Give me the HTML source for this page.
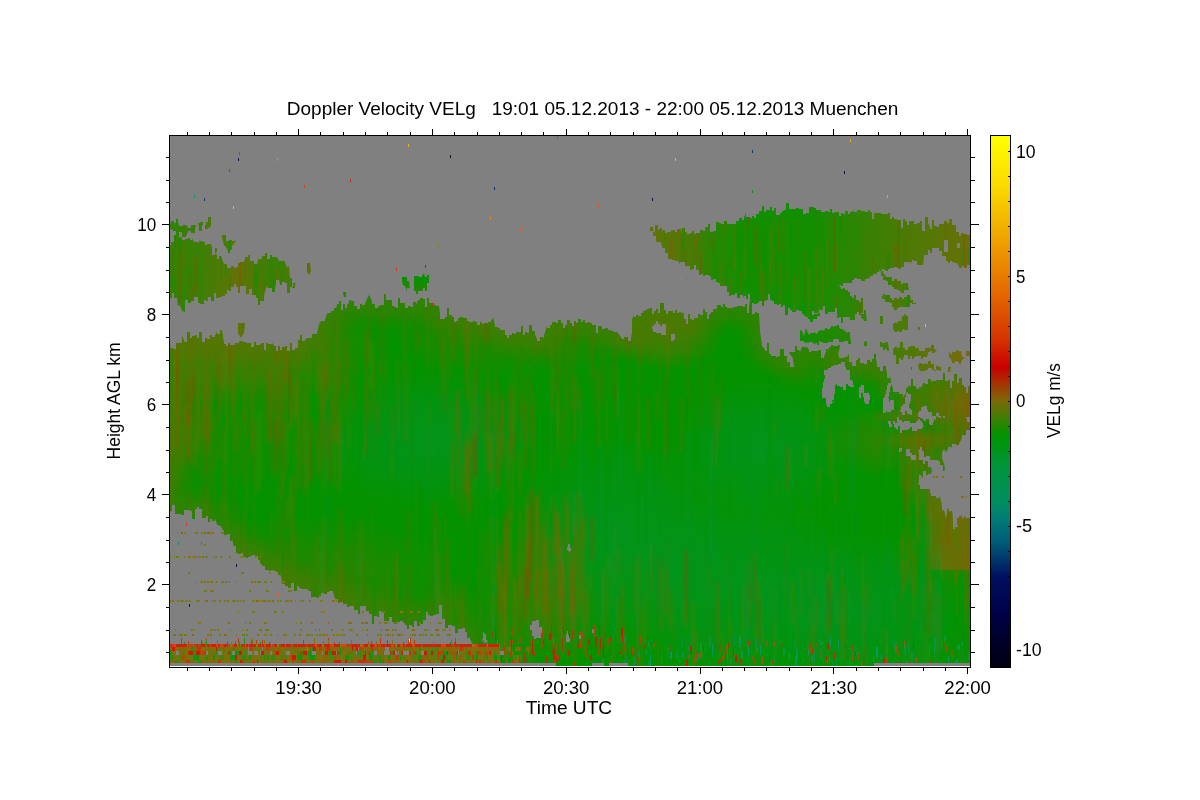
<!DOCTYPE html>
<html lang="en"><head><meta charset="utf-8"><title>Doppler Velocity VELg</title>
<style>html,body{margin:0;padding:0;background:#fff}svg{display:block}text{font-family:"Liberation Sans",Arial,Helvetica,sans-serif;fill:#000}</style></head><body>
<svg width="1200" height="800" viewBox="0 0 1200 800">
<rect width="1200" height="800" fill="#fff"/>
<defs>
<clipPath id="cl">
<polygon points="169,346 169,348 171,348 171,348 173,348 173,349 176,349 176,346 176,343 179,343 179,343 179,343 182,343 182,336 185,343 185,342 187,342 187,332 190,332 190,339 190,338 192,338 192,336 195,336 195,339 195,335 197,335 197,338 199,338 199,338 199,332 202,332 202,342 205,342 205,335 205,338 207,338 207,339 210,339 210,339 210,335 212,335 212,337 215,337 215,336 217,332 217,334 220,334 220,330 222,330 222,331 224,344 224,344 226,344 226,346 228,346 228,343 230,343 230,345 230,345 233,345 233,345 235,345 235,343 238,343 238,344 240,341 240,341 243,341 243,342 246,342 246,343 246,343 249,343 249,343 251,343 251,344 251,347 254,347 254,342 256,342 256,345 258,345 258,345 260,345 260,345 262,343 262,343 264,343 264,350 266,350 266,343 268,343 268,344 270,344 270,344 272,344 272,343 274,346 274,346 276,346 276,351 278,351 278,346 280,346 280,346 280,350 282,350 282,347 285,347 285,346 287,346 287,348 287,351 290,351 290,343 292,343 292,350 295,350 295,349 295,348 298,348 298,342 298,340 300,340 300,335 302,335 302,339 302,341 305,341 305,339 307,339 307,335 307,338 310,338 310,338 312,338 312,335 312,334 315,334 315,334 317,334 317,334 319,325 321,321 321,321 325,321 325,320 327,314 328,313 328,313 331,313 331,311 331,311 334,311 334,308 336,308 336,310 337,305 337,304 339,304 339,301 341,301 341,310 343,310 343,304 345,304 345,308 347,308 347,305 349,303 349,300 351,300 351,301 354,301 354,301 354,306 357,306 357,306 357,309 360,309 360,304 362,304 362,305 365,305 365,304 367,299 369,295 372,301 372,304 375,304 375,306 375,308 378,308 378,306 380,306 380,306 380,305 384,305 384,302 384,294 386,294 386,300 388,300 388,299 388,300 392,300 392,305 392,306 394,306 394,307 396,307 396,308 396,308 398,308 398,298 400,298 400,304 400,303 403,303 403,303 405,303 405,301 405,308 408,308 408,306 408,306 411,306 411,307 413,307 413,302 416,302 416,305 418,300 418,300 420,300 420,298 423,298 423,299 425,299 425,299 425,307 427,307 427,298 429,298 429,303 429,303 432,303 432,303 434,303 434,305 436,305 436,304 436,306 439,306 440,315 440,319 443,319 443,319 445,319 445,318 445,317 447,317 447,308 449,308 449,314 449,315 452,315 452,317 454,317 454,319 454,322 456,322 456,321 458,321 458,319 458,318 460,318 460,317 463,317 463,318 465,318 465,316 465,318 467,318 467,321 469,321 469,320 469,322 473,322 473,323 473,321 475,321 475,322 477,322 477,325 477,325 480,325 480,323 480,322 482,322 482,324 484,324 484,323 486,323 486,323 488,323 488,322 490,322 490,323 493,318 495,326 495,327 498,327 498,328 500,328 500,330 500,330 503,330 503,330 505,330 505,333 505,335 507,335 507,338 509,338 509,335 509,335 512,335 512,333 514,333 514,334 514,334 516,334 516,332 518,332 518,333 518,332 521,332 521,326 523,326 523,335 525,335 525,332 527,332 527,333 529,333 529,325 532,325 532,333 532,331 535,331 535,335 537,340 537,341 540,341 540,337 543,337 543,340 545,333 547,326 547,328 550,328 550,325 552,325 552,324 552,322 554,322 554,322 556,322 556,322 556,323 558,323 558,320 561,320 561,323 563,323 563,328 565,328 565,323 565,325 567,325 567,320 570,320 570,323 572,323 572,326 574,326 574,323 574,321 576,321 576,323 578,323 578,319 581,319 581,322 581,322 583,322 583,320 585,320 585,323 587,323 587,322 590,322 590,323 592,323 592,324 592,325 594,325 594,325 596,325 596,333 598,333 598,325 598,326 602,326 602,329 602,329 605,329 605,325 605,328 608,328 608,330 608,330 611,330 611,331 614,331 614,331 614,332 617,332 617,332 620,336 622,339 622,339 624,339 624,337 626,337 626,337 628,337 628,341 631,341 631,339 632,333 632,320 634,315 634,317 636,317 636,315 638,315 638,316 641,316 641,314 641,313 643,313 643,311 645,311 645,310 647,310 647,311 647,309 649,309 649,308 652,308 652,314 654,314 654,311 656,311 656,309 658,309 658,313 660,313 660,303 662,303 662,303 664,303 664,310 666,310 666,314 668,314 668,311 670,311 670,311 673,311 673,313 675,313 675,310 677,310 677,313 679,313 679,312 681,312 681,313 683,313 683,311 684,319 684,319 686,319 686,324 688,324 688,314 690,314 690,319 692,319 692,320 694,320 694,319 694,318 698,318 698,315 698,314 700,314 700,315 703,315 703,311 703,309 705,309 705,312 707,312 707,319 709,319 709,314 711,314 711,312 713,312 713,309 716,309 716,312 717,307 717,305 719,305 719,305 721,305 721,307 723,307 723,304 725,304 725,307 727,307 727,308 729,308 729,308 731,308 731,308 733,308 733,307 735,307 735,307 737,307 737,306 739,306 739,306 741,306 741,306 743,306 743,307 745,307 745,304 747,304 747,313 749,313 749,307 750,300 752,300 752,314 752,314 755,314 755,312 757,312 757,313 759,313 759,315 760,332 762,346 765,350 765,351 767,351 767,343 769,343 769,354 771,354 771,352 771,356 773,356 773,356 776,356 776,356 776,357 778,357 778,356 780,356 780,357 780,354 780,349 784,349 784,354 784,359 784,356 787,356 787,360 787,362 790,362 790,365 790,367 794,367 794,366 793,358 790,354 789,352 789,352 793,352 793,349 793,352 795,352 795,346 797,346 797,350 799,350 799,351 801,351 801,349 803,346 803,347 807,347 807,347 809,350 809,352 811,352 811,351 813,351 813,351 816,351 816,351 818,351 818,351 818,350 821,350 821,354 821,358 824,358 824,357 826,352 826,349 829,349 829,350 829,346 829,347 831,347 831,345 833,345 833,346 836,346 836,346 838,346 838,345 840,345 840,346 839,350 838,354 839,357 839,358 842,358 842,358 844,358 844,357 847,357 847,357 849,354 849,362 852,362 852,357 852,366 856,366 856,360 856,360 858,360 858,358 860,358 860,362 860,363 864,363 864,362 864,364 867,364 867,360 867,360 870,360 870,362 872,362 872,359 874,359 874,354 876,354 876,359 877,367 880,367 880,372 880,371 883,371 883,366 886,366 886,373 887,370 887,378 890,378 890,374 891,384 893,388 893,392 896,392 896,393 896,392 899,392 899,394 899,394 903,394 903,398 906,393 906,389 909,386 909,386 911,386 911,379 913,379 913,386 915,386 915,386 917,389 917,389 919,389 919,387 921,387 921,389 923,384 923,383 925,383 925,384 928,384 928,381 928,379 931,379 931,381 932,384 932,381 936,381 936,381 936,380 938,380 938,380 940,380 940,380 943,380 943,373 945,373 945,381 945,381 948,381 948,380 950,380 950,381 950,388 952,388 952,381 954,381 954,374 957,374 957,383 959,383 959,381 959,384 959,378 962,378 962,385 964,385 964,386 964,387 966,387 966,393 968,393 968,386 970,386 970,386 970,429 970,430 966,430 966,430 966,435 966,435 962,435 962,436 961,440 959,443 959,445 956,445 956,444 956,444 952,444 952,446 951,448 951,447 948,447 948,449 946,452 944,449 942,452 942,459 944,464 945,470 943,471 943,465 940,465 940,461 938,461 938,460 938,460 934,460 934,459 934,460 932,460 932,460 930,460 930,460 930,456 926,456 926,455 926,457 924,457 924,451 922,451 922,447 920,447 920,449 918,450 919,455 919,460 921,460 921,460 923,460 923,462 923,464 925,464 925,461 928,461 928,464 928,467 931,467 931,468 932,472 930,474 930,474 928,474 928,475 926,475 926,471 923,471 923,476 921,476 921,475 919,475 919,475 918,488 918,488 918,485 920,485 920,489 922,489 922,489 925,489 925,489 927,489 927,489 929,489 929,488 931,496 931,496 934,496 934,496 936,496 936,498 939,498 939,496 941,501 942,510 944,511 946,520 948,508 949,512 952,511 953,526 953,529 955,529 955,527 958,527 958,526 957,521 957,518 959,518 959,516 961,516 961,514 962,520 965,516 966,521 966,518 970,518 970,521 970,666 472,666 472,643 469,636 469,638 467,638 467,632 465,632 465,633 465,628 462,628 462,623 462,629 458,629 458,633 458,633 455,633 455,629 455,626 452,626 452,622 452,625 448,625 448,629 448,628 445,628 445,622 445,619 442,619 442,612 442,605 439,605 439,614 436,614 436,614 436,612 436,615 433,615 433,614 433,616 430,616 430,615 428,615 428,612 426,612 426,616 426,620 423,620 423,622 423,624 420,624 420,626 417,626 417,623 417,621 414,621 414,627 412,627 412,626 412,625 409,625 409,629 407,629 407,629 407,625 405,625 405,623 403,623 403,620 403,621 400,621 400,622 397,622 397,624 397,624 394,624 394,622 392,622 392,620 392,617 389,617 389,621 386,621 386,617 386,621 384,621 384,612 382,612 382,610 382,611 379,611 379,617 377,617 377,616 377,616 374,616 374,624 372,624 372,616 372,614 369,614 369,611 366,611 366,611 366,606 363,606 363,608 363,606 360,606 360,614 358,614 358,614 358,610 356,610 356,610 354,610 354,606 354,606 351,606 351,606 349,606 349,607 347,607 347,604 347,604 345,604 345,604 343,604 343,602 340,602 340,604 340,603 338,603 338,599 335,599 335,598 333,592 333,591 329,591 329,593 329,592 327,592 327,594 324,594 324,593 321,593 321,594 321,596 319,596 319,598 317,598 317,599 317,597 314,597 314,598 314,597 311,597 311,591 308,591 308,590 308,589 306,589 306,589 304,589 304,589 301,589 301,589 301,588 299,588 299,586 297,586 297,586 297,591 294,591 294,583 291,583 291,590 291,588 288,588 288,584 288,586 285,586 285,584 282,584 282,580 280,573 280,575 278,575 278,572 276,572 276,571 274,571 274,572 274,570 271,570 271,571 269,571 269,570 267,570 267,571 267,570 265,570 265,566 262,566 262,564 262,564 260,564 260,560 258,560 258,558 258,556 255,556 255,555 252,555 252,557 252,556 250,556 250,557 248,557 248,558 246,558 246,556 246,557 243,557 243,553 241,553 241,554 238,554 238,553 238,553 236,553 236,546 234,546 234,547 232,538 232,541 230,541 230,534 227,534 227,538 227,535 224,535 224,531 221,527 221,526 219,526 219,525 217,525 217,524 215,518 215,521 212,521 212,519 210,519 210,519 210,522 208,522 208,516 206,516 206,514 206,518 202,518 202,511 202,509 199,509 199,508 199,507 197,507 197,509 195,509 195,511 195,519 192,519 192,511 190,511 190,514 190,510 187,510 187,513 187,510 184,510 184,512 184,515 181,515 181,514 179,514 179,514 179,514 177,514 177,514 175,514 175,511 175,505 172,505 172,511 169,511 169,507" />
<polygon points="402,281 402,277 405,277 405,278 405,277 407,277 407,281 409,281 409,281 410,290 410,288 407,288 407,291 405,286 403,285" />
<polygon points="414,277 414,276 416,276 416,276 419,276 419,277 422,277 422,276 424,273 425,277 425,277 427,277 427,275 429,275 429,278 429,291 429,283 427,283 427,291 425,291 425,288 423,288 423,291 420,291 420,291 418,291 418,294 416,294 416,291 414,291 414,291" />
<polygon points="343,292 343,292 346,292 346,292 346,297 344,297" />
</clipPath>
<clipPath id="clS">
<polygon points="800,330 802,331 804,336 806,328 808,333 810,336 810,333 814,333 814,332 817,334 819,330 819,331 823,331 823,332 823,330 827,330 827,330 827,329 830,329 830,329 830,328 834,328 834,327 834,326 836,326 836,326 839,326 839,327 840,330 840,329 843,329 843,331 845,331 845,330 847,334 847,336 850,336 850,336 850,342 850,344 848,344 848,341 845,341 845,342 844,340 844,341 841,341 841,342 839,342 839,340 838,339 838,338 834,338 834,339 833,340 833,342 829,342 829,341 828,343 828,343 826,343 826,343 823,343 823,342 823,340 821,340 821,341 819,341 819,345 817,345 817,343 814,344 812,342 812,342 809,342 809,343 807,343 807,342 804,343 804,341 800,341 800,342" />
<polygon points="803,313 803,314 805,314 805,313 807,313 807,314 810,314 810,313 812,313 812,315 814,315 814,314 816,314 816,314 818,314 818,313 820,313 820,313 820,316 820,316 817,316 817,316 817,319 813,319 813,318 813,322 810,322 810,319 808,319 808,318 807,316 807,315 804,315 804,315" />
<polygon points="861,314 861,314 864,314 864,315 866,315 866,314 867,321 864,321 863,319 861,318" />
<polygon points="880,316 883,316 883,324 880,324" />
<polygon points="864,342 867,341 867,346 864,346" />
<polygon points="764,313 764,315 767,315 767,313 769,313 769,313 769,316 769,314 765,314 765,316" />
<polygon points="893,324 896,322 898,326 898,321 901,321 901,324 902,317 905,314 908,317 908,331 908,330 906,330 906,330 904,330 904,329 902,329 902,332 899,332 899,331 897,331 897,332 895,332 895,332 893,329" />
<polygon points="918,327 920,327 920,330 918,330" />
<polygon points="894,349 896,349 896,348 899,348 899,347 902,347 902,347 902,348 905,348 905,349 905,350 908,350 908,347 910,347 910,346 910,346 912,346 912,346 915,346 915,348 918,348 918,346 919,349 919,351 921,351 921,351 923,351 923,351 925,351 925,348 928,348 928,349 929,346 929,348 931,348 931,345 934,345 934,346 934,349 937,350 934,353 934,353 932,353 932,351 930,351 930,352 928,352 928,354 927,357 927,357 925,357 925,357 923,357 923,359 921,359 921,356 918,356 918,356 916,356 916,357 914,357 914,359 912,359 912,356 910,356 910,359 908,359 908,355 906,355 906,355 904,355 904,357 902,359 902,358 899,358 899,359 899,357 899,357 897,357 897,354 894,354 894,356 893,353" />
<polygon points="880,344 880,342 882,342 882,343 885,343 885,342 888,342 888,343 889,349 889,349 887,349 887,349 884,349 884,347 882,347 882,344 880,344 880,349" />
<polygon points="864,343 867,341 867,346 864,346" />
<polygon points="918,366 920,362 920,363 922,363 922,364 925,364 925,364 926,362 926,364 928,364 928,361 931,361 931,364 933,364 933,362 934,365 934,370 936,370 936,366 939,366 939,367 941,367 941,366 941,370 941,371 939,371 939,370 936,370 936,371 934,371 934,370 932,370 932,368 930,368 930,368 928,368 928,370 926,370 926,370 924,372 924,371 921,371 921,372 919,369" />
<polygon points="949,351 951,355 953,351 953,352 956,352 956,350 958,350 958,351 961,351 961,351 962,357 965,357 962,360 961,362 961,364 959,364 959,362 957,362 957,361 955,361 955,363 952,363 952,362 951,359 949,357" />
<polygon points="966,350 966,351 970,351 970,349 970,357 970,356 966,356 966,357" />
<polygon points="948,367 951,367 950,372 948,372" />
<polygon points="820,330 822,330 822,331 825,331 825,328 827,328 827,332 829,332 829,330 831,327 831,326 833,326 833,327 835,327 835,326 837,326 837,325 839,325 839,327 841,330 841,330 844,330 844,330 847,334 847,332 850,332 850,336 851,342 851,344 848,344 848,340 845,340 845,342 844,340 844,342 841,342 841,339 839,339 839,340 838,338 838,339 834,339 834,338 832,340 832,340 829,340 829,340 826,342 826,342 824,342 824,342 822,342 822,342 820,342 820,342" />
<polygon points="861,314 861,316 864,316 864,307 866,307 866,314 867,321 864,321 863,319 861,318" />
<polygon points="894,324 896,322 897,326 897,323 899,323 899,326 901,326 901,324 903,324 903,324 903,332 903,330 900,330 900,330 898,330 898,330 896,330 896,332 894,328" />
<polygon points="880,344 880,342 882,342 882,343 885,343 885,342 887,342 887,343 889,349 889,351 887,351 887,348 885,348 885,350 883,350 883,347 880,347 880,349" />
<polygon points="893,349 896,346 898,349 898,351 900,351 900,342 903,342 903,349 903,359 903,360 901,360 901,358 899,358 899,358 899,364 896,364 896,355 894,355 894,356" />
</clipPath>
<clipPath id="clUR">
<polygon points="650,226 650,227 653,227 653,231 655,233 655,225 658,225 658,231 661,227 663,232 663,230 665,230 665,233 667,233 667,232 670,232 670,232 672,230 672,230 675,230 675,232 677,232 677,231 677,229 681,229 681,228 682,234 682,228 685,228 685,232 687,232 687,233 687,234 690,234 690,233 692,233 692,231 692,231 694,231 694,234 696,234 696,233 696,233 700,233 700,231 700,230 703,230 703,230 703,231 705,231 705,227 708,227 708,226 708,224 710,224 710,232 713,232 713,225 713,231 716,231 716,222 719,222 719,223 719,223 721,223 721,224 724,224 724,222 724,221 727,221 727,224 730,224 730,224 730,224 732,224 732,224 734,224 734,224 736,224 736,222 736,221 739,221 739,218 742,218 742,220 744,220 744,218 746,212 746,217 750,217 750,218 750,218 752,218 752,216 754,216 754,218 756,218 756,216 756,214 759,214 759,211 762,211 762,207 762,206 764,206 764,212 766,212 766,211 766,210 770,210 770,207 770,207 772,207 772,211 774,211 774,208 776,208 776,211 776,215 780,215 780,215 780,213 782,213 782,211 784,211 784,210 786,210 786,207 786,203 789,203 789,209 792,209 792,212 792,209 794,209 794,209 796,209 796,208 799,208 799,207 799,209 801,209 801,209 803,209 803,208 803,214 806,214 806,213 809,213 809,207 809,207 812,207 812,207 814,207 814,210 814,208 816,208 816,210 819,210 819,210 821,210 821,210 821,212 823,212 823,212 825,212 825,211 828,211 828,213 828,212 830,212 830,209 832,209 832,211 832,213 834,213 834,212 836,212 836,213 836,212 839,212 839,216 841,216 841,214 841,213 843,213 843,214 845,214 845,211 848,211 848,212 848,214 850,214 850,212 852,212 852,211 854,211 854,213 854,212 857,212 857,210 859,210 859,210 861,210 861,210 861,211 863,211 863,211 865,211 865,212 868,212 868,211 868,210 870,210 870,212 872,212 872,214 872,219 874,219 874,213 877,213 877,213 879,213 879,213 881,213 881,214 881,214 883,214 883,214 886,214 886,213 886,214 888,214 888,213 890,213 890,213 890,221 890,219 892,219 892,217 894,217 894,218 894,219 897,219 897,220 899,220 899,220 901,220 901,221 901,228 903,228 903,219 905,219 905,221 907,221 907,225 909,225 909,221 911,221 911,220 911,221 914,221 914,224 914,224 917,224 917,223 920,223 920,221 922,221 922,224 922,231 925,231 925,217 928,217 928,223 930,227 930,229 932,229 932,220 934,220 934,226 937,226 937,227 937,227 939,227 939,224 942,224 942,223 942,224 944,224 944,221 947,221 947,222 947,223 949,223 949,219 952,219 952,221 952,225 956,225 956,228 956,232 959,232 959,231 959,236 961,236 961,233 963,233 963,233 963,234 967,234 967,235 967,235 970,235 970,233 970,267 970,265 967,265 967,268 964,268 964,266 964,266 962,266 962,268 959,268 959,266 957,264 957,263 954,263 954,262 952,262 952,261 950,261 950,263 950,263 948,263 948,261 946,261 946,258 946,256 942,256 942,253 942,251 939,251 939,248 939,248 936,248 936,247 936,248 932,248 932,251 932,253 930,253 930,250 928,250 928,253 928,255 924,255 924,256 923,266 923,265 920,265 920,266 920,265 917,265 917,263 917,261 914,261 914,260 912,260 912,261 910,264 910,262 907,262 907,262 904,262 904,264 904,267 901,267 901,267 901,269 899,269 899,268 897,268 897,267 894,267 894,268 892,268 892,268 892,268 890,268 890,269 888,269 888,271 886,271 886,270 884,270 884,269 882,269 882,270 880,270 880,270 879,272 879,271 881,271 881,271 883,271 883,273 886,276 886,277 889,277 889,280 889,277 892,277 892,281 894,281 894,281 894,279 897,279 897,281 899,281 899,281 901,281 901,284 903,284 903,282 903,283 906,283 906,283 908,283 908,286 909,291 909,290 906,290 906,290 904,290 904,293 901,293 901,291 901,291 899,291 899,290 897,290 897,289 894,289 894,288 894,287 892,287 892,285 890,285 890,285 890,285 888,285 888,281 886,281 886,281 886,280 883,280 883,276 881,276 881,276 881,270 879,270 879,272 877,272 877,273 877,274 873,274 873,274 873,276 870,276 870,278 870,278 868,278 868,279 865,279 865,281 863,281 863,280 863,281 861,281 861,279 859,279 859,280 859,279 857,279 857,278 854,278 854,280 852,280 852,283 850,283 850,281 850,283 848,283 848,283 845,283 845,282 845,283 843,283 843,286 841,286 841,285 839,285 839,285 841,288 841,289 843,289 843,288 845,288 845,290 848,290 848,291 848,292 850,292 850,296 852,296 852,294 852,298 854,298 854,295 856,295 856,299 856,300 859,300 859,302 861,302 861,298 863,298 863,301 863,313 863,313 861,313 861,315 859,315 859,312 857,312 857,313 857,318 857,314 855,314 855,320 852,320 852,320 850,320 850,319 850,317 848,317 848,317 845,317 845,315 845,317 843,317 843,323 841,323 841,317 839,317 839,318 839,318 837,318 837,308 835,308 835,312 832,312 832,312 832,312 830,312 830,312 828,312 828,314 825,314 825,306 823,306 823,312 823,310 820,310 820,308 818,314 818,313 814,313 814,316 814,311 812,311 812,317 809,317 809,318 809,317 806,317 806,316 804,316 804,314 804,314 802,314 802,311 799,311 799,310 799,310 796,310 796,312 794,312 794,311 794,312 792,312 792,310 790,310 790,308 788,308 788,310 788,315 785,315 785,305 783,305 783,307 781,307 781,304 781,304 779,304 779,305 777,305 777,304 774,304 774,301 772,301 772,300 770,300 770,301 770,294 768,294 768,300 766,300 766,301 764,301 764,302 764,306 762,306 762,301 759,301 759,303 757,303 757,304 757,304 754,304 754,303 752,303 752,300 750,300 750,294 748,294 748,299 746,299 746,296 744,296 744,298 742,294 742,295 740,295 740,298 737,298 737,299 737,293 735,293 735,295 733,295 733,295 731,295 731,293 731,296 729,296 729,292 727,292 727,286 725,286 725,287 725,286 723,286 723,286 720,286 720,283 718,283 718,282 718,282 716,282 716,279 713,279 713,281 713,280 711,280 711,276 709,276 709,275 709,275 707,275 707,275 705,275 705,276 703,276 703,275 703,274 701,274 701,275 699,275 699,272 699,270 696,270 696,265 694,265 694,272 694,269 692,269 692,270 690,270 690,267 690,266 687,266 687,266 685,266 685,264 685,262 682,262 682,262 680,262 680,264 677,260 677,261 675,261 675,260 672,260 672,260 672,259 668,259 668,255 668,253 665,253 665,251 665,248 662,248 662,246 660,241 660,242 656,242 656,238 656,236 653,236 653,235 653,231 650,231" />
<polygon points="881,295 881,296 883,296 883,294 885,294 885,295 888,295 888,295 888,295 890,295 890,298 892,298 892,297 892,300 894,300 894,298 897,298 897,299 899,299 899,299 899,297 902,297 902,299 904,299 904,297 904,297 907,297 907,295 910,295 910,295 911,300 911,300 913,300 913,303 916,303 916,301 916,304 912,304 912,303 912,303 910,303 910,307 908,307 908,305 908,307 906,307 906,307 903,307 903,309 903,307 901,307 901,307 899,307 899,308 897,308 897,308 897,310 894,310 894,307 892,307 892,305 892,303 890,303 890,302 888,302 888,302 888,302 885,302 885,299 883,299 883,300" />
</clipPath>
<clipPath id="clUL">
<polygon points="169,242 169,245 171,245 171,242 174,242 174,237 174,235 176,235 176,232 178,232 178,240 178,238 180,238 180,237 182,237 182,241 182,240 185,240 185,239 188,239 188,238 188,238 190,238 190,240 192,240 192,238 194,242 194,242 196,242 196,242 198,242 198,242 199,244 199,241 201,241 201,241 203,241 203,242 205,242 205,245 207,245 207,244 209,244 209,244 211,244 211,244 212,247 212,255 215,255 215,248 217,248 217,248 217,252 215,253 217,255 217,259 219,259 219,256 221,256 221,256 224,264 224,264 227,264 227,268 227,268 229,268 229,268 231,268 231,266 234,266 234,268 236,268 236,268 236,267 238,267 238,263 240,263 240,264 240,262 244,262 244,262 246,256 246,257 248,257 248,255 250,255 250,256 250,261 254,261 254,263 254,264 257,264 257,264 259,257 259,259 262,259 262,256 265,256 265,255 265,253 267,253 267,259 270,259 270,255 272,255 272,256 272,257 275,257 275,257 277,257 277,257 279,261 279,261 282,261 282,261 285,261 285,263 287,268 289,266 290,280 290,278 292,278 292,288 295,288 295,281 296,286 296,283 293,283 293,287 290,287 290,287 290,293 287,293 287,283 287,283 285,283 285,282 282,282 282,285 280,285 280,283 279,280 279,280 276,280 276,284 275,288 275,292 272,292 272,288 270,288 270,288 268,288 268,288 267,286 265,291 264,296 264,301 260,301 260,299 260,305 258,305 258,298 256,298 256,296 256,295 252,295 252,291 252,289 249,289 249,286 249,294 246,294 246,286 244,286 244,284 244,286 240,286 240,286 240,293 238,293 238,287 236,287 236,284 234,284 234,286 234,287 231,287 231,291 229,291 229,288 229,290 227,290 227,294 225,294 225,294 225,296 222,296 222,297 219,297 219,296 219,298 216,298 216,293 214,293 214,301 214,301 211,301 211,297 208,297 208,302 208,301 206,301 206,300 204,300 204,301 204,304 200,304 200,305 200,303 198,303 198,297 196,297 196,297 194,297 194,301 194,301 191,301 191,303 188,303 188,304 188,300 185,300 185,312 182,311 180,305 178,306 177,299 177,298 174,298 174,293 172,293 172,298 169,298 169,294" />
<polygon points="169,223 169,223 171,223 171,221 174,221 174,221 174,223 176,223 176,219 178,219 178,222 179,226 179,226 181,226 181,226 183,226 183,225 186,225 186,225 188,227 188,228 191,228 191,225 191,225 194,225 194,225 196,225 196,225 195,230 195,233 191,233 191,234 191,231 188,231 188,232 186,236 186,237 182,237 182,237 182,232 179,232 179,233 179,240 176,240 176,231 176,231 173,231 173,230 171,230 171,229 169,229 169,230" />
<polygon points="198,224 198,223 200,223 200,222 203,222 203,225 206,225 206,223 206,222 208,222 208,217 211,217 211,225 210,227 210,228 208,228 208,229 205,229 205,225 202,225 202,228 202,231 199,231 199,227" />
<polygon points="222,238 222,235 226,235 226,237 226,241 229,241 229,238 229,240 232,240 232,237 232,241 236,241 236,238 235,243 232,246 232,251 232,250 230,250 230,253 228,253 228,251 226,247 224,245" />
<polygon points="307,264 307,263 310,263 310,264 311,271 309,275 307,272" />
<polygon points="238,324 238,323 240,323 240,323 243,323 243,323 245,323 245,324 244,333 241,338 238,333" />
</clipPath>
<clipPath id="plot"><rect x="170" y="136" width="800" height="530"/></clipPath>
<linearGradient id="cb" x1="0" y1="0" x2="0" y2="1"><stop offset="0.0" stop-color="#ffff00"/><stop offset="0.0991" stop-color="#fad800"/><stop offset="0.2642" stop-color="#e87c00"/><stop offset="0.3821" stop-color="#d63400"/><stop offset="0.4354" stop-color="#c80000"/><stop offset="0.467" stop-color="#a53404"/><stop offset="0.5" stop-color="#7a6a08"/><stop offset="0.5642" stop-color="#009400"/><stop offset="0.6226" stop-color="#00963c"/><stop offset="0.6887" stop-color="#008e60"/><stop offset="0.7264" stop-color="#007878"/><stop offset="0.7642" stop-color="#005c78"/><stop offset="0.8302" stop-color="#001060"/><stop offset="0.9009" stop-color="#000046"/><stop offset="1.0" stop-color="#000010"/></linearGradient>
<radialGradient id="gOl"><stop offset="0" stop-color="#647207" stop-opacity="0.8"/><stop offset="0.55" stop-color="#647207" stop-opacity="0.48"/><stop offset="1" stop-color="#647207" stop-opacity="0"/></radialGradient>
<radialGradient id="gOl2"><stop offset="0" stop-color="#4d7905" stop-opacity="0.5"/><stop offset="0.55" stop-color="#4d7905" stop-opacity="0.30"/><stop offset="1" stop-color="#4d7905" stop-opacity="0"/></radialGradient>
<radialGradient id="gOr"><stop offset="0" stop-color="#7d6608" stop-opacity="0.85"/><stop offset="0.55" stop-color="#7d6608" stop-opacity="0.51"/><stop offset="1" stop-color="#7d6608" stop-opacity="0"/></radialGradient>
<radialGradient id="gTe"><stop offset="0" stop-color="#009632" stop-opacity="0.55"/><stop offset="0.55" stop-color="#009632" stop-opacity="0.33"/><stop offset="1" stop-color="#009632" stop-opacity="0"/></radialGradient>
<radialGradient id="gGr"><stop offset="0" stop-color="#009400" stop-opacity="0.8"/><stop offset="0.55" stop-color="#009400" stop-opacity="0.48"/><stop offset="1" stop-color="#009400" stop-opacity="0"/></radialGradient>
<linearGradient id="reg" x1="0" y1="0" x2="1" y2="0"><stop offset="0" stop-color="#687007" stop-opacity="0"/><stop offset="0.3" stop-color="#716d07" stop-opacity="0.8"/><stop offset="1" stop-color="#7d6608" stop-opacity="0.9"/></linearGradient>
<linearGradient id="smg" x1="0" y1="0" x2="1" y2="0"><stop offset="0" stop-color="#0e8f01"/><stop offset="0.3" stop-color="#258702"/><stop offset="0.6" stop-color="#497b05"/><stop offset="0.85" stop-color="#687007"/><stop offset="1" stop-color="#766c08"/></linearGradient>
<linearGradient id="urg" x1="0" y1="0" x2="1" y2="0"><stop offset="0" stop-color="#647207"/><stop offset="0.1" stop-color="#567606"/><stop offset="0.2" stop-color="#2e8403"/><stop offset="0.3" stop-color="#138e01"/><stop offset="0.5" stop-color="#138e01"/><stop offset="0.62" stop-color="#298603"/><stop offset="0.75" stop-color="#447d04"/><stop offset="0.88" stop-color="#567606"/><stop offset="1" stop-color="#687007"/></linearGradient>
<linearGradient id="ulg" x1="0" y1="0" x2="1" y2="0"><stop offset="0" stop-color="#2e8403"/><stop offset="0.2" stop-color="#3b8004"/><stop offset="0.42" stop-color="#647207"/><stop offset="0.55" stop-color="#4d7905"/><stop offset="0.66" stop-color="#2e8403"/><stop offset="0.78" stop-color="#4d7905"/><stop offset="1" stop-color="#5b7506"/></linearGradient>
</defs>
<rect x="170" y="136" width="800" height="530.0" fill="#808080"/>
<g clip-path="url(#cl)" shape-rendering="crispEdges">
<rect x="169" y="135" width="802" height="532" fill="#059200"/>
<ellipse cx="215" cy="345" rx="170" ry="60" fill="url(#gOl)"/>
<ellipse cx="175" cy="400" rx="40" ry="110" fill="url(#gOl2)"/>
<ellipse cx="300" cy="585" rx="170" ry="70" fill="url(#gOl2)"/>
<ellipse cx="540" cy="600" rx="70" ry="70" fill="url(#gOl2)"/>
<ellipse cx="520" cy="330" rx="130" ry="45" fill="url(#gOl2)"/>
<ellipse cx="665" cy="330" rx="60" ry="40" fill="url(#gOl)"/>
<ellipse cx="430" cy="440" rx="110" ry="70" fill="url(#gTe)"/>
<ellipse cx="620" cy="540" rx="110" ry="110" fill="url(#gTe)"/>
<ellipse cx="740" cy="590" rx="120" ry="100" fill="url(#gTe)"/>
<ellipse cx="860" cy="610" rx="110" ry="80" fill="url(#gTe)"/>
<ellipse cx="760" cy="450" rx="90" ry="70" fill="url(#gTe)"/>
<ellipse cx="962" cy="535" rx="42" ry="50" fill="url(#gOl2)"/>
<rect x="924" y="490" width="47" height="80" fill="url(#reg)"/>
<ellipse cx="860" cy="362" rx="45" ry="22" fill="url(#gOl2)"/>
<ellipse cx="978" cy="402" rx="80" ry="42" fill="url(#gOr)"/>
<ellipse cx="975" cy="402" rx="50" ry="30" fill="url(#gOr)"/>
<ellipse cx="900" cy="416" rx="30" ry="8" fill="url(#gOl)"/>
<ellipse cx="920" cy="440" rx="42" ry="11" fill="url(#gOl)"/>
<ellipse cx="880" cy="440" rx="60" ry="35" fill="url(#gOl2)"/>
<filter id="bl" x="-5%" y="-5%" width="110%" height="110%"><feGaussianBlur stdDeviation="7"/></filter>
<polygon points="169,346.4 175.7,346.4 179,343 182.4,336.4 184.6,343 190.1,338.6 194.6,338.6 199,337.5 204.6,335.3 210.2,338.6 214.6,336.4 216.8,331.9 222.4,330.8 223.5,344.2 230.2,345.3 238,344.2 240.2,340.8 245.8,343 251.3,344.2 260.2,345.3 262.5,343 272.5,343 273.6,345.9 280.3,346.4 286.9,347.5 294.7,348.6 298.1,341.9 302.5,338.6 307,335.3 312.5,335.3 317,334.1 319.2,325.2 321.4,320.8 324.8,319.7 327,314.1 328.1,313 331.4,310.8 335.9,309.7 337,305.2 347,305.2 349.2,303 353.7,300.8 357,306.3 364.8,304.1 367,298.6 369.3,295.2 371.5,300.8 374.8,306.3 380.4,306.3 383.7,301.9 388.2,298.6 391.5,305.2 396,307.5 400.4,304.1 404.9,300.8 408.2,306.3 416,305.2 418.2,299.7 424.9,298.6 429.3,303 436,304.1 436,306.3 438.7,306.3 440.5,315.2 444.9,317.5 449.4,314.1 453.8,318.6 458.3,318.6 464.9,316.3 469.4,319.7 472.7,323 477.2,325.2 480.5,323 490.5,323 492.7,317.5 495,326.4 500.5,329.7 505,333 509.4,335.3 513.9,334.1 518.3,333 531.7,333 535,335.3 537.2,339.7 542.8,339.7 545,333 547.3,326.4 551.7,324.1 556.2,321.9 565.1,323 574,323 580.6,321.9 591.8,324.1 598.4,325.2 601.8,328.6 605.1,325.2 608.5,329.7 614,330.8 617.4,331.9 619.6,336.4 621.8,338.6 630.7,338.6 631.8,333 631.8,319.7 634,315.2 640.7,314.1 647.4,311.2 683,311.2 684.1,318.6 694.1,318.6 697.5,315.2 703,311.2 715.5,311.5 717,307 749,307 750,300.5 752,300.5 752.5,314 759,315 759.9,331.8 762.4,345.5 764.9,349.9 771.1,351.8 775.5,355.5 779.9,356.8 780.5,354.2 783.6,354.2 784.2,358.6 787.4,359.9 790.5,364.9 794.2,365.5 793,358 790.5,353.6 789.2,351.8 793,349.2 801.1,349.2 803,346.1 806.8,346.8 808.6,350.5 818,351.1 821.1,354.2 824.2,356.8 825.5,351.8 829.2,350.5 829.2,346.1 839.9,346.1 839.2,350.5 838,354.2 839.2,356.8 846.8,356.8 848.6,354.2 851.8,356.8 855.5,359.9 860.5,361.8 863.6,362.4 867.4,359.9 876.1,359.2 877.4,366.8 879.9,367.4 880.5,371.8 885.5,373 887.4,370.5 890.5,373.6 891.1,384.2 893.1,388 896.2,393 899.4,394.2 903.1,398 906,393 906.2,389.2 908.8,386.1 915,386.1 916.9,388.6 921.2,388.6 923.1,384.2 927.5,381.1 930.6,381.1 932.5,383.6 935.6,381.1 945,381.1 950,381.1 958.8,381.1 959.4,384.2 963.8,385.5 1010,386.1 1010,429.4 966.2,430 965.6,435 962.5,435.6 961.2,440 958.8,443.1 955.6,443.8 952.5,445.6 951.2,448.1 947.5,448.8 946.2,452.5 943.8,448.8 941.9,452.5 941.9,458.8 943.8,463.8 945,470 943.1,471.2 937.5,460 934.4,459.4 930,460 926.2,455 920,448.8 918.1,450 918.8,455 923.1,462.5 927.5,463.8 931.2,468.1 932.5,471.9 930,474.4 918.8,475 918.1,487.5 918.1,487.5 928.8,488.1 931.2,495.6 938.8,496.2 940.6,501.2 941.9,510 944.4,510.6 945.6,520 947.5,508.1 949.4,512.5 951.9,511.2 953.1,525.6 957.5,525.6 956.9,521.2 961.2,513.8 962.5,520 965,516.2 966.2,521.2 1010,520.6 1010,700 472,700 471.6,643.4 469.4,635.6 464.9,633.4 461.6,623.4 458.3,633.4 454.9,629 451.6,622.3 448.2,629 444.9,622.3 441.6,612.3 436,614.5 436,612.3 432.7,614.5 426,615.6 422.7,622.3 417.1,623.4 411.5,625.6 407.1,629 402.6,620.1 397.1,624.5 391.5,620.1 386,616.7 381.5,610 377.1,615.6 371.5,615.6 365.9,611.2 362.6,607.8 358.1,614.5 353.7,605.6 347,604.5 340.3,604.5 334.8,597.8 332.6,592.2 329.2,593.4 321.4,594.5 317,598.9 313.6,597.8 308.1,590 301.4,588.9 296.9,585.6 291.4,590 288,584.5 282.5,580 280.3,573.3 273.6,572.2 266.9,571.1 262.5,564.4 258,557.8 252.4,556.6 245.8,555.5 238,553.3 233.5,546.6 232.4,537.7 226.9,537.7 223.5,531.1 221.3,526.6 216.8,524.4 214.6,517.7 210.2,518.8 205.7,514.4 202.4,511 199,507.7 194.6,511 190.1,514.4 186.8,513.3 183.5,512.1 179,514.4 174.6,511 169,506.6" fill="none" stroke="#5b7506" stroke-width="26" opacity="0.48" filter="url(#bl)"/>
<filter id="sb" x="0" y="0" width="100%" height="100%" filterUnits="userSpaceOnUse"><feGaussianBlur stdDeviation="0.8 2.5"/></filter>
<g filter="url(#sb)">
<rect x="224" y="349" width="1" height="66" fill="#994305" opacity="0.18"/>
<rect x="269" y="421" width="1" height="35" fill="#8c5306" opacity="0.28"/>
<rect x="210" y="387" width="1" height="24" fill="#716d07" opacity="0.34"/>
<rect x="269" y="341" width="1" height="61" fill="#716d07" opacity="0.16"/>
<rect x="316" y="363" width="1" height="30" fill="#994305" opacity="0.24"/>
<rect x="309" y="352" width="2" height="61" fill="#806207" opacity="0.18"/>
<rect x="291" y="389" width="3" height="63" fill="#4d7905" opacity="0.31"/>
<rect x="302" y="379" width="2" height="85" fill="#806207" opacity="0.22"/>
<rect x="200" y="409" width="2" height="26" fill="#994305" opacity="0.30"/>
<rect x="228" y="378" width="1" height="63" fill="#5f7306" opacity="0.30"/>
<rect x="197" y="367" width="3" height="85" fill="#5f7306" opacity="0.44"/>
<rect x="182" y="388" width="2" height="75" fill="#806207" opacity="0.36"/>
<rect x="271" y="390" width="1" height="52" fill="#806207" opacity="0.29"/>
<rect x="283" y="341" width="3" height="69" fill="#806207" opacity="0.36"/>
<rect x="321" y="368" width="2" height="86" fill="#716d07" opacity="0.33"/>
<rect x="253" y="356" width="2" height="40" fill="#8c5306" opacity="0.27"/>
<rect x="318" y="343" width="2" height="51" fill="#716d07" opacity="0.40"/>
<rect x="317" y="361" width="2" height="49" fill="#4d7905" opacity="0.42"/>
<rect x="333" y="349" width="2" height="32" fill="#4d7905" opacity="0.22"/>
<rect x="252" y="391" width="1" height="38" fill="#716d07" opacity="0.28"/>
<rect x="232" y="389" width="1" height="87" fill="#8c5306" opacity="0.42"/>
<rect x="302" y="418" width="3" height="76" fill="#8c5306" opacity="0.27"/>
<rect x="187" y="395" width="1" height="24" fill="#716d07" opacity="0.28"/>
<rect x="188" y="392" width="2" height="27" fill="#994305" opacity="0.18"/>
<rect x="231" y="337" width="3" height="81" fill="#716d07" opacity="0.34"/>
<rect x="332" y="392" width="1" height="53" fill="#8c5306" opacity="0.45"/>
<rect x="249" y="381" width="1" height="26" fill="#4d7905" opacity="0.25"/>
<rect x="214" y="414" width="1" height="31" fill="#716d07" opacity="0.44"/>
<rect x="259" y="349" width="1" height="58" fill="#994305" opacity="0.24"/>
<rect x="279" y="344" width="2" height="79" fill="#716d07" opacity="0.26"/>
<rect x="207" y="386" width="2" height="55" fill="#994305" opacity="0.39"/>
<rect x="337" y="416" width="3" height="76" fill="#4d7905" opacity="0.39"/>
<rect x="203" y="382" width="1" height="71" fill="#806207" opacity="0.29"/>
<rect x="202" y="392" width="2" height="44" fill="#806207" opacity="0.17"/>
<rect x="186" y="380" width="3" height="44" fill="#994305" opacity="0.45"/>
<rect x="273" y="335" width="2" height="84" fill="#4d7905" opacity="0.18"/>
<rect x="282" y="421" width="2" height="75" fill="#8c5306" opacity="0.42"/>
<rect x="243" y="395" width="3" height="26" fill="#8c5306" opacity="0.27"/>
<rect x="331" y="404" width="2" height="32" fill="#5f7306" opacity="0.20"/>
<rect x="324" y="412" width="3" height="30" fill="#4d7905" opacity="0.43"/>
<rect x="196" y="387" width="1" height="21" fill="#994305" opacity="0.37"/>
<rect x="193" y="429" width="2" height="34" fill="#5f7306" opacity="0.23"/>
<rect x="219" y="358" width="2" height="61" fill="#994305" opacity="0.28"/>
<rect x="191" y="421" width="3" height="45" fill="#4d7905" opacity="0.33"/>
<rect x="324" y="375" width="2" height="84" fill="#994305" opacity="0.20"/>
<rect x="256" y="418" width="1" height="74" fill="#716d07" opacity="0.20"/>
<rect x="250" y="404" width="2" height="59" fill="#4d7905" opacity="0.31"/>
<rect x="264" y="410" width="1" height="27" fill="#716d07" opacity="0.21"/>
<rect x="176" y="344" width="1" height="52" fill="#5f7306" opacity="0.28"/>
<rect x="274" y="383" width="2" height="56" fill="#8c5306" opacity="0.30"/>
<rect x="307" y="383" width="2" height="37" fill="#994305" opacity="0.42"/>
<rect x="204" y="378" width="3" height="49" fill="#8c5306" opacity="0.24"/>
<rect x="284" y="376" width="2" height="35" fill="#5f7306" opacity="0.42"/>
<rect x="195" y="403" width="2" height="66" fill="#806207" opacity="0.41"/>
<rect x="334" y="356" width="3" height="87" fill="#8c5306" opacity="0.20"/>
<rect x="283" y="356" width="3" height="69" fill="#806207" opacity="0.28"/>
<rect x="230" y="344" width="2" height="46" fill="#994305" opacity="0.29"/>
<rect x="289" y="372" width="2" height="56" fill="#994305" opacity="0.44"/>
<rect x="188" y="422" width="1" height="36" fill="#5f7306" opacity="0.23"/>
<rect x="176" y="409" width="2" height="39" fill="#8c5306" opacity="0.40"/>
<rect x="285" y="425" width="3" height="48" fill="#4d7905" opacity="0.25"/>
<rect x="217" y="411" width="1" height="33" fill="#806207" opacity="0.43"/>
<rect x="277" y="411" width="2" height="26" fill="#5f7306" opacity="0.23"/>
<rect x="190" y="336" width="3" height="90" fill="#806207" opacity="0.34"/>
<rect x="176" y="402" width="2" height="86" fill="#806207" opacity="0.17"/>
<rect x="204" y="365" width="2" height="41" fill="#806207" opacity="0.28"/>
<rect x="284" y="361" width="2" height="76" fill="#5f7306" opacity="0.15"/>
<rect x="294" y="387" width="3" height="33" fill="#716d07" opacity="0.43"/>
<rect x="187" y="413" width="3" height="50" fill="#994305" opacity="0.40"/>
<rect x="236" y="383" width="2" height="68" fill="#806207" opacity="0.21"/>
<rect x="320" y="404" width="2" height="30" fill="#5f7306" opacity="0.40"/>
<rect x="171" y="394" width="3" height="82" fill="#716d07" opacity="0.17"/>
<rect x="283" y="371" width="2" height="55" fill="#994305" opacity="0.22"/>
<rect x="219" y="379" width="3" height="31" fill="#5f7306" opacity="0.23"/>
<rect x="333" y="427" width="2" height="58" fill="#5f7306" opacity="0.44"/>
<rect x="222" y="369" width="3" height="20" fill="#5f7306" opacity="0.29"/>
<rect x="255" y="354" width="1" height="55" fill="#5f7306" opacity="0.23"/>
<rect x="184" y="373" width="1" height="23" fill="#806207" opacity="0.24"/>
<rect x="209" y="391" width="2" height="57" fill="#4d7905" opacity="0.42"/>
<rect x="303" y="392" width="3" height="74" fill="#716d07" opacity="0.24"/>
<rect x="275" y="349" width="3" height="78" fill="#4d7905" opacity="0.36"/>
<rect x="255" y="421" width="1" height="73" fill="#4d7905" opacity="0.33"/>
<rect x="322" y="400" width="2" height="69" fill="#5f7306" opacity="0.16"/>
<rect x="192" y="369" width="3" height="27" fill="#994305" opacity="0.17"/>
<rect x="172" y="385" width="2" height="37" fill="#5f7306" opacity="0.29"/>
<rect x="181" y="424" width="1" height="83" fill="#4d7905" opacity="0.31"/>
<rect x="297" y="380" width="2" height="77" fill="#716d07" opacity="0.37"/>
<rect x="204" y="405" width="3" height="88" fill="#8c5306" opacity="0.17"/>
<rect x="325" y="362" width="2" height="23" fill="#5f7306" opacity="0.33"/>
<rect x="226" y="397" width="2" height="69" fill="#5f7306" opacity="0.29"/>
<rect x="252" y="427" width="2" height="27" fill="#4d7905" opacity="0.30"/>
<rect x="290" y="362" width="1" height="53" fill="#994305" opacity="0.21"/>
<rect x="336" y="424" width="3" height="21" fill="#5f7306" opacity="0.40"/>
<rect x="335" y="378" width="2" height="39" fill="#716d07" opacity="0.17"/>
<rect x="184" y="406" width="2" height="38" fill="#716d07" opacity="0.33"/>
<rect x="277" y="362" width="2" height="28" fill="#716d07" opacity="0.30"/>
<rect x="319" y="372" width="3" height="31" fill="#4d7905" opacity="0.29"/>
<rect x="221" y="348" width="2" height="44" fill="#5f7306" opacity="0.40"/>
<rect x="169" y="406" width="1" height="79" fill="#716d07" opacity="0.36"/>
<rect x="323" y="363" width="3" height="46" fill="#8c5306" opacity="0.45"/>
<rect x="270" y="369" width="2" height="50" fill="#5f7306" opacity="0.23"/>
<rect x="178" y="398" width="2" height="64" fill="#716d07" opacity="0.44"/>
<rect x="244" y="365" width="3" height="74" fill="#5f7306" opacity="0.39"/>
<rect x="277" y="422" width="2" height="86" fill="#4d7905" opacity="0.17"/>
<rect x="329" y="374" width="2" height="63" fill="#4d7905" opacity="0.41"/>
<rect x="252" y="422" width="2" height="59" fill="#8c5306" opacity="0.27"/>
<rect x="217" y="359" width="2" height="72" fill="#8c5306" opacity="0.35"/>
<rect x="220" y="388" width="2" height="48" fill="#4d7905" opacity="0.20"/>
<rect x="205" y="421" width="2" height="55" fill="#8c5306" opacity="0.42"/>
<rect x="339" y="378" width="2" height="30" fill="#716d07" opacity="0.18"/>
<rect x="227" y="344" width="2" height="37" fill="#994305" opacity="0.21"/>
<rect x="172" y="418" width="2" height="47" fill="#8c5306" opacity="0.23"/>
<rect x="298" y="382" width="2" height="60" fill="#716d07" opacity="0.36"/>
<rect x="259" y="410" width="1" height="79" fill="#806207" opacity="0.42"/>
<rect x="235" y="396" width="2" height="50" fill="#5f7306" opacity="0.19"/>
<rect x="242" y="408" width="3" height="76" fill="#5f7306" opacity="0.17"/>
<rect x="328" y="423" width="3" height="57" fill="#8c5306" opacity="0.22"/>
<rect x="188" y="350" width="1" height="57" fill="#4d7905" opacity="0.36"/>
<rect x="314" y="420" width="1" height="26" fill="#5f7306" opacity="0.38"/>
<rect x="209" y="422" width="2" height="65" fill="#716d07" opacity="0.34"/>
<rect x="259" y="377" width="1" height="73" fill="#5f7306" opacity="0.24"/>
<rect x="330" y="353" width="1" height="38" fill="#5f7306" opacity="0.31"/>
<rect x="339" y="361" width="2" height="42" fill="#8c5306" opacity="0.31"/>
<rect x="263" y="338" width="2" height="49" fill="#5f7306" opacity="0.16"/>
<rect x="254" y="399" width="2" height="49" fill="#716d07" opacity="0.35"/>
<rect x="327" y="357" width="2" height="22" fill="#4d7905" opacity="0.28"/>
<rect x="286" y="354" width="1" height="76" fill="#716d07" opacity="0.30"/>
<rect x="203" y="408" width="3" height="34" fill="#716d07" opacity="0.23"/>
<rect x="321" y="345" width="2" height="64" fill="#716d07" opacity="0.30"/>
<rect x="325" y="340" width="3" height="62" fill="#5f7306" opacity="0.21"/>
<rect x="336" y="348" width="1" height="24" fill="#716d07" opacity="0.27"/>
<rect x="323" y="419" width="1" height="71" fill="#716d07" opacity="0.25"/>
<rect x="201" y="424" width="1" height="72" fill="#806207" opacity="0.35"/>
<rect x="234" y="371" width="2" height="43" fill="#5f7306" opacity="0.15"/>
<rect x="217" y="368" width="1" height="87" fill="#994305" opacity="0.44"/>
<rect x="204" y="369" width="3" height="78" fill="#5f7306" opacity="0.16"/>
<rect x="250" y="370" width="2" height="84" fill="#806207" opacity="0.26"/>
<rect x="322" y="338" width="3" height="49" fill="#5f7306" opacity="0.26"/>
<rect x="248" y="411" width="2" height="24" fill="#4d7905" opacity="0.17"/>
<rect x="273" y="369" width="1" height="43" fill="#806207" opacity="0.37"/>
<rect x="287" y="423" width="1" height="41" fill="#5f7306" opacity="0.40"/>
<rect x="187" y="403" width="3" height="53" fill="#806207" opacity="0.42"/>
<rect x="308" y="348" width="1" height="55" fill="#4d7905" opacity="0.24"/>
<rect x="287" y="349" width="2" height="37" fill="#8c5306" opacity="0.26"/>
<rect x="303" y="343" width="2" height="34" fill="#716d07" opacity="0.27"/>
<rect x="280" y="381" width="2" height="58" fill="#8c5306" opacity="0.42"/>
<rect x="338" y="360" width="1" height="26" fill="#8c5306" opacity="0.30"/>
<rect x="290" y="377" width="3" height="36" fill="#8c5306" opacity="0.34"/>
<rect x="284" y="406" width="1" height="79" fill="#806207" opacity="0.24"/>
<rect x="266" y="370" width="2" height="72" fill="#8c5306" opacity="0.22"/>
<rect x="211" y="350" width="2" height="82" fill="#806207" opacity="0.17"/>
<rect x="212" y="358" width="1" height="57" fill="#4d7905" opacity="0.29"/>
<rect x="175" y="335" width="2" height="82" fill="#8c5306" opacity="0.42"/>
<rect x="176" y="363" width="2" height="28" fill="#994305" opacity="0.44"/>
<rect x="269" y="423" width="2" height="46" fill="#8c5306" opacity="0.33"/>
<rect x="302" y="398" width="2" height="20" fill="#716d07" opacity="0.16"/>
<rect x="227" y="339" width="1" height="90" fill="#994305" opacity="0.37"/>
<rect x="325" y="412" width="3" height="77" fill="#4d7905" opacity="0.26"/>
<rect x="275" y="342" width="3" height="22" fill="#994305" opacity="0.30"/>
<rect x="239" y="411" width="2" height="66" fill="#4d7905" opacity="0.31"/>
<rect x="281" y="373" width="2" height="39" fill="#4d7905" opacity="0.24"/>
<rect x="332" y="365" width="2" height="60" fill="#8c5306" opacity="0.27"/>
<rect x="317" y="430" width="2" height="45" fill="#8c5306" opacity="0.37"/>
<rect x="204" y="336" width="3" height="83" fill="#5f7306" opacity="0.40"/>
<rect x="238" y="419" width="2" height="52" fill="#716d07" opacity="0.15"/>
<rect x="263" y="396" width="1" height="84" fill="#994305" opacity="0.34"/>
<rect x="232" y="383" width="2" height="30" fill="#716d07" opacity="0.31"/>
<rect x="327" y="345" width="2" height="54" fill="#806207" opacity="0.19"/>
<rect x="330" y="428" width="1" height="54" fill="#994305" opacity="0.43"/>
<rect x="235" y="421" width="2" height="63" fill="#4d7905" opacity="0.39"/>
<rect x="207" y="373" width="3" height="79" fill="#716d07" opacity="0.32"/>
<rect x="176" y="424" width="2" height="31" fill="#5f7306" opacity="0.19"/>
<rect x="335" y="412" width="1" height="33" fill="#4d7905" opacity="0.40"/>
<rect x="189" y="392" width="2" height="59" fill="#4d7905" opacity="0.28"/>
<rect x="269" y="375" width="3" height="66" fill="#994305" opacity="0.28"/>
<rect x="173" y="394" width="2" height="54" fill="#8c5306" opacity="0.38"/>
<rect x="302" y="379" width="3" height="33" fill="#8c5306" opacity="0.18"/>
<rect x="191" y="376" width="3" height="26" fill="#994305" opacity="0.30"/>
<rect x="176" y="395" width="2" height="26" fill="#4d7905" opacity="0.30"/>
<rect x="178" y="383" width="2" height="46" fill="#5f7306" opacity="0.41"/>
<rect x="339" y="405" width="2" height="77" fill="#716d07" opacity="0.44"/>
<rect x="253" y="426" width="2" height="84" fill="#4d7905" opacity="0.39"/>
<rect x="328" y="341" width="2" height="45" fill="#716d07" opacity="0.25"/>
<rect x="274" y="421" width="2" height="52" fill="#994305" opacity="0.44"/>
<rect x="251" y="391" width="2" height="63" fill="#806207" opacity="0.26"/>
<rect x="203" y="373" width="2" height="65" fill="#4d7905" opacity="0.25"/>
<rect x="233" y="410" width="1" height="39" fill="#4d7905" opacity="0.41"/>
<rect x="334" y="378" width="1" height="57" fill="#806207" opacity="0.45"/>
<rect x="277" y="372" width="2" height="76" fill="#8c5306" opacity="0.45"/>
<rect x="268" y="369" width="3" height="74" fill="#716d07" opacity="0.20"/>
<rect x="296" y="340" width="2" height="77" fill="#806207" opacity="0.34"/>
<rect x="337" y="391" width="2" height="66" fill="#4d7905" opacity="0.15"/>
<rect x="175" y="349" width="3" height="63" fill="#8c5306" opacity="0.30"/>
<rect x="322" y="348" width="1" height="36" fill="#5f7306" opacity="0.17"/>
<rect x="266" y="364" width="2" height="57" fill="#8c5306" opacity="0.33"/>
<rect x="270" y="354" width="3" height="64" fill="#716d07" opacity="0.19"/>
<rect x="329" y="358" width="1" height="30" fill="#5f7306" opacity="0.34"/>
<rect x="318" y="409" width="2" height="48" fill="#5f7306" opacity="0.17"/>
<rect x="309" y="420" width="3" height="62" fill="#994305" opacity="0.43"/>
<rect x="294" y="359" width="1" height="83" fill="#5f7306" opacity="0.31"/>
<rect x="234" y="429" width="1" height="24" fill="#5f7306" opacity="0.22"/>
<rect x="275" y="424" width="3" height="49" fill="#994305" opacity="0.13"/>
<rect x="219" y="436" width="3" height="23" fill="#4d7905" opacity="0.21"/>
<rect x="229" y="452" width="1" height="84" fill="#4d7905" opacity="0.23"/>
<rect x="197" y="520" width="1" height="38" fill="#5f7306" opacity="0.17"/>
<rect x="290" y="483" width="1" height="79" fill="#806207" opacity="0.23"/>
<rect x="278" y="482" width="2" height="84" fill="#806207" opacity="0.23"/>
<rect x="324" y="426" width="1" height="82" fill="#716d07" opacity="0.15"/>
<rect x="207" y="489" width="2" height="86" fill="#716d07" opacity="0.28"/>
<rect x="222" y="429" width="3" height="84" fill="#8c5306" opacity="0.27"/>
<rect x="281" y="503" width="2" height="51" fill="#994305" opacity="0.28"/>
<rect x="296" y="447" width="2" height="61" fill="#716d07" opacity="0.11"/>
<rect x="187" y="475" width="2" height="31" fill="#4d7905" opacity="0.11"/>
<rect x="176" y="483" width="1" height="64" fill="#4d7905" opacity="0.11"/>
<rect x="307" y="491" width="1" height="34" fill="#4d7905" opacity="0.29"/>
<rect x="186" y="425" width="1" height="28" fill="#4d7905" opacity="0.12"/>
<rect x="290" y="476" width="2" height="53" fill="#5f7306" opacity="0.26"/>
<rect x="273" y="435" width="2" height="44" fill="#5f7306" opacity="0.17"/>
<rect x="319" y="406" width="2" height="73" fill="#994305" opacity="0.20"/>
<rect x="306" y="474" width="3" height="22" fill="#5f7306" opacity="0.19"/>
<rect x="293" y="442" width="2" height="69" fill="#4d7905" opacity="0.27"/>
<rect x="184" y="498" width="1" height="32" fill="#994305" opacity="0.14"/>
<rect x="292" y="517" width="3" height="20" fill="#5f7306" opacity="0.20"/>
<rect x="297" y="422" width="2" height="55" fill="#994305" opacity="0.15"/>
<rect x="321" y="434" width="2" height="35" fill="#8c5306" opacity="0.13"/>
<rect x="320" y="492" width="1" height="54" fill="#4d7905" opacity="0.17"/>
<rect x="184" y="511" width="1" height="82" fill="#8c5306" opacity="0.28"/>
<rect x="173" y="425" width="2" height="38" fill="#8c5306" opacity="0.30"/>
<rect x="271" y="513" width="1" height="29" fill="#806207" opacity="0.22"/>
<rect x="253" y="504" width="2" height="52" fill="#716d07" opacity="0.19"/>
<rect x="280" y="431" width="2" height="36" fill="#8c5306" opacity="0.23"/>
<rect x="281" y="461" width="2" height="39" fill="#4d7905" opacity="0.13"/>
<rect x="209" y="439" width="2" height="57" fill="#716d07" opacity="0.17"/>
<rect x="199" y="517" width="1" height="71" fill="#716d07" opacity="0.29"/>
<rect x="185" y="446" width="2" height="89" fill="#4d7905" opacity="0.16"/>
<rect x="213" y="413" width="2" height="84" fill="#716d07" opacity="0.28"/>
<rect x="244" y="402" width="3" height="80" fill="#4d7905" opacity="0.14"/>
<rect x="327" y="436" width="2" height="22" fill="#994305" opacity="0.25"/>
<rect x="170" y="429" width="3" height="80" fill="#716d07" opacity="0.23"/>
<rect x="274" y="505" width="2" height="65" fill="#4d7905" opacity="0.14"/>
<rect x="189" y="452" width="1" height="38" fill="#8c5306" opacity="0.15"/>
<rect x="233" y="486" width="3" height="31" fill="#8c5306" opacity="0.19"/>
<rect x="269" y="449" width="2" height="67" fill="#4d7905" opacity="0.17"/>
<rect x="171" y="500" width="1" height="84" fill="#5f7306" opacity="0.15"/>
<rect x="204" y="486" width="2" height="87" fill="#994305" opacity="0.17"/>
<rect x="305" y="455" width="3" height="34" fill="#994305" opacity="0.10"/>
<rect x="297" y="444" width="3" height="44" fill="#716d07" opacity="0.30"/>
<rect x="199" y="462" width="2" height="85" fill="#4d7905" opacity="0.11"/>
<rect x="213" y="448" width="3" height="21" fill="#8c5306" opacity="0.23"/>
<rect x="278" y="470" width="2" height="28" fill="#4d7905" opacity="0.18"/>
<rect x="323" y="517" width="3" height="90" fill="#8c5306" opacity="0.14"/>
<rect x="190" y="493" width="2" height="77" fill="#8c5306" opacity="0.23"/>
<rect x="285" y="498" width="3" height="30" fill="#8c5306" opacity="0.30"/>
<rect x="291" y="478" width="3" height="75" fill="#806207" opacity="0.26"/>
<rect x="206" y="485" width="3" height="68" fill="#4d7905" opacity="0.14"/>
<rect x="169" y="487" width="2" height="40" fill="#4d7905" opacity="0.16"/>
<rect x="246" y="451" width="2" height="65" fill="#716d07" opacity="0.29"/>
<rect x="307" y="407" width="2" height="78" fill="#716d07" opacity="0.21"/>
<rect x="225" y="470" width="2" height="66" fill="#5f7306" opacity="0.23"/>
<rect x="209" y="412" width="2" height="30" fill="#716d07" opacity="0.26"/>
<rect x="465" y="325" width="2" height="74" fill="#994305" opacity="0.32"/>
<rect x="567" y="388" width="2" height="60" fill="#716d07" opacity="0.23"/>
<rect x="413" y="318" width="1" height="70" fill="#994305" opacity="0.15"/>
<rect x="493" y="393" width="1" height="48" fill="#8c5306" opacity="0.23"/>
<rect x="386" y="359" width="1" height="50" fill="#716d07" opacity="0.31"/>
<rect x="513" y="366" width="3" height="60" fill="#806207" opacity="0.22"/>
<rect x="720" y="378" width="2" height="31" fill="#4d7905" opacity="0.27"/>
<rect x="338" y="315" width="2" height="64" fill="#5f7306" opacity="0.24"/>
<rect x="519" y="400" width="3" height="22" fill="#4d7905" opacity="0.15"/>
<rect x="367" y="376" width="2" height="40" fill="#806207" opacity="0.22"/>
<rect x="495" y="365" width="2" height="70" fill="#806207" opacity="0.31"/>
<rect x="487" y="360" width="2" height="36" fill="#716d07" opacity="0.27"/>
<rect x="639" y="343" width="2" height="39" fill="#716d07" opacity="0.25"/>
<rect x="578" y="388" width="3" height="22" fill="#994305" opacity="0.25"/>
<rect x="485" y="321" width="3" height="23" fill="#994305" opacity="0.30"/>
<rect x="353" y="360" width="3" height="53" fill="#994305" opacity="0.15"/>
<rect x="593" y="379" width="1" height="73" fill="#716d07" opacity="0.13"/>
<rect x="577" y="373" width="2" height="30" fill="#5f7306" opacity="0.22"/>
<rect x="369" y="403" width="2" height="21" fill="#806207" opacity="0.25"/>
<rect x="431" y="340" width="2" height="45" fill="#5f7306" opacity="0.22"/>
<rect x="580" y="403" width="1" height="23" fill="#5f7306" opacity="0.30"/>
<rect x="494" y="380" width="1" height="44" fill="#5f7306" opacity="0.28"/>
<rect x="562" y="409" width="2" height="60" fill="#8c5306" opacity="0.30"/>
<rect x="544" y="318" width="2" height="48" fill="#4d7905" opacity="0.12"/>
<rect x="332" y="378" width="1" height="27" fill="#716d07" opacity="0.32"/>
<rect x="380" y="312" width="2" height="63" fill="#8c5306" opacity="0.29"/>
<rect x="403" y="315" width="2" height="66" fill="#4d7905" opacity="0.29"/>
<rect x="444" y="366" width="2" height="50" fill="#5f7306" opacity="0.28"/>
<rect x="334" y="311" width="1" height="59" fill="#8c5306" opacity="0.19"/>
<rect x="614" y="327" width="3" height="72" fill="#994305" opacity="0.13"/>
<rect x="473" y="367" width="2" height="46" fill="#716d07" opacity="0.34"/>
<rect x="376" y="405" width="3" height="30" fill="#8c5306" opacity="0.21"/>
<rect x="637" y="404" width="2" height="67" fill="#806207" opacity="0.18"/>
<rect x="573" y="375" width="2" height="68" fill="#994305" opacity="0.29"/>
<rect x="336" y="325" width="3" height="70" fill="#716d07" opacity="0.21"/>
<rect x="597" y="370" width="3" height="74" fill="#806207" opacity="0.28"/>
<rect x="455" y="337" width="1" height="29" fill="#806207" opacity="0.31"/>
<rect x="647" y="397" width="2" height="54" fill="#994305" opacity="0.28"/>
<rect x="686" y="345" width="3" height="25" fill="#8c5306" opacity="0.17"/>
<rect x="623" y="403" width="1" height="34" fill="#4d7905" opacity="0.21"/>
<rect x="606" y="403" width="1" height="55" fill="#8c5306" opacity="0.23"/>
<rect x="364" y="391" width="2" height="66" fill="#8c5306" opacity="0.25"/>
<rect x="680" y="399" width="3" height="51" fill="#994305" opacity="0.26"/>
<rect x="404" y="329" width="2" height="31" fill="#806207" opacity="0.25"/>
<rect x="470" y="388" width="2" height="71" fill="#5f7306" opacity="0.33"/>
<rect x="522" y="397" width="3" height="42" fill="#5f7306" opacity="0.16"/>
<rect x="563" y="344" width="1" height="51" fill="#5f7306" opacity="0.13"/>
<rect x="716" y="397" width="2" height="49" fill="#806207" opacity="0.33"/>
<rect x="439" y="320" width="2" height="47" fill="#806207" opacity="0.31"/>
<rect x="462" y="409" width="1" height="43" fill="#5f7306" opacity="0.13"/>
<rect x="474" y="381" width="1" height="49" fill="#994305" opacity="0.27"/>
<rect x="690" y="381" width="2" height="25" fill="#994305" opacity="0.17"/>
<rect x="365" y="402" width="2" height="50" fill="#8c5306" opacity="0.32"/>
<rect x="475" y="334" width="2" height="63" fill="#5f7306" opacity="0.34"/>
<rect x="697" y="316" width="1" height="53" fill="#5f7306" opacity="0.18"/>
<rect x="530" y="384" width="3" height="66" fill="#5f7306" opacity="0.14"/>
<rect x="454" y="311" width="2" height="32" fill="#994305" opacity="0.26"/>
<rect x="626" y="321" width="2" height="39" fill="#8c5306" opacity="0.15"/>
<rect x="518" y="327" width="2" height="34" fill="#4d7905" opacity="0.33"/>
<rect x="512" y="401" width="2" height="68" fill="#716d07" opacity="0.14"/>
<rect x="571" y="347" width="3" height="65" fill="#5f7306" opacity="0.33"/>
<rect x="480" y="312" width="2" height="25" fill="#806207" opacity="0.31"/>
<rect x="516" y="373" width="2" height="29" fill="#4d7905" opacity="0.13"/>
<rect x="608" y="365" width="2" height="29" fill="#806207" opacity="0.22"/>
<rect x="426" y="313" width="2" height="54" fill="#806207" opacity="0.30"/>
<rect x="432" y="321" width="3" height="47" fill="#5f7306" opacity="0.16"/>
<rect x="530" y="373" width="2" height="67" fill="#994305" opacity="0.23"/>
<rect x="442" y="336" width="2" height="32" fill="#8c5306" opacity="0.35"/>
<rect x="719" y="403" width="2" height="26" fill="#8c5306" opacity="0.33"/>
<rect x="352" y="383" width="1" height="38" fill="#8c5306" opacity="0.31"/>
<rect x="463" y="324" width="2" height="20" fill="#716d07" opacity="0.20"/>
<rect x="346" y="351" width="2" height="37" fill="#716d07" opacity="0.31"/>
<rect x="533" y="333" width="1" height="31" fill="#5f7306" opacity="0.32"/>
<rect x="615" y="386" width="2" height="31" fill="#994305" opacity="0.27"/>
<rect x="575" y="329" width="1" height="38" fill="#5f7306" opacity="0.28"/>
<rect x="533" y="394" width="2" height="75" fill="#806207" opacity="0.18"/>
<rect x="579" y="405" width="3" height="25" fill="#8c5306" opacity="0.15"/>
<rect x="590" y="335" width="2" height="54" fill="#5f7306" opacity="0.16"/>
<rect x="475" y="369" width="3" height="20" fill="#994305" opacity="0.14"/>
<rect x="469" y="334" width="2" height="70" fill="#4d7905" opacity="0.32"/>
<rect x="555" y="400" width="1" height="37" fill="#4d7905" opacity="0.23"/>
<rect x="530" y="363" width="1" height="52" fill="#716d07" opacity="0.34"/>
<rect x="417" y="328" width="2" height="26" fill="#994305" opacity="0.31"/>
<rect x="342" y="320" width="2" height="62" fill="#806207" opacity="0.12"/>
<rect x="564" y="368" width="3" height="51" fill="#5f7306" opacity="0.20"/>
<rect x="367" y="328" width="3" height="36" fill="#8c5306" opacity="0.25"/>
<rect x="627" y="321" width="2" height="27" fill="#994305" opacity="0.26"/>
<rect x="666" y="325" width="3" height="54" fill="#716d07" opacity="0.34"/>
<rect x="337" y="373" width="1" height="62" fill="#8c5306" opacity="0.34"/>
<rect x="350" y="346" width="2" height="44" fill="#4d7905" opacity="0.22"/>
<rect x="713" y="390" width="3" height="75" fill="#994305" opacity="0.13"/>
<rect x="532" y="406" width="2" height="76" fill="#8c5306" opacity="0.27"/>
<rect x="335" y="321" width="2" height="31" fill="#8c5306" opacity="0.17"/>
<rect x="591" y="333" width="3" height="45" fill="#8c5306" opacity="0.27"/>
<rect x="646" y="398" width="1" height="73" fill="#4d7905" opacity="0.26"/>
<rect x="688" y="372" width="1" height="58" fill="#994305" opacity="0.14"/>
<rect x="377" y="311" width="1" height="34" fill="#806207" opacity="0.15"/>
<rect x="466" y="327" width="2" height="24" fill="#5f7306" opacity="0.23"/>
<rect x="538" y="325" width="2" height="27" fill="#806207" opacity="0.33"/>
<rect x="555" y="337" width="2" height="64" fill="#8c5306" opacity="0.26"/>
<rect x="552" y="375" width="2" height="32" fill="#8c5306" opacity="0.33"/>
<rect x="448" y="358" width="1" height="69" fill="#716d07" opacity="0.20"/>
<rect x="404" y="365" width="3" height="78" fill="#5f7306" opacity="0.33"/>
<rect x="393" y="405" width="2" height="39" fill="#8c5306" opacity="0.18"/>
<rect x="673" y="332" width="1" height="23" fill="#716d07" opacity="0.25"/>
<rect x="566" y="345" width="3" height="59" fill="#8c5306" opacity="0.20"/>
<rect x="628" y="362" width="2" height="79" fill="#8c5306" opacity="0.20"/>
<rect x="467" y="378" width="2" height="57" fill="#994305" opacity="0.14"/>
<rect x="664" y="402" width="2" height="80" fill="#4d7905" opacity="0.28"/>
<rect x="687" y="323" width="1" height="72" fill="#8c5306" opacity="0.30"/>
<rect x="558" y="360" width="2" height="78" fill="#8c5306" opacity="0.32"/>
<rect x="439" y="372" width="3" height="27" fill="#4d7905" opacity="0.23"/>
<rect x="612" y="339" width="3" height="43" fill="#4d7905" opacity="0.19"/>
<rect x="637" y="395" width="3" height="50" fill="#806207" opacity="0.16"/>
<rect x="449" y="324" width="2" height="55" fill="#5f7306" opacity="0.31"/>
<rect x="459" y="407" width="2" height="56" fill="#806207" opacity="0.17"/>
<rect x="496" y="401" width="1" height="21" fill="#806207" opacity="0.25"/>
<rect x="524" y="402" width="3" height="66" fill="#994305" opacity="0.31"/>
<rect x="614" y="353" width="1" height="48" fill="#994305" opacity="0.28"/>
<rect x="507" y="311" width="2" height="24" fill="#5f7306" opacity="0.21"/>
<rect x="525" y="375" width="2" height="76" fill="#716d07" opacity="0.34"/>
<rect x="520" y="354" width="2" height="57" fill="#4d7905" opacity="0.24"/>
<rect x="648" y="327" width="1" height="39" fill="#806207" opacity="0.24"/>
<rect x="373" y="399" width="3" height="61" fill="#4d7905" opacity="0.16"/>
<rect x="443" y="361" width="2" height="50" fill="#8c5306" opacity="0.16"/>
<rect x="576" y="370" width="1" height="41" fill="#4d7905" opacity="0.21"/>
<rect x="637" y="341" width="1" height="61" fill="#806207" opacity="0.21"/>
<rect x="368" y="312" width="2" height="22" fill="#8c5306" opacity="0.30"/>
<rect x="551" y="397" width="2" height="74" fill="#994305" opacity="0.17"/>
<rect x="565" y="325" width="1" height="51" fill="#5f7306" opacity="0.14"/>
<rect x="397" y="362" width="3" height="69" fill="#5f7306" opacity="0.27"/>
<rect x="597" y="368" width="2" height="29" fill="#806207" opacity="0.18"/>
<rect x="343" y="373" width="1" height="72" fill="#806207" opacity="0.16"/>
<rect x="573" y="312" width="3" height="33" fill="#994305" opacity="0.30"/>
<rect x="347" y="315" width="2" height="34" fill="#5f7306" opacity="0.16"/>
<rect x="559" y="327" width="3" height="20" fill="#806207" opacity="0.22"/>
<rect x="428" y="399" width="1" height="79" fill="#716d07" opacity="0.28"/>
<rect x="593" y="368" width="3" height="45" fill="#4d7905" opacity="0.23"/>
<rect x="639" y="334" width="2" height="30" fill="#8c5306" opacity="0.16"/>
<rect x="709" y="339" width="1" height="54" fill="#806207" opacity="0.24"/>
<rect x="480" y="350" width="1" height="24" fill="#8c5306" opacity="0.31"/>
<rect x="467" y="334" width="2" height="31" fill="#806207" opacity="0.17"/>
<rect x="344" y="376" width="2" height="40" fill="#716d07" opacity="0.28"/>
<rect x="366" y="337" width="2" height="70" fill="#994305" opacity="0.22"/>
<rect x="656" y="390" width="2" height="30" fill="#716d07" opacity="0.29"/>
<rect x="477" y="406" width="3" height="32" fill="#994305" opacity="0.17"/>
<rect x="665" y="378" width="2" height="77" fill="#994305" opacity="0.33"/>
<rect x="559" y="347" width="2" height="35" fill="#716d07" opacity="0.32"/>
<rect x="378" y="361" width="2" height="53" fill="#4d7905" opacity="0.30"/>
<rect x="480" y="376" width="2" height="54" fill="#5f7306" opacity="0.21"/>
<rect x="364" y="328" width="2" height="71" fill="#716d07" opacity="0.27"/>
<rect x="372" y="366" width="2" height="42" fill="#716d07" opacity="0.14"/>
<rect x="451" y="333" width="3" height="28" fill="#806207" opacity="0.20"/>
<rect x="659" y="356" width="2" height="58" fill="#806207" opacity="0.16"/>
<rect x="473" y="390" width="3" height="61" fill="#5f7306" opacity="0.27"/>
<rect x="603" y="335" width="2" height="71" fill="#4d7905" opacity="0.14"/>
<rect x="444" y="337" width="2" height="57" fill="#4d7905" opacity="0.28"/>
<rect x="488" y="371" width="2" height="46" fill="#716d07" opacity="0.21"/>
<rect x="345" y="341" width="2" height="58" fill="#994305" opacity="0.31"/>
<rect x="552" y="382" width="3" height="35" fill="#4d7905" opacity="0.28"/>
<rect x="466" y="310" width="2" height="70" fill="#5f7306" opacity="0.32"/>
<rect x="558" y="380" width="1" height="78" fill="#5f7306" opacity="0.30"/>
<rect x="412" y="401" width="1" height="65" fill="#8c5306" opacity="0.28"/>
<rect x="484" y="385" width="2" height="70" fill="#994305" opacity="0.14"/>
<rect x="699" y="352" width="3" height="76" fill="#994305" opacity="0.13"/>
<rect x="602" y="353" width="2" height="51" fill="#8c5306" opacity="0.30"/>
<rect x="347" y="380" width="2" height="68" fill="#716d07" opacity="0.25"/>
<rect x="708" y="374" width="2" height="53" fill="#5f7306" opacity="0.16"/>
<rect x="465" y="319" width="2" height="58" fill="#716d07" opacity="0.28"/>
<rect x="520" y="358" width="1" height="62" fill="#994305" opacity="0.28"/>
<rect x="382" y="374" width="2" height="62" fill="#4d7905" opacity="0.15"/>
<rect x="550" y="343" width="3" height="69" fill="#716d07" opacity="0.28"/>
<rect x="390" y="408" width="3" height="70" fill="#716d07" opacity="0.15"/>
<rect x="443" y="346" width="1" height="32" fill="#806207" opacity="0.19"/>
<rect x="373" y="341" width="2" height="78" fill="#806207" opacity="0.22"/>
<rect x="552" y="339" width="1" height="53" fill="#5f7306" opacity="0.23"/>
<rect x="712" y="359" width="2" height="65" fill="#4d7905" opacity="0.25"/>
<rect x="372" y="359" width="2" height="46" fill="#994305" opacity="0.19"/>
<rect x="470" y="319" width="2" height="37" fill="#4d7905" opacity="0.18"/>
<rect x="384" y="313" width="2" height="66" fill="#806207" opacity="0.20"/>
<rect x="604" y="568" width="2" height="84" fill="#5f7306" opacity="0.26"/>
<rect x="549" y="597" width="2" height="50" fill="#4d7905" opacity="0.27"/>
<rect x="334" y="548" width="2" height="63" fill="#806207" opacity="0.15"/>
<rect x="217" y="574" width="3" height="68" fill="#5f7306" opacity="0.29"/>
<rect x="408" y="565" width="2" height="39" fill="#994305" opacity="0.22"/>
<rect x="234" y="589" width="3" height="40" fill="#4d7905" opacity="0.29"/>
<rect x="238" y="505" width="2" height="56" fill="#716d07" opacity="0.24"/>
<rect x="201" y="609" width="3" height="81" fill="#716d07" opacity="0.16"/>
<rect x="478" y="567" width="2" height="55" fill="#5f7306" opacity="0.19"/>
<rect x="480" y="607" width="2" height="84" fill="#8c5306" opacity="0.16"/>
<rect x="386" y="573" width="2" height="51" fill="#8c5306" opacity="0.12"/>
<rect x="336" y="560" width="2" height="88" fill="#8c5306" opacity="0.29"/>
<rect x="460" y="605" width="2" height="34" fill="#994305" opacity="0.23"/>
<rect x="437" y="555" width="2" height="52" fill="#806207" opacity="0.27"/>
<rect x="423" y="582" width="2" height="81" fill="#4d7905" opacity="0.25"/>
<rect x="490" y="519" width="3" height="65" fill="#806207" opacity="0.21"/>
<rect x="437" y="552" width="2" height="37" fill="#716d07" opacity="0.21"/>
<rect x="247" y="612" width="1" height="45" fill="#716d07" opacity="0.21"/>
<rect x="306" y="564" width="2" height="63" fill="#994305" opacity="0.21"/>
<rect x="247" y="567" width="1" height="65" fill="#8c5306" opacity="0.24"/>
<rect x="536" y="517" width="1" height="60" fill="#4d7905" opacity="0.30"/>
<rect x="503" y="513" width="3" height="80" fill="#994305" opacity="0.13"/>
<rect x="603" y="573" width="2" height="76" fill="#806207" opacity="0.26"/>
<rect x="224" y="531" width="1" height="52" fill="#4d7905" opacity="0.22"/>
<rect x="290" y="539" width="3" height="72" fill="#5f7306" opacity="0.22"/>
<rect x="566" y="573" width="2" height="85" fill="#716d07" opacity="0.17"/>
<rect x="553" y="605" width="1" height="74" fill="#806207" opacity="0.12"/>
<rect x="357" y="596" width="3" height="87" fill="#5f7306" opacity="0.26"/>
<rect x="348" y="546" width="1" height="50" fill="#5f7306" opacity="0.29"/>
<rect x="484" y="533" width="3" height="42" fill="#5f7306" opacity="0.27"/>
<rect x="444" y="515" width="1" height="31" fill="#5f7306" opacity="0.26"/>
<rect x="278" y="572" width="3" height="47" fill="#716d07" opacity="0.22"/>
<rect x="305" y="630" width="2" height="76" fill="#8c5306" opacity="0.10"/>
<rect x="344" y="520" width="1" height="60" fill="#5f7306" opacity="0.11"/>
<rect x="461" y="584" width="3" height="66" fill="#716d07" opacity="0.24"/>
<rect x="388" y="530" width="1" height="87" fill="#806207" opacity="0.17"/>
<rect x="291" y="616" width="1" height="65" fill="#716d07" opacity="0.13"/>
<rect x="352" y="561" width="3" height="65" fill="#806207" opacity="0.16"/>
<rect x="341" y="563" width="2" height="44" fill="#8c5306" opacity="0.28"/>
<rect x="456" y="582" width="2" height="74" fill="#806207" opacity="0.18"/>
<rect x="227" y="629" width="2" height="51" fill="#4d7905" opacity="0.11"/>
<rect x="435" y="600" width="3" height="82" fill="#4d7905" opacity="0.21"/>
<rect x="242" y="603" width="2" height="78" fill="#716d07" opacity="0.24"/>
<rect x="328" y="599" width="2" height="74" fill="#806207" opacity="0.27"/>
<rect x="501" y="543" width="2" height="72" fill="#8c5306" opacity="0.20"/>
<rect x="576" y="605" width="2" height="90" fill="#716d07" opacity="0.14"/>
<rect x="573" y="587" width="3" height="54" fill="#994305" opacity="0.25"/>
<rect x="590" y="576" width="2" height="39" fill="#806207" opacity="0.25"/>
<rect x="432" y="622" width="2" height="50" fill="#994305" opacity="0.28"/>
<rect x="446" y="540" width="3" height="51" fill="#806207" opacity="0.29"/>
<rect x="490" y="594" width="3" height="85" fill="#806207" opacity="0.28"/>
<rect x="316" y="533" width="2" height="31" fill="#4d7905" opacity="0.15"/>
<rect x="496" y="528" width="2" height="54" fill="#994305" opacity="0.16"/>
<rect x="411" y="513" width="1" height="45" fill="#716d07" opacity="0.22"/>
<rect x="233" y="605" width="2" height="83" fill="#4d7905" opacity="0.13"/>
<rect x="279" y="570" width="2" height="83" fill="#5f7306" opacity="0.14"/>
<rect x="337" y="597" width="3" height="69" fill="#994305" opacity="0.24"/>
<rect x="342" y="507" width="1" height="55" fill="#5f7306" opacity="0.23"/>
<rect x="340" y="564" width="2" height="66" fill="#8c5306" opacity="0.27"/>
<rect x="211" y="541" width="2" height="69" fill="#5f7306" opacity="0.18"/>
<rect x="498" y="609" width="1" height="39" fill="#716d07" opacity="0.14"/>
<rect x="422" y="609" width="2" height="51" fill="#8c5306" opacity="0.17"/>
<rect x="486" y="613" width="2" height="39" fill="#716d07" opacity="0.25"/>
<rect x="308" y="592" width="2" height="76" fill="#4d7905" opacity="0.25"/>
<rect x="611" y="559" width="2" height="47" fill="#716d07" opacity="0.15"/>
<rect x="434" y="513" width="2" height="79" fill="#716d07" opacity="0.30"/>
<rect x="296" y="598" width="1" height="35" fill="#994305" opacity="0.13"/>
<rect x="225" y="565" width="2" height="63" fill="#806207" opacity="0.29"/>
<rect x="354" y="519" width="2" height="41" fill="#994305" opacity="0.11"/>
<rect x="527" y="532" width="3" height="89" fill="#716d07" opacity="0.23"/>
<rect x="345" y="604" width="2" height="58" fill="#5f7306" opacity="0.12"/>
<rect x="508" y="509" width="3" height="69" fill="#4d7905" opacity="0.27"/>
<rect x="225" y="573" width="3" height="55" fill="#4d7905" opacity="0.23"/>
<rect x="294" y="533" width="3" height="46" fill="#716d07" opacity="0.15"/>
<rect x="285" y="599" width="2" height="69" fill="#8c5306" opacity="0.14"/>
<rect x="439" y="520" width="2" height="82" fill="#716d07" opacity="0.26"/>
<rect x="319" y="543" width="2" height="59" fill="#716d07" opacity="0.16"/>
<rect x="456" y="624" width="1" height="43" fill="#716d07" opacity="0.27"/>
<rect x="509" y="506" width="3" height="76" fill="#716d07" opacity="0.19"/>
<rect x="259" y="622" width="1" height="71" fill="#716d07" opacity="0.29"/>
<rect x="204" y="619" width="2" height="39" fill="#5f7306" opacity="0.25"/>
<rect x="395" y="552" width="3" height="55" fill="#806207" opacity="0.30"/>
<rect x="214" y="530" width="1" height="78" fill="#5f7306" opacity="0.13"/>
<rect x="450" y="575" width="1" height="72" fill="#5f7306" opacity="0.30"/>
<rect x="333" y="614" width="3" height="37" fill="#716d07" opacity="0.21"/>
<rect x="201" y="529" width="1" height="62" fill="#994305" opacity="0.17"/>
<rect x="408" y="619" width="2" height="51" fill="#716d07" opacity="0.25"/>
<rect x="315" y="523" width="1" height="46" fill="#5f7306" opacity="0.14"/>
<rect x="220" y="603" width="2" height="87" fill="#5f7306" opacity="0.17"/>
<rect x="217" y="559" width="2" height="47" fill="#4d7905" opacity="0.18"/>
<rect x="617" y="597" width="3" height="46" fill="#806207" opacity="0.21"/>
<rect x="361" y="520" width="3" height="76" fill="#716d07" opacity="0.28"/>
<rect x="467" y="531" width="2" height="60" fill="#4d7905" opacity="0.22"/>
<rect x="358" y="531" width="1" height="42" fill="#5f7306" opacity="0.27"/>
<rect x="529" y="618" width="2" height="33" fill="#4d7905" opacity="0.23"/>
<rect x="431" y="541" width="1" height="88" fill="#8c5306" opacity="0.25"/>
<rect x="558" y="566" width="3" height="66" fill="#716d07" opacity="0.26"/>
<rect x="532" y="613" width="1" height="51" fill="#8c5306" opacity="0.30"/>
<rect x="312" y="586" width="1" height="80" fill="#4d7905" opacity="0.26"/>
<rect x="479" y="620" width="2" height="76" fill="#8c5306" opacity="0.27"/>
<rect x="346" y="577" width="2" height="64" fill="#5f7306" opacity="0.29"/>
<rect x="422" y="568" width="2" height="62" fill="#716d07" opacity="0.23"/>
<rect x="264" y="586" width="1" height="41" fill="#806207" opacity="0.18"/>
<rect x="549" y="606" width="2" height="37" fill="#4d7905" opacity="0.15"/>
<rect x="243" y="546" width="2" height="78" fill="#8c5306" opacity="0.23"/>
<rect x="316" y="538" width="1" height="57" fill="#8c5306" opacity="0.23"/>
<rect x="507" y="523" width="1" height="61" fill="#4d7905" opacity="0.13"/>
<rect x="405" y="586" width="2" height="67" fill="#8c5306" opacity="0.15"/>
<rect x="434" y="500" width="2" height="46" fill="#806207" opacity="0.24"/>
<rect x="315" y="542" width="3" height="45" fill="#5f7306" opacity="0.21"/>
<rect x="407" y="512" width="2" height="38" fill="#994305" opacity="0.26"/>
<rect x="587" y="593" width="1" height="53" fill="#4d7905" opacity="0.25"/>
<rect x="607" y="556" width="2" height="66" fill="#806207" opacity="0.15"/>
<rect x="557" y="517" width="2" height="67" fill="#5f7306" opacity="0.23"/>
<rect x="338" y="509" width="3" height="75" fill="#8c5306" opacity="0.21"/>
<rect x="409" y="617" width="1" height="75" fill="#5f7306" opacity="0.22"/>
<rect x="394" y="560" width="3" height="80" fill="#8c5306" opacity="0.14"/>
<rect x="227" y="552" width="1" height="38" fill="#4d7905" opacity="0.15"/>
<rect x="284" y="570" width="2" height="86" fill="#994305" opacity="0.17"/>
<rect x="363" y="560" width="1" height="35" fill="#994305" opacity="0.26"/>
<rect x="243" y="511" width="3" height="75" fill="#5f7306" opacity="0.26"/>
<rect x="284" y="544" width="3" height="82" fill="#994305" opacity="0.13"/>
<rect x="371" y="507" width="2" height="68" fill="#806207" opacity="0.14"/>
<rect x="613" y="524" width="2" height="62" fill="#5f7306" opacity="0.16"/>
<rect x="307" y="612" width="3" height="63" fill="#4d7905" opacity="0.11"/>
<rect x="328" y="613" width="2" height="78" fill="#806207" opacity="0.14"/>
<rect x="222" y="570" width="3" height="52" fill="#4d7905" opacity="0.20"/>
<rect x="445" y="548" width="2" height="78" fill="#8c5306" opacity="0.28"/>
<rect x="434" y="507" width="1" height="49" fill="#8c5306" opacity="0.29"/>
<rect x="546" y="505" width="3" height="43" fill="#806207" opacity="0.14"/>
<rect x="288" y="627" width="3" height="67" fill="#4d7905" opacity="0.19"/>
<rect x="569" y="508" width="1" height="56" fill="#5f7306" opacity="0.13"/>
<rect x="570" y="606" width="1" height="60" fill="#4d7905" opacity="0.21"/>
<rect x="536" y="565" width="2" height="70" fill="#716d07" opacity="0.21"/>
<rect x="267" y="601" width="1" height="73" fill="#8c5306" opacity="0.12"/>
<rect x="529" y="624" width="2" height="55" fill="#4d7905" opacity="0.28"/>
<rect x="488" y="520" width="2" height="33" fill="#5f7306" opacity="0.13"/>
<rect x="387" y="599" width="2" height="82" fill="#4d7905" opacity="0.21"/>
<rect x="265" y="619" width="2" height="49" fill="#716d07" opacity="0.29"/>
<rect x="479" y="530" width="2" height="88" fill="#8c5306" opacity="0.13"/>
<rect x="492" y="550" width="2" height="109" fill="#009541" opacity="0.15"/>
<rect x="421" y="467" width="1" height="80" fill="#009541" opacity="0.15"/>
<rect x="909" y="639" width="1" height="134" fill="#009541" opacity="0.23"/>
<rect x="312" y="583" width="1" height="129" fill="#009529" opacity="0.23"/>
<rect x="870" y="535" width="1" height="94" fill="#009529" opacity="0.15"/>
<rect x="479" y="612" width="2" height="125" fill="#00951a" opacity="0.33"/>
<rect x="321" y="536" width="2" height="137" fill="#009529" opacity="0.34"/>
<rect x="733" y="393" width="3" height="73" fill="#009541" opacity="0.18"/>
<rect x="790" y="427" width="2" height="119" fill="#009529" opacity="0.29"/>
<rect x="600" y="574" width="2" height="51" fill="#00951a" opacity="0.21"/>
<rect x="324" y="390" width="3" height="98" fill="#00951a" opacity="0.28"/>
<rect x="574" y="598" width="2" height="48" fill="#009541" opacity="0.16"/>
<rect x="921" y="466" width="3" height="124" fill="#009541" opacity="0.15"/>
<rect x="362" y="609" width="3" height="52" fill="#009541" opacity="0.24"/>
<rect x="378" y="502" width="1" height="56" fill="#00951a" opacity="0.18"/>
<rect x="927" y="454" width="2" height="96" fill="#009529" opacity="0.29"/>
<rect x="653" y="442" width="1" height="49" fill="#009529" opacity="0.23"/>
<rect x="822" y="528" width="2" height="109" fill="#009529" opacity="0.29"/>
<rect x="401" y="449" width="3" height="43" fill="#00951a" opacity="0.24"/>
<rect x="493" y="612" width="2" height="48" fill="#009529" opacity="0.18"/>
<rect x="811" y="513" width="2" height="122" fill="#009529" opacity="0.26"/>
<rect x="949" y="391" width="2" height="102" fill="#009541" opacity="0.20"/>
<rect x="835" y="500" width="1" height="132" fill="#009541" opacity="0.34"/>
<rect x="572" y="486" width="2" height="49" fill="#009529" opacity="0.29"/>
<rect x="748" y="419" width="2" height="74" fill="#009529" opacity="0.17"/>
<rect x="445" y="466" width="1" height="138" fill="#009541" opacity="0.13"/>
<rect x="647" y="466" width="1" height="47" fill="#009529" opacity="0.32"/>
<rect x="333" y="475" width="2" height="81" fill="#00951a" opacity="0.16"/>
<rect x="937" y="555" width="2" height="115" fill="#009541" opacity="0.31"/>
<rect x="919" y="615" width="2" height="114" fill="#009541" opacity="0.21"/>
<rect x="722" y="624" width="1" height="91" fill="#009529" opacity="0.34"/>
<rect x="820" y="446" width="2" height="124" fill="#009529" opacity="0.17"/>
<rect x="602" y="442" width="1" height="89" fill="#009541" opacity="0.27"/>
<rect x="561" y="543" width="2" height="117" fill="#009541" opacity="0.21"/>
<rect x="357" y="550" width="2" height="124" fill="#00951a" opacity="0.26"/>
<rect x="852" y="586" width="3" height="40" fill="#00951a" opacity="0.12"/>
<rect x="373" y="591" width="2" height="82" fill="#009541" opacity="0.15"/>
<rect x="660" y="402" width="3" height="79" fill="#00951a" opacity="0.13"/>
<rect x="522" y="638" width="3" height="59" fill="#009541" opacity="0.27"/>
<rect x="833" y="411" width="1" height="108" fill="#009541" opacity="0.31"/>
<rect x="422" y="451" width="2" height="136" fill="#009529" opacity="0.17"/>
<rect x="887" y="539" width="3" height="129" fill="#009541" opacity="0.23"/>
<rect x="931" y="512" width="2" height="139" fill="#009529" opacity="0.21"/>
<rect x="306" y="602" width="2" height="50" fill="#009541" opacity="0.25"/>
<rect x="734" y="572" width="3" height="108" fill="#009529" opacity="0.33"/>
<rect x="890" y="553" width="2" height="48" fill="#009541" opacity="0.18"/>
<rect x="495" y="459" width="3" height="111" fill="#00951a" opacity="0.31"/>
<rect x="339" y="550" width="1" height="89" fill="#009529" opacity="0.32"/>
<rect x="886" y="411" width="2" height="78" fill="#00951a" opacity="0.32"/>
<rect x="781" y="575" width="2" height="44" fill="#009541" opacity="0.15"/>
<rect x="929" y="612" width="1" height="54" fill="#009541" opacity="0.16"/>
<rect x="689" y="635" width="2" height="103" fill="#009541" opacity="0.30"/>
<rect x="317" y="523" width="1" height="81" fill="#00951a" opacity="0.27"/>
<rect x="625" y="633" width="2" height="76" fill="#009541" opacity="0.16"/>
<rect x="680" y="595" width="2" height="119" fill="#009529" opacity="0.17"/>
<rect x="833" y="396" width="2" height="71" fill="#00951a" opacity="0.19"/>
<rect x="335" y="457" width="2" height="78" fill="#00951a" opacity="0.16"/>
<rect x="504" y="625" width="2" height="60" fill="#009541" opacity="0.21"/>
<rect x="750" y="474" width="3" height="72" fill="#009541" opacity="0.15"/>
<rect x="911" y="542" width="3" height="90" fill="#00951a" opacity="0.16"/>
<rect x="889" y="391" width="3" height="68" fill="#00951a" opacity="0.25"/>
<rect x="743" y="576" width="2" height="68" fill="#00951a" opacity="0.33"/>
<rect x="649" y="455" width="2" height="103" fill="#009541" opacity="0.30"/>
<rect x="327" y="595" width="2" height="97" fill="#00951a" opacity="0.34"/>
<rect x="475" y="443" width="1" height="47" fill="#00951a" opacity="0.28"/>
<rect x="572" y="590" width="2" height="51" fill="#009529" opacity="0.27"/>
<rect x="938" y="545" width="3" height="109" fill="#009541" opacity="0.31"/>
<rect x="821" y="598" width="3" height="80" fill="#009541" opacity="0.20"/>
<rect x="423" y="607" width="3" height="93" fill="#00951a" opacity="0.33"/>
<rect x="491" y="435" width="3" height="108" fill="#009529" opacity="0.24"/>
<rect x="862" y="554" width="3" height="98" fill="#009529" opacity="0.25"/>
<rect x="481" y="600" width="2" height="119" fill="#009529" opacity="0.17"/>
<rect x="861" y="442" width="2" height="52" fill="#009529" opacity="0.29"/>
<rect x="842" y="549" width="2" height="128" fill="#00951a" opacity="0.28"/>
<rect x="764" y="539" width="1" height="68" fill="#00951a" opacity="0.26"/>
<rect x="636" y="538" width="2" height="130" fill="#009529" opacity="0.20"/>
<rect x="676" y="611" width="1" height="48" fill="#00951a" opacity="0.24"/>
<rect x="380" y="628" width="3" height="62" fill="#00951a" opacity="0.30"/>
<rect x="595" y="511" width="1" height="138" fill="#009529" opacity="0.24"/>
<rect x="609" y="506" width="2" height="69" fill="#009541" opacity="0.24"/>
<rect x="452" y="525" width="2" height="122" fill="#00951a" opacity="0.24"/>
<rect x="320" y="582" width="2" height="43" fill="#009541" opacity="0.21"/>
<rect x="930" y="451" width="1" height="49" fill="#009541" opacity="0.21"/>
<rect x="930" y="486" width="1" height="107" fill="#009541" opacity="0.34"/>
<rect x="517" y="636" width="3" height="47" fill="#00951a" opacity="0.15"/>
<rect x="600" y="557" width="3" height="111" fill="#009529" opacity="0.20"/>
<rect x="425" y="485" width="2" height="68" fill="#009529" opacity="0.29"/>
<rect x="641" y="494" width="2" height="60" fill="#009541" opacity="0.17"/>
<rect x="799" y="598" width="1" height="70" fill="#00951a" opacity="0.29"/>
<rect x="775" y="396" width="1" height="61" fill="#00951a" opacity="0.29"/>
<rect x="716" y="449" width="2" height="76" fill="#00951a" opacity="0.27"/>
<rect x="954" y="459" width="2" height="44" fill="#00951a" opacity="0.20"/>
<rect x="893" y="589" width="1" height="86" fill="#009541" opacity="0.14"/>
<rect x="402" y="582" width="1" height="87" fill="#009541" opacity="0.30"/>
<rect x="614" y="594" width="1" height="53" fill="#00951a" opacity="0.25"/>
<rect x="635" y="434" width="1" height="65" fill="#009529" opacity="0.28"/>
<rect x="924" y="635" width="3" height="84" fill="#009529" opacity="0.31"/>
<rect x="855" y="415" width="2" height="41" fill="#00951a" opacity="0.25"/>
<rect x="550" y="382" width="1" height="123" fill="#009541" opacity="0.30"/>
<rect x="435" y="529" width="2" height="131" fill="#009541" opacity="0.26"/>
<rect x="884" y="506" width="2" height="104" fill="#009529" opacity="0.18"/>
<rect x="898" y="479" width="2" height="50" fill="#009529" opacity="0.22"/>
<rect x="678" y="619" width="3" height="109" fill="#009529" opacity="0.25"/>
<rect x="775" y="604" width="2" height="57" fill="#00951a" opacity="0.27"/>
<rect x="757" y="503" width="3" height="54" fill="#00951a" opacity="0.21"/>
<rect x="762" y="588" width="1" height="129" fill="#009541" opacity="0.25"/>
<rect x="792" y="438" width="1" height="114" fill="#009529" opacity="0.14"/>
<rect x="944" y="589" width="1" height="44" fill="#009541" opacity="0.18"/>
<rect x="914" y="437" width="3" height="107" fill="#009541" opacity="0.13"/>
<rect x="609" y="505" width="1" height="136" fill="#009529" opacity="0.15"/>
<rect x="649" y="540" width="3" height="72" fill="#009529" opacity="0.14"/>
<rect x="320" y="549" width="1" height="49" fill="#00951a" opacity="0.13"/>
<rect x="660" y="456" width="1" height="80" fill="#00951a" opacity="0.29"/>
<rect x="316" y="596" width="3" height="121" fill="#009529" opacity="0.15"/>
<rect x="729" y="434" width="1" height="83" fill="#00951a" opacity="0.34"/>
<rect x="660" y="472" width="2" height="49" fill="#009529" opacity="0.14"/>
<rect x="481" y="460" width="3" height="70" fill="#00951a" opacity="0.25"/>
<rect x="521" y="430" width="1" height="48" fill="#009529" opacity="0.28"/>
<rect x="806" y="436" width="3" height="79" fill="#00951a" opacity="0.25"/>
<rect x="439" y="577" width="1" height="115" fill="#009529" opacity="0.31"/>
<rect x="773" y="388" width="3" height="108" fill="#009529" opacity="0.16"/>
<rect x="922" y="495" width="2" height="111" fill="#009541" opacity="0.31"/>
<rect x="319" y="479" width="2" height="56" fill="#00951a" opacity="0.27"/>
<rect x="612" y="542" width="2" height="115" fill="#009541" opacity="0.30"/>
<rect x="309" y="520" width="2" height="74" fill="#009541" opacity="0.12"/>
<rect x="809" y="442" width="1" height="74" fill="#00951a" opacity="0.16"/>
<rect x="323" y="601" width="2" height="83" fill="#009541" opacity="0.13"/>
<rect x="380" y="499" width="1" height="61" fill="#00951a" opacity="0.27"/>
<rect x="462" y="618" width="1" height="133" fill="#00951a" opacity="0.17"/>
<rect x="490" y="616" width="2" height="41" fill="#009541" opacity="0.28"/>
<rect x="953" y="426" width="2" height="84" fill="#00951a" opacity="0.34"/>
<rect x="488" y="482" width="1" height="74" fill="#009529" opacity="0.28"/>
<rect x="438" y="447" width="2" height="136" fill="#00951a" opacity="0.14"/>
<rect x="345" y="482" width="1" height="48" fill="#00951a" opacity="0.12"/>
<rect x="539" y="417" width="3" height="51" fill="#00951a" opacity="0.34"/>
<rect x="754" y="451" width="2" height="117" fill="#009529" opacity="0.18"/>
<rect x="561" y="561" width="1" height="57" fill="#009541" opacity="0.20"/>
<rect x="849" y="388" width="2" height="123" fill="#009529" opacity="0.32"/>
<rect x="830" y="554" width="1" height="68" fill="#009529" opacity="0.14"/>
<rect x="359" y="583" width="2" height="106" fill="#00951a" opacity="0.18"/>
<rect x="330" y="505" width="1" height="124" fill="#009541" opacity="0.18"/>
<rect x="359" y="532" width="2" height="46" fill="#009529" opacity="0.18"/>
<rect x="914" y="623" width="2" height="76" fill="#009529" opacity="0.20"/>
<rect x="787" y="476" width="1" height="57" fill="#009529" opacity="0.33"/>
<rect x="409" y="578" width="1" height="133" fill="#009529" opacity="0.27"/>
<rect x="885" y="578" width="2" height="125" fill="#00951a" opacity="0.33"/>
<rect x="474" y="382" width="3" height="50" fill="#009541" opacity="0.17"/>
<rect x="319" y="494" width="3" height="52" fill="#00951a" opacity="0.28"/>
<rect x="362" y="411" width="2" height="88" fill="#009529" opacity="0.22"/>
<rect x="340" y="430" width="3" height="67" fill="#009541" opacity="0.17"/>
<rect x="523" y="395" width="3" height="91" fill="#00951a" opacity="0.17"/>
<rect x="703" y="640" width="3" height="133" fill="#009529" opacity="0.13"/>
<rect x="585" y="395" width="2" height="92" fill="#009529" opacity="0.14"/>
<rect x="615" y="502" width="2" height="135" fill="#009529" opacity="0.31"/>
<rect x="716" y="405" width="2" height="68" fill="#009529" opacity="0.15"/>
<rect x="950" y="505" width="1" height="58" fill="#00951a" opacity="0.27"/>
<rect x="640" y="386" width="1" height="87" fill="#00951a" opacity="0.27"/>
<rect x="810" y="553" width="2" height="54" fill="#009529" opacity="0.21"/>
<rect x="885" y="464" width="2" height="44" fill="#00951a" opacity="0.33"/>
<rect x="420" y="439" width="1" height="100" fill="#009541" opacity="0.17"/>
<rect x="324" y="494" width="2" height="54" fill="#009541" opacity="0.29"/>
<rect x="685" y="624" width="2" height="80" fill="#009529" opacity="0.20"/>
<rect x="620" y="397" width="3" height="77" fill="#00951a" opacity="0.35"/>
<rect x="710" y="436" width="2" height="123" fill="#009541" opacity="0.35"/>
<rect x="601" y="439" width="2" height="136" fill="#009529" opacity="0.21"/>
<rect x="526" y="554" width="2" height="42" fill="#009529" opacity="0.17"/>
<rect x="852" y="420" width="3" height="121" fill="#009541" opacity="0.25"/>
<rect x="770" y="416" width="1" height="64" fill="#009541" opacity="0.34"/>
<rect x="398" y="416" width="2" height="92" fill="#009529" opacity="0.16"/>
<rect x="579" y="401" width="3" height="122" fill="#009541" opacity="0.32"/>
<rect x="737" y="604" width="2" height="136" fill="#00951a" opacity="0.21"/>
<rect x="334" y="618" width="1" height="50" fill="#009541" opacity="0.14"/>
<rect x="797" y="426" width="1" height="54" fill="#00951a" opacity="0.21"/>
<rect x="498" y="552" width="1" height="111" fill="#009541" opacity="0.18"/>
<rect x="734" y="532" width="2" height="120" fill="#009541" opacity="0.14"/>
<rect x="892" y="528" width="2" height="58" fill="#00951a" opacity="0.17"/>
<rect x="542" y="516" width="1" height="108" fill="#00951a" opacity="0.29"/>
<rect x="712" y="503" width="1" height="107" fill="#009541" opacity="0.23"/>
<rect x="747" y="564" width="2" height="105" fill="#009541" opacity="0.34"/>
<rect x="819" y="441" width="2" height="83" fill="#00951a" opacity="0.21"/>
<rect x="935" y="614" width="2" height="63" fill="#009541" opacity="0.27"/>
<rect x="806" y="413" width="2" height="62" fill="#009541" opacity="0.15"/>
<rect x="637" y="610" width="1" height="102" fill="#009541" opacity="0.25"/>
<rect x="922" y="530" width="3" height="76" fill="#009541" opacity="0.16"/>
<rect x="618" y="385" width="2" height="108" fill="#009541" opacity="0.21"/>
<rect x="935" y="579" width="2" height="124" fill="#00951a" opacity="0.18"/>
<rect x="691" y="580" width="2" height="77" fill="#00951a" opacity="0.18"/>
<rect x="842" y="536" width="1" height="125" fill="#009529" opacity="0.33"/>
<rect x="693" y="487" width="1" height="96" fill="#009529" opacity="0.30"/>
<rect x="852" y="402" width="2" height="65" fill="#009529" opacity="0.16"/>
<rect x="894" y="584" width="1" height="64" fill="#009529" opacity="0.14"/>
<rect x="358" y="432" width="1" height="87" fill="#00951a" opacity="0.20"/>
<rect x="493" y="574" width="2" height="127" fill="#009529" opacity="0.33"/>
<rect x="474" y="449" width="1" height="46" fill="#00951a" opacity="0.34"/>
<rect x="387" y="606" width="3" height="73" fill="#009529" opacity="0.16"/>
<rect x="913" y="526" width="2" height="45" fill="#00951a" opacity="0.22"/>
<rect x="495" y="384" width="1" height="71" fill="#009541" opacity="0.14"/>
<rect x="687" y="430" width="3" height="111" fill="#009529" opacity="0.26"/>
<rect x="844" y="503" width="1" height="84" fill="#009529" opacity="0.33"/>
<rect x="442" y="598" width="2" height="86" fill="#00951a" opacity="0.22"/>
<rect x="591" y="555" width="1" height="43" fill="#009400" opacity="0.35"/>
<rect x="336" y="553" width="2" height="85" fill="#009400" opacity="0.26"/>
<rect x="415" y="535" width="2" height="66" fill="#009400" opacity="0.27"/>
<rect x="779" y="586" width="2" height="112" fill="#0e8f01" opacity="0.29"/>
<rect x="739" y="347" width="1" height="101" fill="#0e8f01" opacity="0.21"/>
<rect x="575" y="377" width="2" height="133" fill="#0e8f01" opacity="0.21"/>
<rect x="423" y="573" width="2" height="112" fill="#009407" opacity="0.41"/>
<rect x="588" y="570" width="1" height="51" fill="#009407" opacity="0.32"/>
<rect x="551" y="408" width="2" height="107" fill="#0e8f01" opacity="0.30"/>
<rect x="546" y="551" width="2" height="117" fill="#009407" opacity="0.33"/>
<rect x="903" y="620" width="1" height="102" fill="#0e8f01" opacity="0.23"/>
<rect x="899" y="371" width="2" height="126" fill="#009400" opacity="0.34"/>
<rect x="659" y="423" width="2" height="47" fill="#0e8f01" opacity="0.36"/>
<rect x="284" y="546" width="1" height="112" fill="#009400" opacity="0.29"/>
<rect x="776" y="372" width="1" height="51" fill="#0e8f01" opacity="0.25"/>
<rect x="590" y="588" width="2" height="57" fill="#0e8f01" opacity="0.43"/>
<rect x="506" y="435" width="2" height="52" fill="#0e8f01" opacity="0.49"/>
<rect x="262" y="410" width="3" height="114" fill="#0e8f01" opacity="0.27"/>
<rect x="315" y="581" width="3" height="116" fill="#009407" opacity="0.26"/>
<rect x="792" y="562" width="3" height="132" fill="#009400" opacity="0.46"/>
<rect x="575" y="579" width="3" height="43" fill="#009407" opacity="0.24"/>
<rect x="845" y="430" width="2" height="57" fill="#009407" opacity="0.26"/>
<rect x="500" y="585" width="2" height="126" fill="#009400" opacity="0.44"/>
<rect x="370" y="342" width="2" height="44" fill="#009400" opacity="0.45"/>
<rect x="817" y="412" width="2" height="77" fill="#009407" opacity="0.31"/>
<rect x="468" y="364" width="3" height="63" fill="#009407" opacity="0.43"/>
<rect x="617" y="613" width="1" height="122" fill="#009407" opacity="0.25"/>
<rect x="288" y="425" width="2" height="90" fill="#0e8f01" opacity="0.33"/>
<rect x="412" y="404" width="1" height="111" fill="#0e8f01" opacity="0.47"/>
<rect x="306" y="429" width="1" height="117" fill="#009407" opacity="0.49"/>
<rect x="917" y="476" width="2" height="86" fill="#009407" opacity="0.30"/>
<rect x="366" y="361" width="1" height="73" fill="#009400" opacity="0.27"/>
<rect x="225" y="351" width="2" height="114" fill="#0e8f01" opacity="0.39"/>
<rect x="415" y="478" width="3" height="78" fill="#0e8f01" opacity="0.47"/>
<rect x="749" y="427" width="1" height="127" fill="#009407" opacity="0.38"/>
<rect x="825" y="491" width="3" height="88" fill="#009400" opacity="0.46"/>
<rect x="695" y="394" width="2" height="76" fill="#009407" opacity="0.41"/>
<rect x="268" y="613" width="3" height="43" fill="#009400" opacity="0.42"/>
<rect x="509" y="359" width="2" height="92" fill="#009400" opacity="0.27"/>
<rect x="758" y="579" width="3" height="62" fill="#009400" opacity="0.31"/>
<rect x="730" y="618" width="2" height="60" fill="#0e8f01" opacity="0.35"/>
<rect x="938" y="482" width="1" height="115" fill="#009407" opacity="0.46"/>
<rect x="647" y="447" width="2" height="123" fill="#009400" opacity="0.21"/>
<rect x="683" y="602" width="2" height="51" fill="#009400" opacity="0.48"/>
<rect x="333" y="337" width="2" height="90" fill="#009407" opacity="0.34"/>
<rect x="291" y="396" width="3" height="55" fill="#009400" opacity="0.33"/>
<rect x="645" y="410" width="3" height="68" fill="#009400" opacity="0.35"/>
<rect x="539" y="359" width="2" height="41" fill="#009407" opacity="0.25"/>
<rect x="788" y="497" width="2" height="63" fill="#009400" opacity="0.38"/>
<rect x="884" y="393" width="1" height="99" fill="#009407" opacity="0.34"/>
<rect x="639" y="397" width="3" height="124" fill="#009407" opacity="0.22"/>
<rect x="916" y="467" width="1" height="49" fill="#009407" opacity="0.40"/>
<rect x="281" y="473" width="2" height="104" fill="#0e8f01" opacity="0.43"/>
<rect x="363" y="392" width="3" height="56" fill="#0e8f01" opacity="0.39"/>
<rect x="409" y="380" width="1" height="62" fill="#009400" opacity="0.26"/>
<rect x="419" y="486" width="3" height="58" fill="#0e8f01" opacity="0.43"/>
<rect x="637" y="477" width="2" height="68" fill="#0e8f01" opacity="0.38"/>
<rect x="283" y="382" width="3" height="47" fill="#009400" opacity="0.32"/>
<rect x="449" y="462" width="3" height="75" fill="#009407" opacity="0.25"/>
<rect x="853" y="507" width="3" height="41" fill="#0e8f01" opacity="0.35"/>
<rect x="732" y="540" width="2" height="135" fill="#009400" opacity="0.37"/>
<rect x="693" y="558" width="2" height="135" fill="#009407" opacity="0.31"/>
<rect x="843" y="575" width="2" height="99" fill="#0e8f01" opacity="0.44"/>
<rect x="293" y="501" width="2" height="105" fill="#009400" opacity="0.24"/>
<rect x="884" y="632" width="3" height="102" fill="#0e8f01" opacity="0.35"/>
<rect x="456" y="607" width="2" height="75" fill="#009407" opacity="0.48"/>
<rect x="261" y="409" width="2" height="101" fill="#009400" opacity="0.31"/>
<rect x="476" y="442" width="1" height="131" fill="#0e8f01" opacity="0.47"/>
<rect x="397" y="483" width="3" height="134" fill="#009400" opacity="0.22"/>
<rect x="335" y="558" width="2" height="54" fill="#009400" opacity="0.27"/>
<rect x="514" y="368" width="1" height="137" fill="#009400" opacity="0.37"/>
<rect x="898" y="358" width="3" height="133" fill="#009400" opacity="0.21"/>
<rect x="562" y="556" width="2" height="82" fill="#009407" opacity="0.24"/>
<rect x="408" y="356" width="1" height="56" fill="#009400" opacity="0.30"/>
<rect x="718" y="382" width="1" height="86" fill="#009400" opacity="0.26"/>
<rect x="452" y="622" width="1" height="60" fill="#0e8f01" opacity="0.30"/>
<rect x="493" y="468" width="1" height="88" fill="#009407" opacity="0.41"/>
<rect x="308" y="386" width="2" height="55" fill="#009407" opacity="0.42"/>
<rect x="216" y="494" width="1" height="108" fill="#0e8f01" opacity="0.36"/>
<rect x="869" y="334" width="1" height="84" fill="#009407" opacity="0.39"/>
<rect x="691" y="489" width="1" height="55" fill="#009407" opacity="0.35"/>
<rect x="562" y="543" width="1" height="56" fill="#009407" opacity="0.44"/>
<rect x="791" y="490" width="2" height="41" fill="#0e8f01" opacity="0.41"/>
<rect x="319" y="448" width="2" height="106" fill="#0e8f01" opacity="0.49"/>
<rect x="904" y="521" width="3" height="72" fill="#009400" opacity="0.28"/>
<rect x="884" y="576" width="1" height="119" fill="#009407" opacity="0.41"/>
<rect x="421" y="565" width="2" height="66" fill="#009400" opacity="0.37"/>
<rect x="601" y="625" width="1" height="126" fill="#0e8f01" opacity="0.48"/>
<rect x="768" y="376" width="3" height="116" fill="#0e8f01" opacity="0.38"/>
<rect x="507" y="619" width="2" height="49" fill="#009400" opacity="0.31"/>
<rect x="862" y="518" width="2" height="84" fill="#009400" opacity="0.42"/>
<rect x="682" y="360" width="2" height="89" fill="#009400" opacity="0.22"/>
<rect x="373" y="572" width="3" height="61" fill="#009407" opacity="0.41"/>
<rect x="681" y="416" width="2" height="104" fill="#0e8f01" opacity="0.41"/>
<rect x="721" y="627" width="2" height="45" fill="#009407" opacity="0.29"/>
<rect x="645" y="598" width="2" height="114" fill="#0e8f01" opacity="0.39"/>
<rect x="467" y="407" width="1" height="121" fill="#0e8f01" opacity="0.34"/>
<rect x="238" y="594" width="1" height="129" fill="#009400" opacity="0.34"/>
<rect x="540" y="553" width="2" height="113" fill="#009407" opacity="0.26"/>
<rect x="277" y="583" width="2" height="52" fill="#009407" opacity="0.28"/>
<rect x="299" y="611" width="2" height="62" fill="#0e8f01" opacity="0.28"/>
<rect x="217" y="380" width="2" height="140" fill="#009400" opacity="0.39"/>
<rect x="591" y="595" width="1" height="84" fill="#0e8f01" opacity="0.47"/>
<rect x="806" y="541" width="2" height="114" fill="#009407" opacity="0.34"/>
<rect x="820" y="628" width="2" height="132" fill="#009407" opacity="0.41"/>
<rect x="607" y="456" width="2" height="57" fill="#0e8f01" opacity="0.34"/>
<rect x="907" y="505" width="3" height="50" fill="#009407" opacity="0.30"/>
<rect x="440" y="360" width="1" height="78" fill="#009400" opacity="0.35"/>
<rect x="393" y="432" width="2" height="98" fill="#0e8f01" opacity="0.43"/>
<rect x="420" y="472" width="3" height="136" fill="#009407" opacity="0.31"/>
<rect x="784" y="621" width="3" height="110" fill="#009407" opacity="0.26"/>
<rect x="927" y="536" width="2" height="57" fill="#009407" opacity="0.26"/>
<rect x="401" y="550" width="1" height="111" fill="#0e8f01" opacity="0.20"/>
<rect x="607" y="394" width="1" height="91" fill="#009400" opacity="0.40"/>
<rect x="710" y="617" width="1" height="139" fill="#0e8f01" opacity="0.21"/>
<rect x="506" y="630" width="1" height="71" fill="#009407" opacity="0.32"/>
<rect x="883" y="513" width="1" height="122" fill="#009407" opacity="0.26"/>
<rect x="311" y="588" width="1" height="50" fill="#0e8f01" opacity="0.38"/>
<rect x="754" y="626" width="3" height="107" fill="#0e8f01" opacity="0.50"/>
<rect x="190" y="515" width="3" height="110" fill="#009400" opacity="0.45"/>
<rect x="875" y="489" width="1" height="83" fill="#009400" opacity="0.50"/>
<rect x="955" y="523" width="2" height="105" fill="#0e8f01" opacity="0.42"/>
<rect x="605" y="441" width="2" height="130" fill="#009407" opacity="0.24"/>
<rect x="294" y="376" width="1" height="99" fill="#009400" opacity="0.29"/>
<rect x="618" y="360" width="3" height="90" fill="#009407" opacity="0.43"/>
<rect x="744" y="403" width="1" height="54" fill="#009400" opacity="0.47"/>
<rect x="452" y="570" width="3" height="123" fill="#0e8f01" opacity="0.30"/>
<rect x="774" y="399" width="1" height="107" fill="#0e8f01" opacity="0.50"/>
<rect x="358" y="342" width="2" height="133" fill="#009400" opacity="0.28"/>
<rect x="781" y="564" width="1" height="74" fill="#0e8f01" opacity="0.43"/>
<rect x="228" y="571" width="2" height="85" fill="#009400" opacity="0.29"/>
<rect x="426" y="612" width="3" height="111" fill="#009400" opacity="0.38"/>
<rect x="563" y="637" width="2" height="113" fill="#009407" opacity="0.44"/>
<rect x="394" y="342" width="2" height="45" fill="#009407" opacity="0.32"/>
<rect x="350" y="395" width="3" height="66" fill="#009400" opacity="0.27"/>
<rect x="538" y="548" width="1" height="106" fill="#009400" opacity="0.32"/>
<rect x="593" y="419" width="2" height="76" fill="#0e8f01" opacity="0.40"/>
<rect x="430" y="342" width="3" height="82" fill="#009400" opacity="0.25"/>
<rect x="225" y="498" width="1" height="139" fill="#0e8f01" opacity="0.35"/>
<rect x="555" y="390" width="3" height="107" fill="#009407" opacity="0.44"/>
<rect x="400" y="620" width="3" height="121" fill="#009400" opacity="0.24"/>
<rect x="552" y="369" width="2" height="109" fill="#009407" opacity="0.50"/>
<rect x="738" y="575" width="1" height="119" fill="#009400" opacity="0.44"/>
<rect x="359" y="399" width="2" height="135" fill="#0e8f01" opacity="0.25"/>
<rect x="825" y="456" width="2" height="123" fill="#0e8f01" opacity="0.33"/>
<rect x="172" y="358" width="2" height="113" fill="#009407" opacity="0.47"/>
<rect x="690" y="411" width="3" height="52" fill="#009400" opacity="0.40"/>
<rect x="172" y="343" width="2" height="75" fill="#009407" opacity="0.30"/>
<rect x="888" y="574" width="3" height="127" fill="#009407" opacity="0.44"/>
<rect x="833" y="495" width="2" height="71" fill="#0e8f01" opacity="0.42"/>
<rect x="269" y="440" width="2" height="96" fill="#009407" opacity="0.28"/>
<rect x="567" y="486" width="2" height="82" fill="#009400" opacity="0.36"/>
<rect x="387" y="569" width="2" height="110" fill="#009407" opacity="0.34"/>
<rect x="726" y="600" width="2" height="94" fill="#0e8f01" opacity="0.32"/>
<rect x="730" y="584" width="2" height="88" fill="#009407" opacity="0.34"/>
<rect x="452" y="425" width="2" height="76" fill="#009407" opacity="0.40"/>
<rect x="822" y="635" width="2" height="83" fill="#009407" opacity="0.31"/>
<rect x="182" y="500" width="3" height="74" fill="#009400" opacity="0.33"/>
<rect x="650" y="606" width="2" height="127" fill="#009400" opacity="0.30"/>
<rect x="543" y="553" width="2" height="114" fill="#0e8f01" opacity="0.23"/>
<rect x="325" y="608" width="2" height="44" fill="#0e8f01" opacity="0.45"/>
<rect x="855" y="466" width="2" height="82" fill="#009400" opacity="0.49"/>
<rect x="314" y="379" width="2" height="68" fill="#0e8f01" opacity="0.21"/>
<rect x="306" y="347" width="2" height="82" fill="#0e8f01" opacity="0.35"/>
<rect x="257" y="414" width="2" height="91" fill="#009400" opacity="0.32"/>
<rect x="316" y="572" width="1" height="114" fill="#0e8f01" opacity="0.30"/>
<rect x="707" y="524" width="1" height="59" fill="#009407" opacity="0.40"/>
<rect x="652" y="421" width="2" height="60" fill="#009400" opacity="0.34"/>
<rect x="780" y="603" width="2" height="52" fill="#009407" opacity="0.39"/>
<rect x="645" y="488" width="2" height="52" fill="#0e8f01" opacity="0.29"/>
<rect x="498" y="443" width="1" height="130" fill="#0e8f01" opacity="0.50"/>
<rect x="359" y="596" width="2" height="64" fill="#0e8f01" opacity="0.39"/>
<rect x="580" y="501" width="3" height="70" fill="#009407" opacity="0.34"/>
<rect x="950" y="347" width="2" height="78" fill="#009407" opacity="0.39"/>
<rect x="784" y="591" width="3" height="95" fill="#009400" opacity="0.44"/>
<rect x="252" y="411" width="3" height="115" fill="#009400" opacity="0.29"/>
<rect x="858" y="545" width="1" height="47" fill="#009400" opacity="0.31"/>
<rect x="511" y="487" width="2" height="69" fill="#009407" opacity="0.31"/>
<rect x="733" y="361" width="1" height="93" fill="#0e8f01" opacity="0.29"/>
<rect x="597" y="398" width="2" height="79" fill="#009407" opacity="0.38"/>
<rect x="808" y="571" width="2" height="25" fill="#5f7306" opacity="0.20"/>
<rect x="964" y="611" width="1" height="28" fill="#806207" opacity="0.16"/>
<rect x="608" y="639" width="1" height="33" fill="#716d07" opacity="0.35"/>
<rect x="673" y="598" width="2" height="42" fill="#716d07" opacity="0.16"/>
<rect x="861" y="558" width="1" height="75" fill="#5f7306" opacity="0.21"/>
<rect x="928" y="575" width="1" height="44" fill="#8c5306" opacity="0.25"/>
<rect x="896" y="600" width="2" height="24" fill="#4d7905" opacity="0.16"/>
<rect x="900" y="595" width="2" height="62" fill="#4d7905" opacity="0.24"/>
<rect x="716" y="601" width="3" height="28" fill="#4d7905" opacity="0.26"/>
<rect x="650" y="574" width="2" height="61" fill="#4d7905" opacity="0.22"/>
<rect x="907" y="602" width="2" height="65" fill="#8c5306" opacity="0.22"/>
<rect x="959" y="630" width="1" height="59" fill="#5f7306" opacity="0.26"/>
<rect x="612" y="643" width="2" height="78" fill="#806207" opacity="0.31"/>
<rect x="626" y="640" width="1" height="77" fill="#5f7306" opacity="0.26"/>
<rect x="685" y="550" width="3" height="70" fill="#994305" opacity="0.17"/>
<rect x="668" y="575" width="1" height="58" fill="#716d07" opacity="0.20"/>
<rect x="624" y="548" width="1" height="57" fill="#5f7306" opacity="0.16"/>
<rect x="708" y="571" width="1" height="75" fill="#716d07" opacity="0.35"/>
<rect x="763" y="628" width="1" height="37" fill="#5f7306" opacity="0.29"/>
<rect x="684" y="550" width="3" height="76" fill="#994305" opacity="0.26"/>
<rect x="927" y="582" width="3" height="53" fill="#8c5306" opacity="0.31"/>
<rect x="948" y="564" width="2" height="36" fill="#716d07" opacity="0.28"/>
<rect x="747" y="565" width="2" height="33" fill="#8c5306" opacity="0.24"/>
<rect x="785" y="543" width="2" height="65" fill="#8c5306" opacity="0.17"/>
<rect x="729" y="621" width="3" height="59" fill="#716d07" opacity="0.24"/>
<rect x="657" y="641" width="2" height="48" fill="#716d07" opacity="0.27"/>
<rect x="692" y="603" width="2" height="74" fill="#806207" opacity="0.20"/>
<rect x="645" y="571" width="2" height="56" fill="#806207" opacity="0.22"/>
<rect x="601" y="628" width="2" height="35" fill="#994305" opacity="0.25"/>
<rect x="808" y="639" width="2" height="62" fill="#806207" opacity="0.27"/>
<rect x="635" y="647" width="3" height="46" fill="#8c5306" opacity="0.31"/>
<rect x="864" y="588" width="2" height="71" fill="#8c5306" opacity="0.16"/>
<rect x="932" y="575" width="3" height="59" fill="#8c5306" opacity="0.18"/>
<rect x="637" y="619" width="2" height="70" fill="#8c5306" opacity="0.25"/>
<rect x="671" y="611" width="1" height="49" fill="#5f7306" opacity="0.35"/>
<rect x="922" y="589" width="1" height="73" fill="#994305" opacity="0.22"/>
<rect x="915" y="648" width="2" height="58" fill="#994305" opacity="0.16"/>
<rect x="728" y="551" width="2" height="68" fill="#4d7905" opacity="0.19"/>
<rect x="693" y="629" width="1" height="68" fill="#994305" opacity="0.32"/>
<rect x="619" y="567" width="2" height="25" fill="#5f7306" opacity="0.18"/>
<rect x="667" y="540" width="2" height="75" fill="#806207" opacity="0.18"/>
<rect x="925" y="585" width="1" height="65" fill="#5f7306" opacity="0.20"/>
<rect x="640" y="617" width="2" height="67" fill="#716d07" opacity="0.20"/>
<rect x="716" y="583" width="3" height="59" fill="#716d07" opacity="0.19"/>
<rect x="627" y="644" width="3" height="51" fill="#4d7905" opacity="0.22"/>
<rect x="884" y="631" width="2" height="49" fill="#8c5306" opacity="0.33"/>
<rect x="904" y="563" width="2" height="23" fill="#8c5306" opacity="0.34"/>
<rect x="934" y="649" width="1" height="51" fill="#5f7306" opacity="0.28"/>
<rect x="933" y="587" width="2" height="21" fill="#4d7905" opacity="0.23"/>
<rect x="658" y="561" width="2" height="69" fill="#8c5306" opacity="0.28"/>
<rect x="869" y="563" width="1" height="59" fill="#4d7905" opacity="0.19"/>
<rect x="741" y="619" width="2" height="51" fill="#806207" opacity="0.14"/>
<rect x="618" y="549" width="2" height="23" fill="#806207" opacity="0.30"/>
<rect x="855" y="558" width="1" height="26" fill="#806207" opacity="0.13"/>
<rect x="868" y="581" width="3" height="31" fill="#4d7905" opacity="0.24"/>
<rect x="754" y="553" width="2" height="51" fill="#8c5306" opacity="0.34"/>
<rect x="742" y="588" width="2" height="34" fill="#806207" opacity="0.23"/>
<rect x="863" y="582" width="2" height="51" fill="#5f7306" opacity="0.25"/>
<rect x="841" y="569" width="2" height="75" fill="#8c5306" opacity="0.21"/>
<rect x="826" y="580" width="2" height="56" fill="#8c5306" opacity="0.15"/>
<rect x="701" y="632" width="1" height="27" fill="#8c5306" opacity="0.14"/>
<rect x="827" y="613" width="3" height="67" fill="#4d7905" opacity="0.30"/>
<rect x="638" y="628" width="1" height="44" fill="#8c5306" opacity="0.20"/>
<rect x="895" y="550" width="2" height="22" fill="#4d7905" opacity="0.14"/>
<rect x="633" y="561" width="2" height="51" fill="#806207" opacity="0.31"/>
<rect x="754" y="568" width="1" height="34" fill="#994305" opacity="0.29"/>
<rect x="636" y="644" width="1" height="44" fill="#5f7306" opacity="0.14"/>
<rect x="624" y="616" width="2" height="55" fill="#4d7905" opacity="0.23"/>
<rect x="669" y="588" width="2" height="37" fill="#806207" opacity="0.25"/>
<rect x="836" y="596" width="3" height="26" fill="#806207" opacity="0.17"/>
<rect x="643" y="596" width="2" height="50" fill="#806207" opacity="0.18"/>
<rect x="938" y="596" width="2" height="56" fill="#8c5306" opacity="0.34"/>
<rect x="695" y="630" width="2" height="57" fill="#716d07" opacity="0.35"/>
<rect x="840" y="629" width="1" height="53" fill="#806207" opacity="0.32"/>
<rect x="665" y="569" width="2" height="57" fill="#8c5306" opacity="0.23"/>
<rect x="864" y="551" width="1" height="60" fill="#716d07" opacity="0.23"/>
<rect x="840" y="616" width="2" height="23" fill="#8c5306" opacity="0.21"/>
<rect x="757" y="581" width="2" height="62" fill="#8c5306" opacity="0.27"/>
<rect x="748" y="584" width="2" height="43" fill="#994305" opacity="0.30"/>
<rect x="967" y="591" width="2" height="70" fill="#4d7905" opacity="0.29"/>
<rect x="865" y="643" width="2" height="70" fill="#8c5306" opacity="0.23"/>
<rect x="716" y="581" width="2" height="68" fill="#994305" opacity="0.27"/>
<rect x="663" y="557" width="2" height="54" fill="#8c5306" opacity="0.20"/>
<rect x="638" y="557" width="2" height="63" fill="#806207" opacity="0.34"/>
<rect x="707" y="549" width="1" height="32" fill="#8c5306" opacity="0.17"/>
<rect x="773" y="588" width="1" height="58" fill="#5f7306" opacity="0.34"/>
<rect x="685" y="568" width="1" height="21" fill="#8c5306" opacity="0.28"/>
<rect x="815" y="595" width="2" height="35" fill="#716d07" opacity="0.34"/>
<rect x="738" y="649" width="1" height="73" fill="#994305" opacity="0.12"/>
<rect x="863" y="629" width="2" height="62" fill="#8c5306" opacity="0.16"/>
<rect x="800" y="569" width="2" height="44" fill="#5f7306" opacity="0.28"/>
<rect x="812" y="626" width="3" height="58" fill="#716d07" opacity="0.31"/>
<rect x="810" y="576" width="2" height="76" fill="#994305" opacity="0.14"/>
<rect x="723" y="618" width="2" height="76" fill="#4d7905" opacity="0.18"/>
<rect x="759" y="598" width="3" height="47" fill="#994305" opacity="0.19"/>
<rect x="641" y="608" width="2" height="69" fill="#4d7905" opacity="0.28"/>
<rect x="930" y="554" width="3" height="28" fill="#4d7905" opacity="0.20"/>
<rect x="951" y="650" width="1" height="47" fill="#4d7905" opacity="0.31"/>
<rect x="901" y="546" width="1" height="47" fill="#8c5306" opacity="0.13"/>
<rect x="927" y="622" width="1" height="50" fill="#8c5306" opacity="0.17"/>
<rect x="651" y="546" width="2" height="45" fill="#806207" opacity="0.26"/>
<rect x="754" y="546" width="1" height="73" fill="#806207" opacity="0.13"/>
<rect x="892" y="587" width="1" height="33" fill="#5f7306" opacity="0.14"/>
<rect x="621" y="587" width="3" height="70" fill="#806207" opacity="0.31"/>
<rect x="817" y="604" width="3" height="21" fill="#4d7905" opacity="0.18"/>
<rect x="830" y="547" width="3" height="53" fill="#5f7306" opacity="0.23"/>
<rect x="750" y="551" width="1" height="64" fill="#5f7306" opacity="0.29"/>
<rect x="774" y="624" width="2" height="71" fill="#5f7306" opacity="0.26"/>
<rect x="756" y="606" width="1" height="60" fill="#8c5306" opacity="0.33"/>
<rect x="692" y="603" width="2" height="43" fill="#4d7905" opacity="0.30"/>
<rect x="828" y="576" width="3" height="53" fill="#994305" opacity="0.30"/>
<rect x="844" y="587" width="2" height="73" fill="#994305" opacity="0.29"/>
<rect x="712" y="639" width="2" height="23" fill="#4d7905" opacity="0.12"/>
<rect x="719" y="636" width="2" height="24" fill="#5f7306" opacity="0.33"/>
<rect x="661" y="569" width="2" height="64" fill="#4d7905" opacity="0.28"/>
<rect x="796" y="607" width="2" height="40" fill="#5f7306" opacity="0.18"/>
<rect x="791" y="582" width="3" height="41" fill="#716d07" opacity="0.31"/>
<rect x="956" y="572" width="2" height="42" fill="#8c5306" opacity="0.13"/>
<rect x="645" y="632" width="1" height="20" fill="#806207" opacity="0.20"/>
<rect x="658" y="555" width="1" height="38" fill="#994305" opacity="0.32"/>
<rect x="578" y="535" width="3" height="83" fill="#5f7306" opacity="0.37"/>
<rect x="586" y="577" width="1" height="46" fill="#5f7306" opacity="0.56"/>
<rect x="575" y="492" width="3" height="84" fill="#4d7905" opacity="0.46"/>
<rect x="573" y="598" width="2" height="98" fill="#716d07" opacity="0.39"/>
<rect x="561" y="562" width="3" height="89" fill="#806207" opacity="0.54"/>
<rect x="554" y="502" width="2" height="73" fill="#716d07" opacity="0.37"/>
<rect x="563" y="561" width="2" height="39" fill="#5f7306" opacity="0.39"/>
<rect x="505" y="514" width="3" height="84" fill="#994305" opacity="0.35"/>
<rect x="505" y="522" width="2" height="92" fill="#716d07" opacity="0.32"/>
<rect x="568" y="491" width="1" height="77" fill="#716d07" opacity="0.37"/>
<rect x="559" y="585" width="3" height="59" fill="#5f7306" opacity="0.31"/>
<rect x="528" y="509" width="2" height="85" fill="#8c5306" opacity="0.46"/>
<rect x="563" y="495" width="2" height="57" fill="#8c5306" opacity="0.38"/>
<rect x="567" y="506" width="2" height="53" fill="#716d07" opacity="0.56"/>
<rect x="557" y="538" width="1" height="57" fill="#5f7306" opacity="0.43"/>
<rect x="550" y="584" width="2" height="48" fill="#8c5306" opacity="0.33"/>
<rect x="544" y="572" width="3" height="41" fill="#716d07" opacity="0.60"/>
<rect x="542" y="526" width="2" height="89" fill="#8c5306" opacity="0.49"/>
<rect x="549" y="567" width="3" height="36" fill="#4d7905" opacity="0.35"/>
<rect x="535" y="495" width="3" height="53" fill="#806207" opacity="0.57"/>
<rect x="583" y="591" width="2" height="63" fill="#716d07" opacity="0.58"/>
<rect x="557" y="585" width="1" height="59" fill="#806207" opacity="0.55"/>
<rect x="574" y="525" width="2" height="88" fill="#8c5306" opacity="0.53"/>
<rect x="540" y="529" width="1" height="44" fill="#5f7306" opacity="0.49"/>
<rect x="591" y="517" width="2" height="44" fill="#994305" opacity="0.50"/>
<rect x="562" y="535" width="3" height="60" fill="#5f7306" opacity="0.37"/>
<rect x="525" y="494" width="3" height="82" fill="#4d7905" opacity="0.41"/>
<rect x="536" y="501" width="3" height="96" fill="#806207" opacity="0.38"/>
<rect x="526" y="539" width="3" height="61" fill="#994305" opacity="0.45"/>
<rect x="559" y="578" width="2" height="34" fill="#5f7306" opacity="0.57"/>
<rect x="518" y="574" width="3" height="61" fill="#994305" opacity="0.32"/>
<rect x="566" y="501" width="1" height="44" fill="#8c5306" opacity="0.35"/>
<rect x="546" y="570" width="2" height="55" fill="#994305" opacity="0.40"/>
<rect x="537" y="495" width="2" height="36" fill="#5f7306" opacity="0.56"/>
<rect x="534" y="567" width="2" height="56" fill="#806207" opacity="0.36"/>
<rect x="513" y="578" width="2" height="62" fill="#716d07" opacity="0.48"/>
<rect x="558" y="527" width="2" height="69" fill="#806207" opacity="0.59"/>
<rect x="560" y="544" width="1" height="75" fill="#994305" opacity="0.40"/>
<rect x="517" y="581" width="3" height="31" fill="#4d7905" opacity="0.56"/>
<rect x="571" y="566" width="2" height="51" fill="#994305" opacity="0.51"/>
<rect x="524" y="567" width="3" height="54" fill="#994305" opacity="0.41"/>
<rect x="563" y="590" width="1" height="36" fill="#994305" opacity="0.56"/>
<rect x="498" y="545" width="2" height="57" fill="#8c5306" opacity="0.36"/>
<rect x="571" y="546" width="3" height="83" fill="#5f7306" opacity="0.44"/>
<rect x="581" y="519" width="2" height="84" fill="#806207" opacity="0.50"/>
<rect x="569" y="556" width="2" height="61" fill="#806207" opacity="0.46"/>
<rect x="553" y="567" width="2" height="44" fill="#8c5306" opacity="0.40"/>
<rect x="504" y="522" width="2" height="81" fill="#716d07" opacity="0.42"/>
<rect x="523" y="525" width="1" height="71" fill="#806207" opacity="0.38"/>
<rect x="545" y="512" width="2" height="92" fill="#4d7905" opacity="0.50"/>
<rect x="584" y="521" width="1" height="76" fill="#716d07" opacity="0.40"/>
<rect x="526" y="504" width="2" height="60" fill="#5f7306" opacity="0.52"/>
<rect x="558" y="514" width="2" height="66" fill="#716d07" opacity="0.36"/>
<rect x="506" y="524" width="2" height="38" fill="#8c5306" opacity="0.38"/>
<rect x="551" y="534" width="1" height="51" fill="#806207" opacity="0.43"/>
<rect x="555" y="511" width="3" height="43" fill="#806207" opacity="0.57"/>
<rect x="519" y="511" width="2" height="78" fill="#716d07" opacity="0.57"/>
<rect x="498" y="564" width="3" height="47" fill="#806207" opacity="0.56"/>
<rect x="531" y="487" width="2" height="77" fill="#8c5306" opacity="0.46"/>
<rect x="541" y="485" width="1" height="54" fill="#806207" opacity="0.40"/>
<rect x="542" y="542" width="1" height="92" fill="#994305" opacity="0.49"/>
<rect x="579" y="495" width="2" height="45" fill="#8c5306" opacity="0.32"/>
<rect x="541" y="574" width="2" height="45" fill="#5f7306" opacity="0.59"/>
<rect x="581" y="504" width="1" height="68" fill="#4d7905" opacity="0.55"/>
<rect x="570" y="570" width="1" height="72" fill="#806207" opacity="0.59"/>
<rect x="505" y="574" width="2" height="81" fill="#806207" opacity="0.51"/>
<rect x="535" y="570" width="3" height="33" fill="#8c5306" opacity="0.44"/>
<rect x="574" y="516" width="1" height="68" fill="#716d07" opacity="0.45"/>
<rect x="503" y="583" width="3" height="77" fill="#716d07" opacity="0.59"/>
<rect x="587" y="595" width="1" height="36" fill="#994305" opacity="0.34"/>
<rect x="546" y="539" width="2" height="96" fill="#806207" opacity="0.57"/>
<rect x="535" y="548" width="2" height="67" fill="#716d07" opacity="0.44"/>
<rect x="515" y="583" width="1" height="47" fill="#4d7905" opacity="0.50"/>
<rect x="552" y="496" width="1" height="59" fill="#8c5306" opacity="0.43"/>
<rect x="501" y="600" width="1" height="37" fill="#8c5306" opacity="0.51"/>
<rect x="543" y="539" width="3" height="40" fill="#716d07" opacity="0.45"/>
<rect x="585" y="513" width="1" height="36" fill="#8c5306" opacity="0.58"/>
<rect x="530" y="492" width="2" height="90" fill="#994305" opacity="0.36"/>
<rect x="497" y="519" width="1" height="52" fill="#5f7306" opacity="0.43"/>
<rect x="498" y="590" width="2" height="64" fill="#8c5306" opacity="0.39"/>
<rect x="501" y="399" width="3" height="58" fill="#8c5306" opacity="0.29"/>
<rect x="474" y="454" width="1" height="70" fill="#4d7905" opacity="0.30"/>
<rect x="457" y="445" width="2" height="67" fill="#4d7905" opacity="0.41"/>
<rect x="496" y="433" width="3" height="55" fill="#994305" opacity="0.26"/>
<rect x="473" y="437" width="2" height="33" fill="#994305" opacity="0.38"/>
<rect x="486" y="393" width="2" height="43" fill="#994305" opacity="0.27"/>
<rect x="451" y="445" width="3" height="50" fill="#716d07" opacity="0.40"/>
<rect x="476" y="402" width="1" height="31" fill="#4d7905" opacity="0.32"/>
<rect x="483" y="409" width="2" height="33" fill="#4d7905" opacity="0.31"/>
<rect x="468" y="443" width="3" height="70" fill="#8c5306" opacity="0.35"/>
<rect x="466" y="452" width="2" height="73" fill="#5f7306" opacity="0.34"/>
<rect x="507" y="443" width="2" height="69" fill="#5f7306" opacity="0.36"/>
<rect x="465" y="445" width="3" height="52" fill="#994305" opacity="0.28"/>
<rect x="499" y="381" width="1" height="50" fill="#994305" opacity="0.31"/>
<rect x="474" y="432" width="3" height="46" fill="#994305" opacity="0.45"/>
<rect x="463" y="445" width="1" height="47" fill="#806207" opacity="0.47"/>
<rect x="451" y="403" width="2" height="77" fill="#4d7905" opacity="0.38"/>
<rect x="509" y="420" width="2" height="46" fill="#716d07" opacity="0.47"/>
<rect x="488" y="393" width="2" height="79" fill="#806207" opacity="0.48"/>
<rect x="498" y="420" width="2" height="66" fill="#806207" opacity="0.43"/>
<rect x="465" y="435" width="3" height="59" fill="#716d07" opacity="0.47"/>
<rect x="501" y="396" width="2" height="71" fill="#8c5306" opacity="0.46"/>
<rect x="519" y="394" width="1" height="48" fill="#8c5306" opacity="0.46"/>
<rect x="495" y="396" width="2" height="76" fill="#4d7905" opacity="0.30"/>
<rect x="519" y="454" width="2" height="36" fill="#4d7905" opacity="0.45"/>
<rect x="486" y="434" width="2" height="37" fill="#4d7905" opacity="0.44"/>
<rect x="469" y="441" width="2" height="67" fill="#5f7306" opacity="0.49"/>
<rect x="456" y="390" width="3" height="45" fill="#806207" opacity="0.40"/>
<rect x="519" y="454" width="1" height="69" fill="#4d7905" opacity="0.44"/>
<rect x="490" y="439" width="1" height="59" fill="#716d07" opacity="0.39"/>
<rect x="511" y="387" width="3" height="61" fill="#716d07" opacity="0.31"/>
<rect x="519" y="448" width="1" height="47" fill="#806207" opacity="0.31"/>
<rect x="509" y="391" width="2" height="63" fill="#994305" opacity="0.32"/>
<rect x="457" y="398" width="2" height="70" fill="#806207" opacity="0.32"/>
<rect x="493" y="401" width="1" height="69" fill="#994305" opacity="0.35"/>
<rect x="490" y="439" width="2" height="47" fill="#716d07" opacity="0.41"/>
<rect x="511" y="466" width="2" height="56" fill="#716d07" opacity="0.39"/>
<rect x="513" y="430" width="2" height="32" fill="#994305" opacity="0.38"/>
<rect x="460" y="466" width="3" height="51" fill="#716d07" opacity="0.26"/>
<rect x="508" y="382" width="2" height="46" fill="#5f7306" opacity="0.40"/>
<rect x="955" y="404" width="1" height="35" fill="#994305" opacity="0.37"/>
<rect x="956" y="458" width="2" height="28" fill="#806207" opacity="0.24"/>
<rect x="931" y="465" width="2" height="29" fill="#8c5306" opacity="0.23"/>
<rect x="923" y="426" width="1" height="38" fill="#994305" opacity="0.28"/>
<rect x="965" y="544" width="1" height="66" fill="#994305" opacity="0.26"/>
<rect x="907" y="546" width="3" height="36" fill="#5f7306" opacity="0.33"/>
<rect x="907" y="514" width="2" height="60" fill="#806207" opacity="0.21"/>
<rect x="952" y="432" width="2" height="26" fill="#806207" opacity="0.36"/>
<rect x="965" y="467" width="1" height="53" fill="#806207" opacity="0.28"/>
<rect x="950" y="399" width="1" height="36" fill="#806207" opacity="0.38"/>
<rect x="937" y="510" width="2" height="38" fill="#8c5306" opacity="0.27"/>
<rect x="962" y="532" width="1" height="35" fill="#4d7905" opacity="0.25"/>
<rect x="967" y="387" width="2" height="60" fill="#994305" opacity="0.43"/>
<rect x="913" y="554" width="2" height="47" fill="#716d07" opacity="0.23"/>
<rect x="910" y="508" width="1" height="52" fill="#716d07" opacity="0.21"/>
<rect x="901" y="425" width="2" height="59" fill="#8c5306" opacity="0.33"/>
<rect x="954" y="410" width="3" height="46" fill="#8c5306" opacity="0.40"/>
<rect x="900" y="539" width="2" height="32" fill="#806207" opacity="0.34"/>
<rect x="955" y="556" width="3" height="22" fill="#716d07" opacity="0.37"/>
<rect x="932" y="487" width="2" height="60" fill="#4d7905" opacity="0.20"/>
<rect x="963" y="516" width="2" height="44" fill="#5f7306" opacity="0.28"/>
<rect x="950" y="536" width="1" height="39" fill="#4d7905" opacity="0.32"/>
<rect x="964" y="469" width="3" height="24" fill="#806207" opacity="0.26"/>
<rect x="946" y="503" width="3" height="42" fill="#994305" opacity="0.28"/>
<rect x="942" y="446" width="2" height="69" fill="#8c5306" opacity="0.22"/>
<rect x="909" y="446" width="3" height="26" fill="#4d7905" opacity="0.41"/>
<rect x="967" y="422" width="1" height="31" fill="#8c5306" opacity="0.27"/>
<rect x="904" y="480" width="3" height="35" fill="#994305" opacity="0.38"/>
<rect x="953" y="489" width="2" height="52" fill="#8c5306" opacity="0.31"/>
<rect x="960" y="456" width="2" height="25" fill="#716d07" opacity="0.36"/>
<rect x="935" y="385" width="3" height="56" fill="#716d07" opacity="0.26"/>
<rect x="926" y="496" width="2" height="50" fill="#5f7306" opacity="0.35"/>
<rect x="964" y="454" width="2" height="58" fill="#806207" opacity="0.43"/>
<rect x="923" y="438" width="1" height="29" fill="#994305" opacity="0.41"/>
<rect x="960" y="468" width="2" height="69" fill="#716d07" opacity="0.43"/>
<rect x="907" y="451" width="2" height="70" fill="#806207" opacity="0.26"/>
<rect x="902" y="560" width="2" height="33" fill="#5f7306" opacity="0.34"/>
<rect x="965" y="560" width="2" height="64" fill="#5f7306" opacity="0.29"/>
<rect x="902" y="436" width="1" height="21" fill="#994305" opacity="0.21"/>
<rect x="939" y="481" width="2" height="43" fill="#5f7306" opacity="0.33"/>
<rect x="918" y="399" width="3" height="68" fill="#8c5306" opacity="0.40"/>
<rect x="968" y="556" width="2" height="47" fill="#994305" opacity="0.29"/>
<rect x="957" y="470" width="2" height="59" fill="#8c5306" opacity="0.35"/>
<rect x="940" y="536" width="1" height="24" fill="#994305" opacity="0.33"/>
<rect x="940" y="408" width="3" height="66" fill="#806207" opacity="0.25"/>
<rect x="929" y="492" width="1" height="41" fill="#4d7905" opacity="0.22"/>
<rect x="950" y="405" width="2" height="33" fill="#4d7905" opacity="0.20"/>
<rect x="953" y="494" width="1" height="38" fill="#5f7306" opacity="0.31"/>
<rect x="917" y="492" width="2" height="69" fill="#5f7306" opacity="0.36"/>
<rect x="916" y="424" width="1" height="25" fill="#806207" opacity="0.31"/>
<rect x="970" y="558" width="3" height="60" fill="#4d7905" opacity="0.24"/>
<rect x="927" y="465" width="1" height="47" fill="#8c5306" opacity="0.34"/>
<rect x="935" y="394" width="2" height="32" fill="#716d07" opacity="0.22"/>
<rect x="947" y="458" width="3" height="69" fill="#4d7905" opacity="0.23"/>
<rect x="961" y="474" width="2" height="66" fill="#994305" opacity="0.22"/>
<rect x="942" y="551" width="2" height="28" fill="#716d07" opacity="0.35"/>
<rect x="957" y="425" width="3" height="42" fill="#994305" opacity="0.43"/>
<rect x="931" y="504" width="2" height="63" fill="#716d07" opacity="0.29"/>
<rect x="969" y="392" width="3" height="35" fill="#716d07" opacity="0.39"/>
<rect x="944" y="557" width="1" height="53" fill="#8c5306" opacity="0.22"/>
<rect x="903" y="462" width="2" height="21" fill="#716d07" opacity="0.39"/>
<rect x="924" y="442" width="2" height="30" fill="#994305" opacity="0.43"/>
<rect x="914" y="552" width="2" height="67" fill="#4d7905" opacity="0.42"/>
<rect x="935" y="387" width="1" height="35" fill="#5f7306" opacity="0.39"/>
<rect x="927" y="480" width="3" height="41" fill="#806207" opacity="0.45"/>
<rect x="964" y="554" width="3" height="57" fill="#716d07" opacity="0.35"/>
<rect x="911" y="538" width="3" height="56" fill="#806207" opacity="0.34"/>
<rect x="954" y="544" width="2" height="43" fill="#806207" opacity="0.42"/>
<rect x="901" y="526" width="3" height="24" fill="#5f7306" opacity="0.33"/>
<rect x="960" y="530" width="1" height="44" fill="#5f7306" opacity="0.27"/>
<rect x="927" y="547" width="2" height="47" fill="#8c5306" opacity="0.41"/>
<rect x="908" y="442" width="3" height="20" fill="#4d7905" opacity="0.39"/>
<rect x="956" y="490" width="1" height="69" fill="#5f7306" opacity="0.24"/>
<rect x="916" y="413" width="3" height="70" fill="#5f7306" opacity="0.29"/>
<rect x="947" y="475" width="2" height="61" fill="#4d7905" opacity="0.28"/>
<rect x="900" y="418" width="2" height="69" fill="#4d7905" opacity="0.31"/>
<rect x="966" y="424" width="2" height="22" fill="#4d7905" opacity="0.30"/>
<rect x="916" y="557" width="1" height="39" fill="#5f7306" opacity="0.23"/>
<rect x="938" y="472" width="1" height="63" fill="#4d7905" opacity="0.37"/>
<rect x="902" y="387" width="2" height="26" fill="#994305" opacity="0.34"/>
<rect x="928" y="431" width="2" height="27" fill="#4d7905" opacity="0.31"/>
<rect x="970" y="465" width="3" height="68" fill="#5f7306" opacity="0.41"/>
<rect x="915" y="423" width="2" height="35" fill="#4d7905" opacity="0.20"/>
<rect x="969" y="531" width="1" height="26" fill="#716d07" opacity="0.38"/>
<rect x="945" y="541" width="2" height="28" fill="#5f7306" opacity="0.34"/>
<rect x="926" y="536" width="2" height="44" fill="#4d7905" opacity="0.26"/>
<rect x="923" y="459" width="2" height="38" fill="#716d07" opacity="0.20"/>
<rect x="959" y="520" width="1" height="45" fill="#4d7905" opacity="0.26"/>
<rect x="963" y="467" width="3" height="30" fill="#716d07" opacity="0.23"/>
<rect x="935" y="487" width="2" height="26" fill="#716d07" opacity="0.35"/>
<rect x="947" y="499" width="3" height="51" fill="#994305" opacity="0.22"/>
<rect x="901" y="539" width="2" height="63" fill="#5f7306" opacity="0.42"/>
<rect x="908" y="464" width="3" height="26" fill="#806207" opacity="0.43"/>
<rect x="918" y="489" width="2" height="54" fill="#806207" opacity="0.30"/>
<rect x="907" y="531" width="2" height="29" fill="#806207" opacity="0.24"/>
<rect x="946" y="407" width="2" height="59" fill="#8c5306" opacity="0.33"/>
<rect x="912" y="426" width="1" height="27" fill="#8c5306" opacity="0.29"/>
<rect x="962" y="505" width="2" height="24" fill="#5f7306" opacity="0.35"/>
<rect x="937" y="385" width="1" height="25" fill="#5f7306" opacity="0.39"/>
<rect x="917" y="492" width="2" height="46" fill="#806207" opacity="0.44"/>
<rect x="928" y="460" width="2" height="47" fill="#4d7905" opacity="0.33"/>
<rect x="950" y="501" width="2" height="68" fill="#716d07" opacity="0.25"/>
<rect x="940" y="464" width="3" height="32" fill="#716d07" opacity="0.38"/>
<rect x="905" y="529" width="2" height="41" fill="#4d7905" opacity="0.28"/>
<rect x="968" y="463" width="3" height="57" fill="#4d7905" opacity="0.44"/>
<rect x="931" y="448" width="3" height="21" fill="#716d07" opacity="0.33"/>
<rect x="922" y="400" width="1" height="44" fill="#716d07" opacity="0.31"/>
<rect x="968" y="471" width="2" height="34" fill="#8c5306" opacity="0.35"/>
<rect x="932" y="499" width="2" height="24" fill="#806207" opacity="0.24"/>
<rect x="955" y="441" width="1" height="41" fill="#716d07" opacity="0.23"/>
<rect x="914" y="450" width="3" height="40" fill="#716d07" opacity="0.44"/>
<rect x="931" y="489" width="2" height="68" fill="#806207" opacity="0.37"/>
<rect x="950" y="407" width="1" height="70" fill="#4d7905" opacity="0.28"/>
<rect x="929" y="473" width="2" height="39" fill="#716d07" opacity="0.27"/>
<rect x="963" y="422" width="3" height="34" fill="#4d7905" opacity="0.45"/>
<rect x="908" y="420" width="1" height="60" fill="#8c5306" opacity="0.33"/>
<rect x="948" y="429" width="1" height="24" fill="#806207" opacity="0.32"/>
<rect x="916" y="395" width="2" height="64" fill="#806207" opacity="0.41"/>
<rect x="964" y="404" width="2" height="62" fill="#994305" opacity="0.32"/>
<rect x="942" y="423" width="1" height="33" fill="#5f7306" opacity="0.30"/>
<rect x="912" y="436" width="2" height="17" fill="#716d07" opacity="0.39"/>
<rect x="885" y="328" width="2" height="36" fill="#8c5306" opacity="0.33"/>
<rect x="889" y="466" width="2" height="39" fill="#0e8f01" opacity="0.20"/>
<rect x="804" y="446" width="2" height="20" fill="#5f7306" opacity="0.38"/>
<rect x="967" y="331" width="3" height="22" fill="#806207" opacity="0.25"/>
<rect x="916" y="465" width="2" height="14" fill="#0e8f01" opacity="0.23"/>
<rect x="826" y="372" width="2" height="21" fill="#806207" opacity="0.23"/>
<rect x="960" y="384" width="3" height="33" fill="#716d07" opacity="0.21"/>
<rect x="777" y="479" width="1" height="15" fill="#8c5306" opacity="0.25"/>
<rect x="828" y="424" width="2" height="33" fill="#716d07" opacity="0.34"/>
<rect x="767" y="403" width="1" height="26" fill="#0e8f01" opacity="0.32"/>
<rect x="854" y="372" width="1" height="35" fill="#716d07" opacity="0.28"/>
<rect x="831" y="358" width="1" height="28" fill="#4d7905" opacity="0.37"/>
<rect x="786" y="447" width="3" height="33" fill="#8c5306" opacity="0.32"/>
<rect x="785" y="355" width="2" height="14" fill="#5f7306" opacity="0.39"/>
<rect x="776" y="348" width="2" height="27" fill="#716d07" opacity="0.22"/>
<rect x="831" y="358" width="1" height="39" fill="#806207" opacity="0.32"/>
<rect x="889" y="443" width="1" height="26" fill="#716d07" opacity="0.24"/>
<rect x="897" y="333" width="2" height="13" fill="#009400" opacity="0.31"/>
<rect x="835" y="474" width="2" height="27" fill="#716d07" opacity="0.31"/>
<rect x="940" y="379" width="3" height="23" fill="#009400" opacity="0.24"/>
<rect x="882" y="371" width="2" height="24" fill="#5f7306" opacity="0.37"/>
<rect x="815" y="405" width="3" height="25" fill="#716d07" opacity="0.26"/>
<rect x="814" y="402" width="2" height="26" fill="#009400" opacity="0.35"/>
<rect x="865" y="377" width="2" height="18" fill="#4d7905" opacity="0.25"/>
<rect x="775" y="421" width="2" height="11" fill="#4d7905" opacity="0.32"/>
<rect x="815" y="368" width="2" height="21" fill="#716d07" opacity="0.34"/>
<rect x="883" y="337" width="2" height="17" fill="#5f7306" opacity="0.26"/>
<rect x="896" y="398" width="3" height="25" fill="#0e8f01" opacity="0.20"/>
<rect x="834" y="325" width="3" height="12" fill="#009400" opacity="0.20"/>
<rect x="834" y="352" width="3" height="29" fill="#4d7905" opacity="0.39"/>
<rect x="920" y="334" width="3" height="11" fill="#716d07" opacity="0.33"/>
<rect x="865" y="326" width="1" height="24" fill="#806207" opacity="0.21"/>
<rect x="786" y="465" width="2" height="26" fill="#8c5306" opacity="0.34"/>
<rect x="954" y="458" width="1" height="29" fill="#994305" opacity="0.29"/>
<rect x="930" y="375" width="2" height="14" fill="#5f7306" opacity="0.22"/>
<rect x="957" y="455" width="3" height="33" fill="#716d07" opacity="0.32"/>
<rect x="829" y="440" width="3" height="37" fill="#5f7306" opacity="0.38"/>
<rect x="938" y="355" width="1" height="14" fill="#716d07" opacity="0.36"/>
<rect x="882" y="381" width="1" height="21" fill="#4d7905" opacity="0.34"/>
<rect x="796" y="477" width="2" height="26" fill="#0e8f01" opacity="0.31"/>
<rect x="814" y="368" width="2" height="17" fill="#009400" opacity="0.26"/>
<rect x="873" y="346" width="2" height="19" fill="#009400" opacity="0.21"/>
<rect x="817" y="475" width="2" height="18" fill="#716d07" opacity="0.22"/>
<rect x="862" y="459" width="1" height="33" fill="#009400" opacity="0.30"/>
<rect x="900" y="403" width="3" height="15" fill="#806207" opacity="0.33"/>
<rect x="821" y="338" width="3" height="35" fill="#0e8f01" opacity="0.23"/>
<rect x="959" y="425" width="3" height="30" fill="#5f7306" opacity="0.25"/>
<rect x="867" y="332" width="3" height="21" fill="#8c5306" opacity="0.26"/>
<rect x="929" y="424" width="2" height="28" fill="#994305" opacity="0.37"/>
<rect x="874" y="441" width="2" height="35" fill="#5f7306" opacity="0.28"/>
<rect x="836" y="332" width="2" height="36" fill="#0e8f01" opacity="0.29"/>
<rect x="867" y="392" width="1" height="12" fill="#806207" opacity="0.31"/>
<rect x="864" y="361" width="1" height="17" fill="#4d7905" opacity="0.20"/>
<rect x="891" y="432" width="2" height="20" fill="#716d07" opacity="0.22"/>
<rect x="821" y="406" width="3" height="14" fill="#8c5306" opacity="0.27"/>
<rect x="818" y="469" width="2" height="12" fill="#716d07" opacity="0.34"/>
<rect x="905" y="354" width="2" height="40" fill="#4d7905" opacity="0.31"/>
<rect x="942" y="463" width="1" height="20" fill="#009407" opacity="0.33"/>
<rect x="898" y="332" width="2" height="12" fill="#009407" opacity="0.29"/>
</g>
<rect x="957" y="644" width="1" height="6" fill="#a8500c" opacity="0.78"/>
<rect x="845" y="643" width="1" height="7" fill="#c03008" opacity="0.97"/>
<rect x="834" y="652" width="2" height="7" fill="#c03008" opacity="0.93"/>
<rect x="523" y="651" width="1" height="6" fill="#a8500c" opacity="0.74"/>
<rect x="748" y="641" width="2" height="5" fill="#d01808" opacity="0.79"/>
<rect x="574" y="662" width="1" height="4" fill="#c03008" opacity="0.82"/>
<rect x="701" y="650" width="1" height="8" fill="#a8500c" opacity="1.00"/>
<rect x="589" y="652" width="1" height="3" fill="#a8500c" opacity="0.52"/>
<rect x="686" y="660" width="2" height="7" fill="#d01808" opacity="0.99"/>
<rect x="754" y="659" width="1" height="5" fill="#a8500c" opacity="0.72"/>
<rect x="691" y="649" width="1" height="5" fill="#d01808" opacity="0.98"/>
<rect x="581" y="643" width="1" height="5" fill="#c03008" opacity="0.86"/>
<rect x="509" y="655" width="1" height="4" fill="#a8500c" opacity="0.61"/>
<rect x="748" y="643" width="1" height="7" fill="#a8500c" opacity="0.82"/>
<rect x="649" y="645" width="1" height="6" fill="#a8500c" opacity="0.71"/>
<rect x="632" y="651" width="2" height="4" fill="#c03008" opacity="0.94"/>
<rect x="852" y="645" width="1" height="7" fill="#c03008" opacity="0.73"/>
<rect x="826" y="656" width="1" height="7" fill="#d01808" opacity="0.84"/>
<rect x="696" y="653" width="1" height="6" fill="#d01808" opacity="0.92"/>
<rect x="718" y="661" width="1" height="3" fill="#d01808" opacity="0.70"/>
<rect x="520" y="660" width="2" height="4" fill="#a8500c" opacity="0.51"/>
<rect x="904" y="641" width="1" height="7" fill="#a8500c" opacity="0.98"/>
<rect x="910" y="661" width="1" height="7" fill="#c03008" opacity="0.60"/>
<rect x="670" y="646" width="1" height="4" fill="#a8500c" opacity="0.57"/>
<rect x="769" y="655" width="1" height="5" fill="#d01808" opacity="0.64"/>
<rect x="696" y="653" width="2" height="7" fill="#a8500c" opacity="0.52"/>
<rect x="526" y="658" width="1" height="3" fill="#d01808" opacity="0.54"/>
<rect x="724" y="652" width="1" height="7" fill="#a8500c" opacity="0.59"/>
<rect x="637" y="658" width="2" height="3" fill="#c03008" opacity="0.52"/>
<rect x="529" y="656" width="1" height="5" fill="#a8500c" opacity="0.66"/>
<rect x="961" y="655" width="2" height="2" fill="#d01808" opacity="0.69"/>
<rect x="831" y="659" width="1" height="2" fill="#a8500c" opacity="0.97"/>
<rect x="516" y="655" width="1" height="5" fill="#c03008" opacity="0.99"/>
<rect x="733" y="649" width="1" height="7" fill="#d01808" opacity="1.00"/>
<rect x="807" y="651" width="1" height="2" fill="#d01808" opacity="0.61"/>
<rect x="944" y="642" width="1" height="3" fill="#a8500c" opacity="0.61"/>
<rect x="827" y="644" width="2" height="6" fill="#d01808" opacity="0.86"/>
<rect x="946" y="646" width="1" height="6" fill="#a8500c" opacity="0.95"/>
<rect x="886" y="657" width="1" height="6" fill="#a8500c" opacity="0.95"/>
<rect x="955" y="661" width="1" height="4" fill="#a8500c" opacity="0.92"/>
<rect x="875" y="650" width="1" height="4" fill="#c03008" opacity="0.52"/>
<rect x="496" y="650" width="1" height="3" fill="#d01808" opacity="0.52"/>
<rect x="773" y="642" width="2" height="4" fill="#a8500c" opacity="0.89"/>
<rect x="502" y="648" width="1" height="6" fill="#a8500c" opacity="0.73"/>
<rect x="688" y="655" width="2" height="3" fill="#a8500c" opacity="0.96"/>
<rect x="855" y="652" width="1" height="4" fill="#d01808" opacity="0.76"/>
<rect x="852" y="655" width="1" height="6" fill="#a8500c" opacity="0.90"/>
<rect x="720" y="659" width="1" height="3" fill="#c03008" opacity="0.72"/>
<rect x="635" y="659" width="1" height="4" fill="#a8500c" opacity="0.61"/>
<rect x="722" y="656" width="2" height="4" fill="#a8500c" opacity="0.89"/>
<rect x="593" y="648" width="1" height="7" fill="#c03008" opacity="0.60"/>
<rect x="521" y="645" width="1" height="3" fill="#c03008" opacity="0.52"/>
<rect x="620" y="651" width="1" height="3" fill="#c03008" opacity="0.95"/>
<rect x="703" y="645" width="1" height="6" fill="#d01808" opacity="0.82"/>
<rect x="533" y="652" width="2" height="4" fill="#c03008" opacity="0.95"/>
<rect x="781" y="644" width="2" height="3" fill="#c03008" opacity="0.53"/>
<rect x="690" y="646" width="2" height="5" fill="#d01808" opacity="0.88"/>
<rect x="623" y="654" width="1" height="4" fill="#d01808" opacity="0.77"/>
<rect x="810" y="644" width="1" height="7" fill="#d01808" opacity="0.66"/>
<rect x="898" y="662" width="2" height="4" fill="#d01808" opacity="0.90"/>
<rect x="552" y="642" width="1" height="6" fill="#c03008" opacity="0.60"/>
<rect x="617" y="655" width="1" height="3" fill="#d01808" opacity="0.75"/>
<rect x="552" y="650" width="2" height="3" fill="#d01808" opacity="0.59"/>
<rect x="930" y="660" width="2" height="5" fill="#c03008" opacity="0.58"/>
<rect x="644" y="645" width="2" height="3" fill="#d01808" opacity="0.66"/>
<rect x="858" y="653" width="1" height="7" fill="#a8500c" opacity="0.92"/>
<rect x="734" y="654" width="2" height="3" fill="#a8500c" opacity="0.80"/>
<rect x="949" y="646" width="1" height="3" fill="#c03008" opacity="0.82"/>
<rect x="752" y="656" width="1" height="4" fill="#a8500c" opacity="0.78"/>
<rect x="861" y="662" width="2" height="3" fill="#a8500c" opacity="0.74"/>
<rect x="568" y="650" width="2" height="6" fill="#d01808" opacity="0.87"/>
<rect x="619" y="652" width="2" height="2" fill="#d01808" opacity="0.85"/>
<rect x="951" y="650" width="2" height="7" fill="#a8500c" opacity="0.54"/>
<rect x="883" y="659" width="2" height="4" fill="#d01808" opacity="0.93"/>
<rect x="913" y="642" width="1" height="7" fill="#d01808" opacity="0.90"/>
<rect x="820" y="650" width="1" height="7" fill="#c03008" opacity="0.87"/>
<rect x="812" y="649" width="2" height="5" fill="#c03008" opacity="0.98"/>
<rect x="728" y="643" width="1" height="4" fill="#d01808" opacity="0.76"/>
<rect x="765" y="655" width="1" height="2" fill="#a8500c" opacity="0.98"/>
<rect x="589" y="650" width="1" height="2" fill="#a8500c" opacity="0.91"/>
<rect x="506" y="658" width="1" height="7" fill="#a8500c" opacity="0.76"/>
<rect x="699" y="652" width="2" height="6" fill="#a8500c" opacity="0.84"/>
<rect x="543" y="640" width="1" height="4" fill="#d01808" opacity="0.91"/>
<rect x="610" y="661" width="1" height="6" fill="#a8500c" opacity="0.92"/>
<rect x="923" y="656" width="1" height="2" fill="#c03008" opacity="0.85"/>
<rect x="653" y="643" width="2" height="4" fill="#a8500c" opacity="0.78"/>
<rect x="555" y="645" width="1" height="5" fill="#d01808" opacity="0.56"/>
<rect x="810" y="646" width="1" height="6" fill="#a8500c" opacity="0.88"/>
<rect x="766" y="641" width="2" height="5" fill="#a8500c" opacity="0.65"/>
<rect x="970" y="654" width="2" height="7" fill="#d01808" opacity="0.59"/>
<rect x="965" y="656" width="1" height="5" fill="#a8500c" opacity="0.80"/>
<rect x="867" y="657" width="1" height="6" fill="#d01808" opacity="0.74"/>
<rect x="619" y="653" width="1" height="4" fill="#c03008" opacity="0.77"/>
<rect x="772" y="660" width="1" height="4" fill="#c03008" opacity="0.82"/>
<rect x="749" y="641" width="2" height="3" fill="#a8500c" opacity="0.51"/>
<rect x="898" y="652" width="1" height="4" fill="#a8500c" opacity="0.75"/>
<rect x="895" y="645" width="2" height="8" fill="#a8500c" opacity="0.92"/>
<rect x="761" y="657" width="2" height="7" fill="#a8500c" opacity="0.96"/>
<rect x="556" y="655" width="2" height="7" fill="#d01808" opacity="0.80"/>
<rect x="726" y="645" width="1" height="6" fill="#a8500c" opacity="0.54"/>
<rect x="512" y="661" width="2" height="3" fill="#d01808" opacity="0.79"/>
<rect x="694" y="657" width="1" height="7" fill="#a8500c" opacity="0.62"/>
<rect x="719" y="645" width="2" height="7" fill="#c03008" opacity="0.53"/>
<rect x="915" y="657" width="2" height="5" fill="#a8500c" opacity="0.87"/>
<rect x="755" y="646" width="1" height="3" fill="#a8500c" opacity="0.50"/>
<rect x="740" y="659" width="1" height="6" fill="#d01808" opacity="0.73"/>
<rect x="735" y="655" width="2" height="7" fill="#d01808" opacity="0.89"/>
<rect x="816" y="643" width="1" height="4" fill="#a8500c" opacity="0.68"/>
<rect x="726" y="646" width="2" height="8" fill="#a8500c" opacity="0.69"/>
<rect x="826" y="660" width="2" height="3" fill="#a8500c" opacity="0.98"/>
<rect x="546" y="656" width="1" height="12" fill="#d01808" opacity="0.79"/>
<rect x="580" y="640" width="2" height="8" fill="#b8400c" opacity="0.96"/>
<rect x="627" y="652" width="1" height="6" fill="#d01808" opacity="0.60"/>
<rect x="520" y="637" width="1" height="6" fill="#b8400c" opacity="0.65"/>
<rect x="588" y="639" width="2" height="6" fill="#d01808" opacity="0.73"/>
<rect x="494" y="654" width="1" height="12" fill="#b8400c" opacity="0.70"/>
<rect x="551" y="625" width="1" height="13" fill="#d01808" opacity="0.62"/>
<rect x="532" y="640" width="1" height="14" fill="#d01808" opacity="0.91"/>
<rect x="524" y="653" width="1" height="14" fill="#d01808" opacity="0.70"/>
<rect x="501" y="655" width="1" height="11" fill="#d01808" opacity="0.94"/>
<rect x="496" y="660" width="1" height="5" fill="#d01808" opacity="0.66"/>
<rect x="511" y="638" width="1" height="12" fill="#d01808" opacity="0.82"/>
<rect x="610" y="637" width="1" height="4" fill="#d01808" opacity="0.80"/>
<rect x="605" y="632" width="1" height="7" fill="#d01808" opacity="0.66"/>
<rect x="599" y="626" width="1" height="9" fill="#d01808" opacity="0.91"/>
<rect x="598" y="649" width="1" height="6" fill="#b8400c" opacity="0.86"/>
<rect x="594" y="625" width="2" height="12" fill="#b8400c" opacity="0.95"/>
<rect x="509" y="640" width="2" height="14" fill="#b8400c" opacity="0.91"/>
<rect x="563" y="626" width="1" height="9" fill="#d01808" opacity="0.73"/>
<rect x="549" y="633" width="2" height="7" fill="#d01808" opacity="0.95"/>
<rect x="558" y="655" width="2" height="5" fill="#d01808" opacity="0.90"/>
<rect x="607" y="639" width="2" height="6" fill="#b8400c" opacity="0.86"/>
<rect x="542" y="629" width="1" height="10" fill="#b8400c" opacity="0.87"/>
<rect x="603" y="645" width="1" height="12" fill="#d01808" opacity="0.83"/>
<rect x="580" y="632" width="2" height="5" fill="#b8400c" opacity="0.97"/>
<rect x="640" y="636" width="1" height="8" fill="#b8400c" opacity="0.91"/>
<rect x="492" y="647" width="1" height="9" fill="#b8400c" opacity="0.77"/>
<rect x="590" y="655" width="2" height="5" fill="#d01808" opacity="0.85"/>
<rect x="603" y="644" width="1" height="9" fill="#d01808" opacity="0.69"/>
<rect x="553" y="650" width="2" height="13" fill="#d01808" opacity="0.98"/>
<rect x="554" y="648" width="1" height="4" fill="#d01808" opacity="0.61"/>
<rect x="510" y="653" width="1" height="5" fill="#b8400c" opacity="0.81"/>
<rect x="495" y="629" width="1" height="11" fill="#d01808" opacity="0.64"/>
<rect x="562" y="638" width="1" height="14" fill="#d01808" opacity="0.63"/>
<rect x="578" y="644" width="1" height="4" fill="#d01808" opacity="0.70"/>
<rect x="567" y="658" width="1" height="7" fill="#b8400c" opacity="0.70"/>
<rect x="555" y="643" width="2" height="8" fill="#b8400c" opacity="0.64"/>
<rect x="553" y="660" width="2" height="8" fill="#b8400c" opacity="0.92"/>
<rect x="600" y="638" width="1" height="11" fill="#d01808" opacity="0.85"/>
<rect x="492" y="632" width="1" height="6" fill="#d01808" opacity="0.61"/>
<rect x="621" y="628" width="2" height="14" fill="#d01808" opacity="0.98"/>
<rect x="557" y="655" width="2" height="4" fill="#b8400c" opacity="0.91"/>
<rect x="512" y="628" width="2" height="9" fill="#b8400c" opacity="0.67"/>
<rect x="575" y="659" width="1" height="7" fill="#b8400c" opacity="0.98"/>
<rect x="632" y="647" width="2" height="6" fill="#b8400c" opacity="0.91"/>
<rect x="629" y="642" width="1" height="9" fill="#b8400c" opacity="0.80"/>
<rect x="491" y="656" width="1" height="6" fill="#b8400c" opacity="0.85"/>
<rect x="541" y="640" width="2" height="9" fill="#b8400c" opacity="0.77"/>
<rect x="569" y="630" width="1" height="12" fill="#d01808" opacity="0.98"/>
<rect x="607" y="637" width="1" height="12" fill="#b8400c" opacity="0.88"/>
<rect x="572" y="630" width="1" height="9" fill="#d01808" opacity="0.67"/>
<rect x="637" y="638" width="1" height="5" fill="#b8400c" opacity="0.62"/>
<rect x="581" y="633" width="2" height="6" fill="#b8400c" opacity="0.97"/>
<rect x="492" y="650" width="1" height="10" fill="#b8400c" opacity="0.73"/>
<rect x="595" y="639" width="1" height="9" fill="#b8400c" opacity="0.88"/>
<rect x="517" y="633" width="1" height="7" fill="#b8400c" opacity="0.99"/>
<rect x="624" y="640" width="2" height="12" fill="#b8400c" opacity="0.65"/>
<rect x="585" y="646" width="2" height="11" fill="#b8400c" opacity="0.63"/>
<rect x="595" y="637" width="2" height="10" fill="#d01808" opacity="0.77"/>
<rect x="531" y="638" width="1" height="6" fill="#b8400c" opacity="0.73"/>
<rect x="944" y="636" width="1" height="5" fill="#0a9a6a" opacity="0.54"/>
<rect x="849" y="659" width="1" height="12" fill="#0a9a6a" opacity="0.67"/>
<rect x="667" y="647" width="2" height="7" fill="#08945a" opacity="0.54"/>
<rect x="650" y="654" width="1" height="12" fill="#08945a" opacity="0.88"/>
<rect x="962" y="641" width="1" height="5" fill="#0a9a6a" opacity="0.75"/>
<rect x="820" y="649" width="2" height="10" fill="#08945a" opacity="0.63"/>
<rect x="847" y="661" width="1" height="3" fill="#08945a" opacity="0.56"/>
<rect x="876" y="647" width="2" height="11" fill="#0a9a6a" opacity="0.88"/>
<rect x="814" y="651" width="1" height="12" fill="#0a9a6a" opacity="0.54"/>
<rect x="941" y="637" width="1" height="11" fill="#08945a" opacity="0.80"/>
<rect x="820" y="641" width="2" height="4" fill="#0a9a6a" opacity="0.68"/>
<rect x="646" y="650" width="1" height="5" fill="#0a9a6a" opacity="0.85"/>
<rect x="829" y="655" width="1" height="10" fill="#0a9a6a" opacity="0.68"/>
<rect x="760" y="645" width="1" height="10" fill="#0a9a6a" opacity="0.81"/>
<rect x="847" y="640" width="1" height="5" fill="#08945a" opacity="0.63"/>
<rect x="968" y="654" width="2" height="6" fill="#08945a" opacity="0.70"/>
<rect x="648" y="661" width="2" height="9" fill="#08945a" opacity="0.71"/>
<rect x="709" y="637" width="2" height="9" fill="#08945a" opacity="0.66"/>
<rect x="917" y="635" width="1" height="4" fill="#08945a" opacity="0.72"/>
<rect x="794" y="641" width="1" height="8" fill="#0a9a6a" opacity="0.51"/>
<rect x="956" y="659" width="2" height="4" fill="#0a9a6a" opacity="0.72"/>
<rect x="911" y="652" width="2" height="11" fill="#0a9a6a" opacity="0.55"/>
<rect x="904" y="644" width="2" height="11" fill="#0a9a6a" opacity="0.52"/>
<rect x="682" y="652" width="2" height="6" fill="#08945a" opacity="0.79"/>
<rect x="727" y="651" width="1" height="10" fill="#0a9a6a" opacity="0.77"/>
<rect x="934" y="645" width="1" height="8" fill="#0a9a6a" opacity="0.84"/>
<rect x="700" y="643" width="2" height="7" fill="#0a9a6a" opacity="0.56"/>
<rect x="962" y="649" width="1" height="10" fill="#08945a" opacity="0.61"/>
<rect x="836" y="657" width="1" height="6" fill="#0a9a6a" opacity="0.63"/>
<rect x="626" y="654" width="1" height="11" fill="#08945a" opacity="0.59"/>
<rect x="650" y="660" width="1" height="6" fill="#08945a" opacity="0.80"/>
<rect x="830" y="637" width="1" height="9" fill="#0a9a6a" opacity="0.87"/>
<rect x="730" y="658" width="2" height="5" fill="#08945a" opacity="0.70"/>
<rect x="661" y="651" width="1" height="9" fill="#08945a" opacity="0.59"/>
<rect x="856" y="652" width="1" height="3" fill="#0a9a6a" opacity="0.87"/>
<rect x="705" y="643" width="1" height="8" fill="#08945a" opacity="0.89"/>
<rect x="648" y="641" width="1" height="5" fill="#0a9a6a" opacity="0.73"/>
<rect x="795" y="662" width="1" height="9" fill="#08945a" opacity="0.67"/>
<rect x="779" y="639" width="1" height="5" fill="#08945a" opacity="0.67"/>
<rect x="838" y="639" width="1" height="8" fill="#0a9a6a" opacity="0.56"/>
<rect x="661" y="659" width="1" height="9" fill="#0a9a6a" opacity="0.51"/>
<rect x="873" y="656" width="1" height="6" fill="#0a9a6a" opacity="0.79"/>
<rect x="969" y="652" width="1" height="6" fill="#08945a" opacity="0.82"/>
<rect x="958" y="645" width="2" height="5" fill="#0a9a6a" opacity="0.74"/>
<rect x="774" y="657" width="1" height="4" fill="#08945a" opacity="0.84"/>
<rect x="748" y="646" width="1" height="10" fill="#0a9a6a" opacity="0.78"/>
<rect x="906" y="660" width="2" height="12" fill="#0a9a6a" opacity="0.57"/>
<rect x="727" y="643" width="1" height="10" fill="#08945a" opacity="0.62"/>
<rect x="945" y="635" width="1" height="6" fill="#0a9a6a" opacity="0.70"/>
<rect x="634" y="657" width="1" height="10" fill="#08945a" opacity="0.82"/>
<rect x="783" y="648" width="2" height="7" fill="#0a9a6a" opacity="0.63"/>
<rect x="887" y="645" width="1" height="9" fill="#08945a" opacity="0.86"/>
<rect x="948" y="656" width="1" height="6" fill="#0a9a6a" opacity="0.86"/>
<rect x="811" y="655" width="2" height="6" fill="#08945a" opacity="0.87"/>
<rect x="894" y="641" width="1" height="6" fill="#08945a" opacity="0.80"/>
<rect x="756" y="638" width="1" height="11" fill="#08945a" opacity="0.74"/>
<rect x="771" y="661" width="1" height="10" fill="#0a9a6a" opacity="0.89"/>
<rect x="832" y="661" width="1" height="11" fill="#08945a" opacity="0.81"/>
<rect x="741" y="651" width="2" height="8" fill="#0a9a6a" opacity="0.62"/>
<rect x="851" y="645" width="1" height="10" fill="#08945a" opacity="0.61"/>
<rect x="602" y="659" width="2" height="8" fill="#08945a" opacity="0.83"/>
<rect x="929" y="645" width="1" height="12" fill="#0a9a6a" opacity="0.79"/>
<rect x="908" y="645" width="1" height="7" fill="#0a9a6a" opacity="0.56"/>
<rect x="676" y="653" width="1" height="5" fill="#0a9a6a" opacity="0.88"/>
<rect x="650" y="657" width="1" height="11" fill="#0a9a6a" opacity="0.55"/>
<rect x="796" y="649" width="2" height="10" fill="#08945a" opacity="0.89"/>
<rect x="880" y="654" width="1" height="6" fill="#08945a" opacity="0.63"/>
<rect x="697" y="655" width="2" height="6" fill="#08945a" opacity="0.80"/>
<rect x="739" y="636" width="2" height="11" fill="#0a9a6a" opacity="0.77"/>
<rect x="803" y="659" width="1" height="3" fill="#0a9a6a" opacity="0.64"/>
<rect x="688" y="646" width="2" height="5" fill="#08945a" opacity="0.66"/>
<rect x="812" y="657" width="1" height="4" fill="#0a9a6a" opacity="0.58"/>
<rect x="639" y="656" width="1" height="6" fill="#08945a" opacity="0.68"/>
<rect x="624" y="637" width="2" height="6" fill="#08945a" opacity="0.62"/>
<rect x="757" y="648" width="1" height="4" fill="#0a9a6a" opacity="0.77"/>
<rect x="624" y="660" width="1" height="9" fill="#0a9a6a" opacity="0.66"/>
<rect x="621" y="637" width="1" height="6" fill="#0a9a6a" opacity="0.73"/>
<rect x="789" y="653" width="1" height="7" fill="#0a9a6a" opacity="0.86"/>
<rect x="808" y="649" width="1" height="6" fill="#0a9a6a" opacity="0.85"/>
<rect x="934" y="637" width="2" height="11" fill="#08945a" opacity="0.76"/>
<rect x="682" y="638" width="1" height="8" fill="#08945a" opacity="0.75"/>
<rect x="838" y="641" width="1" height="9" fill="#0a9a6a" opacity="0.59"/>
<rect x="712" y="644" width="1" height="11" fill="#0a9a6a" opacity="0.87"/>
<rect x="867" y="655" width="1" height="9" fill="#08945a" opacity="0.81"/>
<rect x="795" y="656" width="2" height="9" fill="#0a9a6a" opacity="0.73"/>
<rect x="670" y="652" width="2" height="7" fill="#0a9a6a" opacity="0.80"/>
<rect x="697" y="642" width="1" height="8" fill="#08945a" opacity="0.70"/>
<rect x="734" y="637" width="1" height="8" fill="#08945a" opacity="0.74"/>
<rect x="956" y="661" width="1" height="10" fill="#0a9a6a" opacity="0.89"/>
<rect x="638" y="651" width="2" height="5" fill="#08945a" opacity="0.68"/>
</g>
<g clip-path="url(#clS)" shape-rendering="crispEdges">
<rect x="790" y="310" width="181" height="80" fill="url(#smg)"/>
</g>
<g clip-path="url(#clUL)" shape-rendering="crispEdges">
<rect x="169" y="215" width="160" height="150" fill="url(#ulg)"/>
<rect x="301" y="275" width="2" height="52" fill="#0e8f01" opacity="0.28"/>
<rect x="257" y="265" width="2" height="16" fill="#0e8f01" opacity="0.35"/>
<rect x="184" y="226" width="1" height="42" fill="#8c5306" opacity="0.31"/>
<rect x="316" y="220" width="2" height="30" fill="#009400" opacity="0.20"/>
<rect x="174" y="227" width="2" height="23" fill="#0e8f01" opacity="0.24"/>
<rect x="251" y="288" width="2" height="49" fill="#716d07" opacity="0.36"/>
<rect x="170" y="287" width="3" height="58" fill="#806207" opacity="0.18"/>
<rect x="252" y="299" width="1" height="43" fill="#806207" opacity="0.31"/>
<rect x="291" y="256" width="2" height="55" fill="#009407" opacity="0.38"/>
<rect x="313" y="287" width="3" height="35" fill="#806207" opacity="0.24"/>
<rect x="210" y="218" width="2" height="24" fill="#806207" opacity="0.23"/>
<rect x="226" y="298" width="3" height="46" fill="#009407" opacity="0.18"/>
<rect x="228" y="240" width="3" height="58" fill="#009407" opacity="0.22"/>
<rect x="177" y="291" width="2" height="18" fill="#5f7306" opacity="0.22"/>
<rect x="303" y="251" width="2" height="59" fill="#716d07" opacity="0.38"/>
<rect x="230" y="274" width="1" height="48" fill="#009400" opacity="0.34"/>
<rect x="200" y="223" width="1" height="18" fill="#4d7905" opacity="0.36"/>
<rect x="236" y="300" width="3" height="48" fill="#5f7306" opacity="0.20"/>
<rect x="238" y="267" width="2" height="54" fill="#5f7306" opacity="0.16"/>
<rect x="276" y="273" width="2" height="44" fill="#994305" opacity="0.18"/>
<rect x="321" y="272" width="2" height="19" fill="#716d07" opacity="0.23"/>
<rect x="320" y="239" width="3" height="37" fill="#5f7306" opacity="0.23"/>
<rect x="313" y="276" width="2" height="41" fill="#8c5306" opacity="0.34"/>
<rect x="257" y="219" width="3" height="25" fill="#716d07" opacity="0.19"/>
<rect x="325" y="229" width="3" height="16" fill="#716d07" opacity="0.26"/>
<rect x="255" y="299" width="1" height="57" fill="#5f7306" opacity="0.33"/>
<rect x="285" y="246" width="3" height="49" fill="#716d07" opacity="0.19"/>
<rect x="315" y="300" width="2" height="45" fill="#0e8f01" opacity="0.32"/>
<rect x="255" y="251" width="2" height="44" fill="#009400" opacity="0.33"/>
<rect x="228" y="229" width="2" height="36" fill="#009407" opacity="0.27"/>
<rect x="185" y="277" width="1" height="25" fill="#806207" opacity="0.31"/>
<rect x="273" y="232" width="3" height="43" fill="#806207" opacity="0.30"/>
<rect x="233" y="289" width="2" height="46" fill="#009400" opacity="0.37"/>
<rect x="178" y="256" width="3" height="38" fill="#5f7306" opacity="0.38"/>
<rect x="269" y="281" width="3" height="47" fill="#0e8f01" opacity="0.27"/>
<rect x="237" y="291" width="2" height="33" fill="#8c5306" opacity="0.35"/>
<rect x="192" y="237" width="2" height="31" fill="#4d7905" opacity="0.40"/>
<rect x="260" y="219" width="3" height="21" fill="#806207" opacity="0.25"/>
<rect x="290" y="267" width="2" height="49" fill="#009400" opacity="0.20"/>
<rect x="251" y="241" width="1" height="16" fill="#4d7905" opacity="0.25"/>
<rect x="223" y="243" width="3" height="19" fill="#994305" opacity="0.19"/>
<rect x="225" y="267" width="1" height="60" fill="#4d7905" opacity="0.32"/>
<rect x="243" y="260" width="1" height="53" fill="#009400" opacity="0.23"/>
<rect x="291" y="276" width="2" height="34" fill="#806207" opacity="0.34"/>
<rect x="322" y="236" width="2" height="46" fill="#4d7905" opacity="0.32"/>
<rect x="307" y="222" width="2" height="48" fill="#994305" opacity="0.26"/>
<rect x="264" y="283" width="2" height="34" fill="#8c5306" opacity="0.26"/>
<rect x="307" y="300" width="1" height="23" fill="#5f7306" opacity="0.35"/>
<rect x="304" y="256" width="1" height="44" fill="#0e8f01" opacity="0.23"/>
<rect x="172" y="229" width="2" height="53" fill="#716d07" opacity="0.30"/>
<rect x="230" y="272" width="1" height="54" fill="#8c5306" opacity="0.25"/>
<rect x="328" y="280" width="2" height="28" fill="#009407" opacity="0.28"/>
<rect x="219" y="236" width="1" height="42" fill="#5f7306" opacity="0.25"/>
<rect x="230" y="249" width="3" height="47" fill="#716d07" opacity="0.33"/>
<rect x="310" y="222" width="2" height="16" fill="#8c5306" opacity="0.19"/>
<rect x="179" y="222" width="2" height="52" fill="#009400" opacity="0.20"/>
<rect x="327" y="228" width="2" height="41" fill="#994305" opacity="0.27"/>
<rect x="197" y="265" width="2" height="23" fill="#0e8f01" opacity="0.28"/>
<rect x="207" y="251" width="2" height="49" fill="#5f7306" opacity="0.19"/>
<rect x="316" y="219" width="3" height="53" fill="#009407" opacity="0.16"/>
<rect x="188" y="275" width="2" height="22" fill="#8c5306" opacity="0.17"/>
<rect x="258" y="261" width="2" height="33" fill="#4d7905" opacity="0.35"/>
<rect x="220" y="221" width="2" height="60" fill="#009400" opacity="0.27"/>
<rect x="260" y="277" width="2" height="26" fill="#806207" opacity="0.25"/>
<rect x="277" y="277" width="3" height="44" fill="#716d07" opacity="0.36"/>
<rect x="287" y="255" width="3" height="18" fill="#806207" opacity="0.26"/>
<rect x="254" y="249" width="3" height="37" fill="#009400" opacity="0.32"/>
<rect x="224" y="230" width="3" height="45" fill="#0e8f01" opacity="0.26"/>
<rect x="307" y="295" width="3" height="16" fill="#0e8f01" opacity="0.23"/>
<rect x="330" y="289" width="1" height="38" fill="#994305" opacity="0.25"/>
<rect x="255" y="220" width="2" height="54" fill="#716d07" opacity="0.30"/>
<rect x="213" y="247" width="2" height="36" fill="#0e8f01" opacity="0.19"/>
<rect x="276" y="268" width="3" height="19" fill="#716d07" opacity="0.38"/>
<rect x="171" y="215" width="2" height="48" fill="#716d07" opacity="0.18"/>
<rect x="184" y="284" width="1" height="39" fill="#0e8f01" opacity="0.24"/>
<rect x="287" y="223" width="2" height="27" fill="#4d7905" opacity="0.20"/>
<rect x="215" y="279" width="1" height="48" fill="#5f7306" opacity="0.36"/>
<rect x="190" y="276" width="2" height="24" fill="#994305" opacity="0.16"/>
<rect x="225" y="273" width="2" height="33" fill="#4d7905" opacity="0.21"/>
<rect x="269" y="289" width="2" height="35" fill="#0e8f01" opacity="0.28"/>
<rect x="253" y="277" width="2" height="45" fill="#009400" opacity="0.29"/>
<rect x="212" y="293" width="2" height="31" fill="#009400" opacity="0.24"/>
<rect x="258" y="294" width="2" height="46" fill="#009400" opacity="0.30"/>
<rect x="192" y="286" width="1" height="44" fill="#994305" opacity="0.26"/>
<rect x="207" y="275" width="1" height="32" fill="#5f7306" opacity="0.25"/>
<rect x="323" y="292" width="3" height="45" fill="#009407" opacity="0.22"/>
<rect x="228" y="233" width="3" height="31" fill="#009400" opacity="0.35"/>
<rect x="172" y="249" width="2" height="26" fill="#994305" opacity="0.30"/>
<rect x="313" y="250" width="1" height="20" fill="#0e8f01" opacity="0.36"/>
<rect x="244" y="253" width="1" height="16" fill="#5f7306" opacity="0.27"/>
<rect x="291" y="257" width="1" height="47" fill="#009407" opacity="0.21"/>
<rect x="273" y="269" width="1" height="59" fill="#994305" opacity="0.34"/>
<rect x="239" y="235" width="2" height="52" fill="#994305" opacity="0.40"/>
<rect x="245" y="229" width="1" height="49" fill="#0e8f01" opacity="0.31"/>
<rect x="266" y="251" width="1" height="52" fill="#4d7905" opacity="0.23"/>
<rect x="293" y="266" width="1" height="56" fill="#0e8f01" opacity="0.31"/>
<rect x="171" y="249" width="2" height="49" fill="#009407" opacity="0.27"/>
<rect x="301" y="251" width="2" height="22" fill="#806207" opacity="0.37"/>
<rect x="176" y="240" width="1" height="43" fill="#4d7905" opacity="0.37"/>
<rect x="199" y="276" width="1" height="32" fill="#8c5306" opacity="0.25"/>
<rect x="322" y="252" width="2" height="36" fill="#4d7905" opacity="0.23"/>
<rect x="312" y="227" width="3" height="21" fill="#8c5306" opacity="0.20"/>
<rect x="187" y="275" width="1" height="46" fill="#806207" opacity="0.21"/>
<rect x="189" y="269" width="2" height="21" fill="#009407" opacity="0.26"/>
<rect x="179" y="248" width="2" height="57" fill="#994305" opacity="0.29"/>
<rect x="242" y="279" width="1" height="49" fill="#0e8f01" opacity="0.24"/>
<rect x="325" y="219" width="2" height="50" fill="#009407" opacity="0.26"/>
<rect x="194" y="257" width="3" height="37" fill="#994305" opacity="0.21"/>
<rect x="325" y="233" width="2" height="28" fill="#994305" opacity="0.33"/>
<rect x="213" y="250" width="2" height="36" fill="#4d7905" opacity="0.36"/>
</g>
<g clip-path="url(#clUR)" shape-rendering="crispEdges">
<rect x="645" y="200" width="326" height="125" fill="url(#urg)"/>
<rect x="951" y="293" width="1" height="24" fill="#0e8f01" opacity="0.28"/>
<rect x="951" y="282" width="2" height="44" fill="#994305" opacity="0.28"/>
<rect x="727" y="293" width="2" height="38" fill="#4d7905" opacity="0.38"/>
<rect x="968" y="249" width="1" height="68" fill="#009400" opacity="0.22"/>
<rect x="700" y="253" width="2" height="43" fill="#994305" opacity="0.39"/>
<rect x="964" y="215" width="1" height="44" fill="#4d7905" opacity="0.18"/>
<rect x="764" y="237" width="3" height="55" fill="#009400" opacity="0.20"/>
<rect x="751" y="247" width="3" height="54" fill="#0e8f01" opacity="0.28"/>
<rect x="804" y="272" width="2" height="19" fill="#009407" opacity="0.16"/>
<rect x="928" y="253" width="2" height="68" fill="#009400" opacity="0.26"/>
<rect x="820" y="240" width="1" height="27" fill="#4d7905" opacity="0.28"/>
<rect x="887" y="252" width="3" height="47" fill="#0e8f01" opacity="0.38"/>
<rect x="966" y="259" width="1" height="46" fill="#8c5306" opacity="0.34"/>
<rect x="725" y="267" width="2" height="63" fill="#009407" opacity="0.34"/>
<rect x="660" y="285" width="2" height="44" fill="#994305" opacity="0.23"/>
<rect x="827" y="275" width="1" height="25" fill="#806207" opacity="0.21"/>
<rect x="853" y="243" width="2" height="57" fill="#806207" opacity="0.19"/>
<rect x="845" y="266" width="2" height="28" fill="#806207" opacity="0.15"/>
<rect x="827" y="220" width="3" height="43" fill="#8c5306" opacity="0.21"/>
<rect x="717" y="287" width="2" height="21" fill="#4d7905" opacity="0.26"/>
<rect x="947" y="299" width="2" height="34" fill="#009407" opacity="0.21"/>
<rect x="807" y="219" width="1" height="28" fill="#009400" opacity="0.30"/>
<rect x="781" y="272" width="3" height="29" fill="#0e8f01" opacity="0.20"/>
<rect x="655" y="287" width="2" height="35" fill="#009400" opacity="0.24"/>
<rect x="823" y="218" width="2" height="38" fill="#009400" opacity="0.38"/>
<rect x="724" y="210" width="2" height="22" fill="#8c5306" opacity="0.33"/>
<rect x="720" y="263" width="2" height="38" fill="#806207" opacity="0.20"/>
<rect x="906" y="277" width="3" height="39" fill="#5f7306" opacity="0.20"/>
<rect x="695" y="271" width="1" height="35" fill="#4d7905" opacity="0.36"/>
<rect x="782" y="216" width="2" height="38" fill="#5f7306" opacity="0.37"/>
<rect x="699" y="227" width="3" height="24" fill="#806207" opacity="0.16"/>
<rect x="946" y="272" width="3" height="61" fill="#009400" opacity="0.23"/>
<rect x="704" y="266" width="2" height="27" fill="#5f7306" opacity="0.36"/>
<rect x="945" y="218" width="2" height="38" fill="#994305" opacity="0.21"/>
<rect x="657" y="256" width="2" height="45" fill="#009400" opacity="0.21"/>
<rect x="853" y="221" width="2" height="58" fill="#009400" opacity="0.35"/>
<rect x="807" y="272" width="1" height="53" fill="#009407" opacity="0.25"/>
<rect x="798" y="267" width="1" height="38" fill="#4d7905" opacity="0.30"/>
<rect x="860" y="296" width="1" height="67" fill="#994305" opacity="0.32"/>
<rect x="680" y="273" width="3" height="69" fill="#009400" opacity="0.36"/>
<rect x="880" y="252" width="2" height="65" fill="#4d7905" opacity="0.30"/>
<rect x="897" y="216" width="3" height="63" fill="#994305" opacity="0.29"/>
<rect x="789" y="220" width="3" height="41" fill="#009407" opacity="0.39"/>
<rect x="762" y="271" width="3" height="46" fill="#8c5306" opacity="0.28"/>
<rect x="788" y="263" width="2" height="53" fill="#4d7905" opacity="0.18"/>
<rect x="817" y="278" width="3" height="27" fill="#5f7306" opacity="0.25"/>
<rect x="729" y="277" width="2" height="36" fill="#8c5306" opacity="0.33"/>
<rect x="760" y="280" width="3" height="50" fill="#4d7905" opacity="0.22"/>
<rect x="871" y="259" width="3" height="31" fill="#994305" opacity="0.27"/>
<rect x="660" y="247" width="1" height="65" fill="#4d7905" opacity="0.31"/>
<rect x="680" y="255" width="1" height="55" fill="#5f7306" opacity="0.18"/>
<rect x="758" y="231" width="2" height="43" fill="#009400" opacity="0.27"/>
<rect x="672" y="286" width="1" height="41" fill="#5f7306" opacity="0.38"/>
<rect x="867" y="248" width="2" height="44" fill="#4d7905" opacity="0.21"/>
<rect x="840" y="216" width="2" height="22" fill="#009400" opacity="0.27"/>
<rect x="903" y="238" width="2" height="70" fill="#0e8f01" opacity="0.22"/>
<rect x="769" y="261" width="2" height="30" fill="#716d07" opacity="0.29"/>
<rect x="747" y="205" width="3" height="21" fill="#994305" opacity="0.39"/>
<rect x="740" y="294" width="2" height="39" fill="#994305" opacity="0.35"/>
<rect x="867" y="232" width="2" height="21" fill="#716d07" opacity="0.22"/>
<rect x="711" y="259" width="2" height="32" fill="#4d7905" opacity="0.29"/>
<rect x="907" y="263" width="2" height="64" fill="#009407" opacity="0.25"/>
<rect x="712" y="236" width="3" height="16" fill="#8c5306" opacity="0.27"/>
<rect x="796" y="221" width="3" height="17" fill="#4d7905" opacity="0.17"/>
<rect x="721" y="277" width="2" height="20" fill="#4d7905" opacity="0.26"/>
<rect x="824" y="299" width="1" height="33" fill="#009400" opacity="0.35"/>
<rect x="874" y="278" width="2" height="27" fill="#4d7905" opacity="0.28"/>
<rect x="771" y="219" width="3" height="67" fill="#4d7905" opacity="0.35"/>
<rect x="752" y="239" width="2" height="38" fill="#009400" opacity="0.17"/>
<rect x="785" y="240" width="1" height="43" fill="#009407" opacity="0.16"/>
<rect x="755" y="231" width="3" height="19" fill="#0e8f01" opacity="0.28"/>
<rect x="826" y="243" width="2" height="45" fill="#716d07" opacity="0.20"/>
<rect x="718" y="213" width="1" height="31" fill="#009407" opacity="0.25"/>
<rect x="833" y="216" width="3" height="57" fill="#994305" opacity="0.31"/>
<rect x="788" y="280" width="1" height="52" fill="#009407" opacity="0.34"/>
<rect x="694" y="242" width="2" height="65" fill="#5f7306" opacity="0.32"/>
<rect x="793" y="277" width="3" height="52" fill="#5f7306" opacity="0.36"/>
<rect x="747" y="235" width="2" height="53" fill="#0e8f01" opacity="0.23"/>
<rect x="677" y="225" width="2" height="15" fill="#806207" opacity="0.37"/>
<rect x="682" y="230" width="3" height="64" fill="#009400" opacity="0.29"/>
<rect x="703" y="274" width="1" height="60" fill="#009407" opacity="0.30"/>
<rect x="845" y="232" width="2" height="16" fill="#0e8f01" opacity="0.26"/>
<rect x="758" y="264" width="1" height="40" fill="#0e8f01" opacity="0.32"/>
<rect x="804" y="252" width="2" height="51" fill="#994305" opacity="0.24"/>
<rect x="858" y="283" width="2" height="28" fill="#994305" opacity="0.19"/>
<rect x="783" y="246" width="2" height="39" fill="#0e8f01" opacity="0.29"/>
<rect x="678" y="300" width="2" height="58" fill="#8c5306" opacity="0.16"/>
<rect x="705" y="209" width="1" height="43" fill="#716d07" opacity="0.30"/>
<rect x="664" y="210" width="2" height="43" fill="#0e8f01" opacity="0.32"/>
<rect x="758" y="255" width="3" height="53" fill="#4d7905" opacity="0.17"/>
<rect x="739" y="272" width="3" height="57" fill="#8c5306" opacity="0.37"/>
<rect x="775" y="207" width="2" height="26" fill="#716d07" opacity="0.25"/>
<rect x="911" y="290" width="1" height="34" fill="#806207" opacity="0.28"/>
<rect x="734" y="208" width="1" height="46" fill="#806207" opacity="0.23"/>
<rect x="836" y="245" width="1" height="27" fill="#806207" opacity="0.37"/>
<rect x="863" y="233" width="2" height="41" fill="#5f7306" opacity="0.31"/>
<rect x="725" y="291" width="2" height="59" fill="#009400" opacity="0.36"/>
<rect x="714" y="242" width="3" height="67" fill="#009407" opacity="0.38"/>
<rect x="807" y="268" width="3" height="65" fill="#716d07" opacity="0.38"/>
<rect x="905" y="232" width="2" height="35" fill="#8c5306" opacity="0.21"/>
<rect x="712" y="215" width="2" height="65" fill="#009407" opacity="0.19"/>
<rect x="854" y="285" width="2" height="42" fill="#4d7905" opacity="0.21"/>
<rect x="760" y="239" width="2" height="51" fill="#806207" opacity="0.21"/>
<rect x="930" y="279" width="2" height="66" fill="#8c5306" opacity="0.27"/>
<rect x="917" y="282" width="3" height="28" fill="#5f7306" opacity="0.28"/>
<rect x="779" y="265" width="2" height="45" fill="#806207" opacity="0.28"/>
<rect x="761" y="213" width="2" height="56" fill="#009400" opacity="0.28"/>
<rect x="690" y="250" width="2" height="33" fill="#5f7306" opacity="0.20"/>
<rect x="910" y="294" width="1" height="46" fill="#716d07" opacity="0.34"/>
<rect x="755" y="228" width="2" height="39" fill="#994305" opacity="0.26"/>
<rect x="909" y="281" width="1" height="44" fill="#994305" opacity="0.30"/>
<rect x="965" y="271" width="2" height="41" fill="#806207" opacity="0.23"/>
<rect x="906" y="283" width="3" height="68" fill="#009400" opacity="0.35"/>
<rect x="898" y="227" width="2" height="15" fill="#009400" opacity="0.31"/>
<rect x="937" y="292" width="1" height="33" fill="#009400" opacity="0.19"/>
<rect x="819" y="294" width="1" height="16" fill="#4d7905" opacity="0.34"/>
<rect x="861" y="262" width="3" height="29" fill="#4d7905" opacity="0.20"/>
<rect x="686" y="213" width="3" height="22" fill="#806207" opacity="0.18"/>
<rect x="918" y="292" width="2" height="51" fill="#0e8f01" opacity="0.37"/>
<rect x="894" y="245" width="3" height="63" fill="#8c5306" opacity="0.27"/>
<rect x="742" y="222" width="3" height="28" fill="#0e8f01" opacity="0.21"/>
<rect x="778" y="263" width="3" height="51" fill="#4d7905" opacity="0.26"/>
<rect x="777" y="226" width="3" height="23" fill="#8c5306" opacity="0.31"/>
<rect x="684" y="250" width="2" height="25" fill="#994305" opacity="0.32"/>
<rect x="901" y="243" width="1" height="36" fill="#0e8f01" opacity="0.20"/>
<rect x="849" y="282" width="3" height="23" fill="#0e8f01" opacity="0.24"/>
<rect x="823" y="269" width="2" height="33" fill="#0e8f01" opacity="0.27"/>
<rect x="790" y="258" width="3" height="21" fill="#009400" opacity="0.22"/>
<rect x="704" y="255" width="3" height="54" fill="#0e8f01" opacity="0.32"/>
<rect x="785" y="298" width="1" height="27" fill="#009407" opacity="0.25"/>
<rect x="778" y="238" width="2" height="28" fill="#5f7306" opacity="0.22"/>
<rect x="831" y="249" width="2" height="22" fill="#4d7905" opacity="0.38"/>
<rect x="939" y="230" width="1" height="21" fill="#716d07" opacity="0.35"/>
<rect x="827" y="242" width="1" height="31" fill="#716d07" opacity="0.37"/>
<rect x="815" y="248" width="2" height="68" fill="#806207" opacity="0.33"/>
<rect x="773" y="249" width="2" height="32" fill="#4d7905" opacity="0.23"/>
<rect x="737" y="223" width="3" height="63" fill="#009407" opacity="0.16"/>
<rect x="946" y="263" width="3" height="68" fill="#4d7905" opacity="0.30"/>
<rect x="699" y="274" width="2" height="15" fill="#009407" opacity="0.32"/>
<rect x="910" y="211" width="2" height="19" fill="#4d7905" opacity="0.23"/>
<rect x="839" y="288" width="1" height="23" fill="#0e8f01" opacity="0.40"/>
<rect x="862" y="299" width="3" height="39" fill="#8c5306" opacity="0.16"/>
<rect x="835" y="297" width="2" height="37" fill="#8c5306" opacity="0.39"/>
<rect x="738" y="232" width="3" height="40" fill="#009400" opacity="0.23"/>
<rect x="821" y="268" width="3" height="62" fill="#806207" opacity="0.40"/>
<rect x="810" y="268" width="2" height="31" fill="#716d07" opacity="0.21"/>
<rect x="926" y="259" width="2" height="30" fill="#994305" opacity="0.35"/>
<rect x="754" y="225" width="1" height="38" fill="#8c5306" opacity="0.25"/>
<rect x="734" y="254" width="2" height="15" fill="#716d07" opacity="0.36"/>
<rect x="962" y="248" width="2" height="45" fill="#009407" opacity="0.22"/>
<rect x="813" y="297" width="3" height="18" fill="#4d7905" opacity="0.18"/>
<rect x="793" y="273" width="2" height="19" fill="#8c5306" opacity="0.26"/>
<rect x="651" y="214" width="1" height="65" fill="#009400" opacity="0.38"/>
<rect x="667" y="262" width="2" height="55" fill="#009400" opacity="0.30"/>
<rect x="786" y="221" width="2" height="65" fill="#806207" opacity="0.19"/>
<rect x="724" y="279" width="1" height="18" fill="#716d07" opacity="0.38"/>
<rect x="681" y="238" width="1" height="52" fill="#994305" opacity="0.37"/>
<rect x="670" y="241" width="3" height="27" fill="#8c5306" opacity="0.32"/>
<rect x="702" y="259" width="2" height="59" fill="#5f7306" opacity="0.33"/>
<rect x="698" y="274" width="2" height="27" fill="#716d07" opacity="0.17"/>
<rect x="695" y="239" width="2" height="23" fill="#994305" opacity="0.22"/>
<rect x="906" y="260" width="3" height="29" fill="#8c5306" opacity="0.19"/>
<rect x="922" y="273" width="3" height="28" fill="#806207" opacity="0.32"/>
<rect x="769" y="229" width="2" height="44" fill="#716d07" opacity="0.30"/>
<rect x="744" y="223" width="1" height="55" fill="#716d07" opacity="0.31"/>
<rect x="694" y="225" width="3" height="22" fill="#806207" opacity="0.39"/>
<rect x="768" y="290" width="1" height="53" fill="#716d07" opacity="0.22"/>
<rect x="963" y="218" width="2" height="64" fill="#994305" opacity="0.27"/>
<rect x="893" y="258" width="2" height="69" fill="#0e8f01" opacity="0.18"/>
<rect x="886" y="262" width="2" height="64" fill="#0e8f01" opacity="0.26"/>
</g>
<g fill="#808080" shape-rendering="crispEdges">
<polygon points="824,371 824,370 828,370 828,367 828,368 831,368 831,365 831,366 834,366 834,368 834,365 838,365 838,367 839,362 839,364 841,364 841,362 843,362 843,362 845,362 845,362 846,371 846,370 850,370 850,372 850,380 853,381 854,388 854,387 850,387 850,386 850,386 848,386 848,384 846,384 846,386 846,389 846,390 843,390 843,387 840,387 840,386 840,386 837,386 837,387 836,381 834,398 834,400 832,400 832,404 830,404 830,405 830,407 827,407 827,404 826,400 826,398 822,398 822,396 822,393 823,383 825,378" />
<polygon points="859,385 859,387 861,387 861,385 864,385 864,384 864,392 864,393 868,393 868,392 870,396 869,405 869,404 865,404 865,405 864,399 863,394 863,393 861,393 861,398 859,398 859,393" />
<polygon points="883,413 884,399 886,393 888,383 888,383 891,383 891,384 890,390 888,400 887,409 886,413 886,413 883,413" />
<polygon points="890,400 890,400 894,400 894,400 894,410 894,410 890,410 890,410" />
<polygon points="883,400 883,398 885,398 885,399 887,399 887,398 889,398 889,402 891,402 891,400 893,400 893,400 892,405 894,409 894,408 891,408 891,412 889,412 889,410 888,415 887,409 887,408 883,408 883,409" />
<polygon points="900,412 901,409 901,406 903,406 903,404 905,404 905,401 906,394 908,391 908,394 911,394 911,400 909,406 910,409 912,411 912,413 912,415 910,415 910,414 907,414 907,411 905,411 905,415 902,415 902,412" />
<polygon points="918,416 919,411 919,411 921,411 921,407 923,407 923,408 923,406 927,406 927,408 928,412 928,412 932,412 932,413 932,416 932,416 935,416 935,416 937,416 937,417 939,417 939,416 941,416 941,416 942,420 942,418 939,418 939,413 936,413 936,421 934,418 933,427 933,425 930,425 930,427 929,421 929,419 926,419 926,421 924,421 924,421 922,418 922,418 920,418 920,417 918,417" />
<polygon points="893,421 893,421 895,421 895,423 897,423 897,417 899,417 899,420 902,420 902,422 904,422 904,421 906,421 906,421 908,421 908,421 910,421 910,423 912,423 912,423 914,423 914,423 916,423 916,421 918,421 918,419 920,419 920,421 922,421 922,421 924,428 924,427 922,427 922,429 919,429 919,429 919,429 917,429 917,431 914,431 914,431 912,431 912,427 910,427 910,429 908,429 908,430 905,430 905,430 903,430 903,429 902,432 902,433 900,433 900,426 898,426 898,431 896,428 894,427" />
<polygon points="888,421 888,421 891,421 891,421 892,427 889,427" />
<polygon points="906,451 906,449 908,449 908,449 910,449 910,453 912,453 912,451 912,455 916,455 916,460 916,460 912,460 912,461 910,455 910,456 906,456 906,453" />
<polygon points="899,448 902,448 902,451 899,452" />
<polygon points="826,400 826,401 828,401 828,398 830,398 830,399 832,399 832,402 834,402 834,400 833,402 833,403 829,403 829,404 829,405 826,405 826,404" />
<polygon points="864,400 864,398 868,398 868,400 868,404 865,404" />
<polygon points="966,416 966,417 970,417 970,416 970,421 970,422 967,422 967,421" />
<polygon points="943,416 945,416 945,418 943,418" />
<polygon points="652,326 652,326 654,326 654,324 656,324 656,321 658,321 658,324 660,324 660,326 662,326 662,324 664,324 664,324 666,324 666,325 666,334 666,335 664,335 664,335 661,335 661,333 658,333 658,334 658,333 656,333 656,332 653,332 653,331" />
<polygon points="671,334 671,334 673,334 673,334 675,334 675,334 675,340 675,340 673,340 673,341 671,341 671,340" />
<polygon points="482,642 484,629 484,634 486,634 486,640 488,640 488,642 488,642 486,642 486,643 484,643 484,643 482,643" />
<polygon points="530,629 530,625 532,625 532,621 534,621 534,621 536,621 536,618 536,620 539,620 539,627 542,627 542,630 541,637 541,638 538,638 538,638 536,638 536,639 534,639 534,639 534,636 532,636 532,630 530,630" />
<polygon points="566,640 567,629 570,640 570,642 566,642" />
<polygon points="578,641 580,633 582,641 582,639 578,639" />
<polygon points="592,633 593,626 594,633" />
<polygon points="567,549 569,542 571,550 569,552" />
<polygon points="944,240 944,240 948,240 948,240 948,245 948,252 944,252 944,245" />
<polygon points="957,243 957,243 960,243 960,243 960,247 960,248 957,248 957,247" />
</g>
<g shape-rendering="crispEdges" clip-path="url(#plot)">
<rect x="177" y="532" width="1" height="2" fill="#807a10"/>
<rect x="181" y="532" width="2" height="2" fill="#8a6a10"/>
<rect x="184" y="532" width="2" height="2" fill="#807a10"/>
<rect x="195" y="532" width="3" height="2" fill="#747c10"/>
<rect x="201" y="532" width="2" height="2" fill="#6a8010"/>
<rect x="204" y="532" width="2" height="2" fill="#8a6a10"/>
<rect x="207" y="532" width="4" height="2" fill="#8a6a10"/>
<rect x="212" y="532" width="2" height="2" fill="#8a6a10"/>
<rect x="221" y="532" width="3" height="2" fill="#6a8010"/>
<rect x="169" y="556" width="2" height="2" fill="#747c10"/>
<rect x="174" y="556" width="1" height="2" fill="#6a8010"/>
<rect x="176" y="556" width="3" height="2" fill="#6a8010"/>
<rect x="184" y="556" width="1" height="2" fill="#80760e"/>
<rect x="188" y="556" width="3" height="2" fill="#80760e"/>
<rect x="192" y="556" width="1" height="2" fill="#80760e"/>
<rect x="194" y="556" width="2" height="2" fill="#8a6a10"/>
<rect x="197" y="556" width="1" height="2" fill="#747c10"/>
<rect x="199" y="556" width="2" height="2" fill="#807a10"/>
<rect x="202" y="556" width="2" height="2" fill="#8a6a10"/>
<rect x="205" y="556" width="3" height="2" fill="#6a8010"/>
<rect x="213" y="556" width="1" height="2" fill="#807a10"/>
<rect x="215" y="556" width="2" height="2" fill="#6a8010"/>
<rect x="220" y="556" width="2" height="2" fill="#80760e"/>
<rect x="229" y="556" width="2" height="2" fill="#6a8010"/>
<rect x="240" y="556" width="4" height="2" fill="#807a10"/>
<rect x="255" y="556" width="2" height="2" fill="#807a10"/>
<rect x="260" y="556" width="1" height="2" fill="#747c10"/>
<rect x="195" y="581" width="1" height="2" fill="#807a10"/>
<rect x="201" y="581" width="2" height="2" fill="#8a6a10"/>
<rect x="204" y="581" width="2" height="2" fill="#747c10"/>
<rect x="207" y="581" width="2" height="2" fill="#80760e"/>
<rect x="210" y="581" width="3" height="2" fill="#747c10"/>
<rect x="216" y="581" width="2" height="2" fill="#80760e"/>
<rect x="221" y="581" width="3" height="2" fill="#6a8010"/>
<rect x="225" y="581" width="3" height="2" fill="#807a10"/>
<rect x="229" y="581" width="1" height="2" fill="#80760e"/>
<rect x="235" y="581" width="1" height="2" fill="#80760e"/>
<rect x="251" y="581" width="2" height="2" fill="#8a6a10"/>
<rect x="254" y="581" width="2" height="2" fill="#8a6a10"/>
<rect x="257" y="581" width="4" height="2" fill="#747c10"/>
<rect x="264" y="581" width="3" height="2" fill="#6a8010"/>
<rect x="270" y="581" width="2" height="2" fill="#807a10"/>
<rect x="281" y="581" width="4" height="2" fill="#747c10"/>
<rect x="169" y="600" width="2" height="2" fill="#807a10"/>
<rect x="172" y="600" width="2" height="2" fill="#8a6a10"/>
<rect x="177" y="600" width="2" height="2" fill="#747c10"/>
<rect x="180" y="600" width="4" height="2" fill="#747c10"/>
<rect x="185" y="600" width="3" height="2" fill="#807a10"/>
<rect x="189" y="600" width="2" height="2" fill="#747c10"/>
<rect x="196" y="600" width="4" height="2" fill="#747c10"/>
<rect x="205" y="600" width="3" height="2" fill="#8a6a10"/>
<rect x="211" y="600" width="1" height="2" fill="#747c10"/>
<rect x="213" y="600" width="3" height="2" fill="#807a10"/>
<rect x="219" y="600" width="2" height="2" fill="#80760e"/>
<rect x="224" y="600" width="2" height="2" fill="#747c10"/>
<rect x="227" y="600" width="2" height="2" fill="#8a6a10"/>
<rect x="232" y="600" width="4" height="2" fill="#6a8010"/>
<rect x="237" y="600" width="2" height="2" fill="#747c10"/>
<rect x="240" y="600" width="2" height="2" fill="#807a10"/>
<rect x="243" y="600" width="2" height="2" fill="#6a8010"/>
<rect x="252" y="600" width="3" height="2" fill="#807a10"/>
<rect x="256" y="600" width="3" height="2" fill="#8a6a10"/>
<rect x="260" y="600" width="1" height="2" fill="#807a10"/>
<rect x="262" y="600" width="4" height="2" fill="#80760e"/>
<rect x="267" y="600" width="4" height="2" fill="#807a10"/>
<rect x="272" y="600" width="2" height="2" fill="#8a6a10"/>
<rect x="277" y="600" width="2" height="2" fill="#807a10"/>
<rect x="280" y="600" width="2" height="2" fill="#6a8010"/>
<rect x="285" y="600" width="4" height="2" fill="#80760e"/>
<rect x="290" y="600" width="2" height="2" fill="#8a6a10"/>
<rect x="295" y="600" width="1" height="2" fill="#747c10"/>
<rect x="299" y="600" width="1" height="2" fill="#80760e"/>
<rect x="301" y="600" width="3" height="2" fill="#6a8010"/>
<rect x="309" y="600" width="2" height="2" fill="#80760e"/>
<rect x="320" y="600" width="3" height="2" fill="#807a10"/>
<rect x="332" y="600" width="3" height="2" fill="#8a6a10"/>
<rect x="336" y="600" width="1" height="2" fill="#80760e"/>
<rect x="175" y="629" width="1" height="2" fill="#807a10"/>
<rect x="191" y="629" width="2" height="2" fill="#6a8010"/>
<rect x="194" y="629" width="1" height="2" fill="#6a8010"/>
<rect x="210" y="629" width="4" height="2" fill="#807a10"/>
<rect x="215" y="629" width="1" height="2" fill="#747c10"/>
<rect x="217" y="629" width="2" height="2" fill="#807a10"/>
<rect x="230" y="629" width="1" height="2" fill="#80760e"/>
<rect x="242" y="629" width="1" height="2" fill="#80760e"/>
<rect x="246" y="629" width="2" height="2" fill="#6a8010"/>
<rect x="259" y="629" width="3" height="2" fill="#80760e"/>
<rect x="265" y="629" width="4" height="2" fill="#6a8010"/>
<rect x="300" y="629" width="2" height="2" fill="#80760e"/>
<rect x="315" y="629" width="1" height="2" fill="#8a6a10"/>
<rect x="319" y="629" width="1" height="2" fill="#8a6a10"/>
<rect x="331" y="629" width="2" height="2" fill="#80760e"/>
<rect x="342" y="629" width="2" height="2" fill="#807a10"/>
<rect x="349" y="629" width="4" height="2" fill="#807a10"/>
<rect x="362" y="629" width="1" height="2" fill="#80760e"/>
<rect x="366" y="629" width="2" height="2" fill="#80760e"/>
<rect x="381" y="629" width="1" height="2" fill="#8a6a10"/>
<rect x="385" y="629" width="4" height="2" fill="#80760e"/>
<rect x="392" y="629" width="2" height="2" fill="#80760e"/>
<rect x="395" y="629" width="2" height="2" fill="#747c10"/>
<rect x="412" y="629" width="3" height="2" fill="#8a6a10"/>
<rect x="424" y="629" width="4" height="2" fill="#6a8010"/>
<rect x="429" y="629" width="1" height="2" fill="#6a8010"/>
<rect x="435" y="629" width="4" height="2" fill="#8a6a10"/>
<rect x="442" y="629" width="4" height="2" fill="#807a10"/>
<rect x="449" y="629" width="2" height="2" fill="#807a10"/>
<rect x="173" y="634" width="3" height="2" fill="#6a8010"/>
<rect x="179" y="634" width="4" height="2" fill="#6a8010"/>
<rect x="184" y="634" width="3" height="2" fill="#80760e"/>
<rect x="192" y="634" width="2" height="2" fill="#8a6a10"/>
<rect x="207" y="634" width="2" height="2" fill="#80760e"/>
<rect x="210" y="634" width="2" height="2" fill="#8a6a10"/>
<rect x="219" y="634" width="2" height="2" fill="#747c10"/>
<rect x="224" y="634" width="3" height="2" fill="#8a6a10"/>
<rect x="236" y="634" width="1" height="2" fill="#6a8010"/>
<rect x="242" y="634" width="3" height="2" fill="#6a8010"/>
<rect x="246" y="634" width="2" height="2" fill="#6a8010"/>
<rect x="257" y="634" width="2" height="2" fill="#8a6a10"/>
<rect x="264" y="634" width="3" height="2" fill="#807a10"/>
<rect x="270" y="634" width="2" height="2" fill="#807a10"/>
<rect x="277" y="634" width="1" height="2" fill="#80760e"/>
<rect x="283" y="634" width="4" height="2" fill="#807a10"/>
<rect x="294" y="634" width="2" height="2" fill="#6a8010"/>
<rect x="299" y="634" width="2" height="2" fill="#8a6a10"/>
<rect x="306" y="634" width="4" height="2" fill="#80760e"/>
<rect x="311" y="634" width="2" height="2" fill="#6a8010"/>
<rect x="316" y="634" width="2" height="2" fill="#6a8010"/>
<rect x="319" y="634" width="2" height="2" fill="#80760e"/>
<rect x="322" y="634" width="3" height="2" fill="#807a10"/>
<rect x="326" y="634" width="2" height="2" fill="#80760e"/>
<rect x="333" y="634" width="2" height="2" fill="#807a10"/>
<rect x="336" y="634" width="3" height="2" fill="#807a10"/>
<rect x="340" y="634" width="2" height="2" fill="#807a10"/>
<rect x="343" y="634" width="2" height="2" fill="#6a8010"/>
<rect x="356" y="634" width="2" height="2" fill="#80760e"/>
<rect x="367" y="634" width="1" height="2" fill="#6a8010"/>
<rect x="377" y="634" width="2" height="2" fill="#80760e"/>
<rect x="380" y="634" width="2" height="2" fill="#747c10"/>
<rect x="385" y="634" width="1" height="2" fill="#80760e"/>
<rect x="387" y="634" width="2" height="2" fill="#8a6a10"/>
<rect x="390" y="634" width="1" height="2" fill="#8a6a10"/>
<rect x="392" y="634" width="2" height="2" fill="#80760e"/>
<rect x="397" y="634" width="4" height="2" fill="#8a6a10"/>
<rect x="402" y="634" width="1" height="2" fill="#8a6a10"/>
<rect x="410" y="634" width="1" height="2" fill="#8a6a10"/>
<rect x="412" y="634" width="4" height="2" fill="#6a8010"/>
<rect x="419" y="634" width="2" height="2" fill="#8a6a10"/>
<rect x="422" y="634" width="2" height="2" fill="#6a8010"/>
<rect x="425" y="634" width="2" height="2" fill="#8a6a10"/>
<rect x="430" y="634" width="3" height="2" fill="#6a8010"/>
<rect x="436" y="634" width="4" height="2" fill="#6a8010"/>
<rect x="447" y="634" width="4" height="2" fill="#80760e"/>
<rect x="238" y="611" width="1" height="2" fill="#80760e"/>
<rect x="252" y="611" width="3" height="2" fill="#747c10"/>
<rect x="274" y="611" width="3" height="2" fill="#6a8010"/>
<rect x="282" y="611" width="2" height="2" fill="#807a10"/>
<rect x="321" y="611" width="2" height="2" fill="#80760e"/>
<rect x="324" y="611" width="1" height="2" fill="#807a10"/>
<rect x="362" y="611" width="2" height="2" fill="#80760e"/>
<rect x="381" y="611" width="1" height="2" fill="#747c10"/>
<rect x="383" y="611" width="2" height="2" fill="#747c10"/>
<rect x="400" y="611" width="3" height="2" fill="#807a10"/>
<rect x="410" y="611" width="3" height="2" fill="#80760e"/>
<rect x="418" y="611" width="2" height="2" fill="#807a10"/>
<rect x="198" y="622" width="3" height="2" fill="#807a10"/>
<rect x="228" y="622" width="2" height="2" fill="#8a6a10"/>
<rect x="245" y="622" width="1" height="2" fill="#747c10"/>
<rect x="249" y="622" width="2" height="2" fill="#6a8010"/>
<rect x="264" y="622" width="3" height="2" fill="#80760e"/>
<rect x="296" y="622" width="1" height="2" fill="#807a10"/>
<rect x="300" y="622" width="2" height="2" fill="#747c10"/>
<rect x="311" y="622" width="2" height="2" fill="#8a6a10"/>
<rect x="328" y="622" width="1" height="2" fill="#8a6a10"/>
<rect x="348" y="622" width="4" height="2" fill="#8a6a10"/>
<rect x="361" y="622" width="3" height="2" fill="#6a8010"/>
<rect x="365" y="622" width="3" height="2" fill="#8a6a10"/>
<rect x="379" y="622" width="2" height="2" fill="#807a10"/>
<rect x="384" y="622" width="4" height="2" fill="#80760e"/>
<rect x="395" y="622" width="3" height="2" fill="#747c10"/>
<rect x="419" y="622" width="2" height="2" fill="#747c10"/>
<rect x="430" y="622" width="1" height="2" fill="#807a10"/>
<rect x="438" y="622" width="4" height="2" fill="#747c10"/>
<rect x="188" y="572" width="2" height="2" fill="#80760e"/>
<rect x="241" y="572" width="3" height="2" fill="#747c10"/>
<rect x="269" y="572" width="2" height="2" fill="#80760e"/>
<rect x="204" y="590" width="3" height="2" fill="#747c10"/>
<rect x="210" y="590" width="4" height="2" fill="#80760e"/>
<rect x="249" y="590" width="2" height="2" fill="#6a8010"/>
<rect x="266" y="590" width="3" height="2" fill="#6a8010"/>
<rect x="288" y="590" width="4" height="2" fill="#747c10"/>
<rect x="204" y="544" width="2" height="2" fill="#6a8010"/>
<rect x="921" y="476" width="2" height="2" fill="#80700e"/>
<rect x="933" y="476" width="2" height="2" fill="#80700e"/>
<rect x="936" y="476" width="2" height="2" fill="#80700e"/>
<rect x="942" y="476" width="2" height="2" fill="#80700e"/>
<rect x="960" y="476" width="2" height="2" fill="#80700e"/>
<rect x="961" y="496" width="3" height="2" fill="#80700e"/><rect x="966" y="496" width="1" height="2" fill="#80700e"/>
<rect x="170" y="644" width="330" height="3.2" fill="#d0200a"/>
<rect x="170" y="647" width="330" height="15.5" fill="#7a700c"/>
<rect x="170" y="647" width="2" height="4" fill="#80700c"/>
<rect x="172" y="647" width="3" height="4" fill="#d01808"/>
<rect x="175" y="647" width="1" height="4" fill="#6c760c"/>
<rect x="176" y="647" width="2" height="4" fill="#80700c"/>
<rect x="178" y="647" width="2" height="4" fill="#746f0c"/>
<rect x="180" y="647" width="4" height="4" fill="#86680c"/>
<rect x="184" y="647" width="2" height="4" fill="#86680c"/>
<rect x="186" y="647" width="3" height="4" fill="#80700c"/>
<rect x="189" y="647" width="1" height="4" fill="#6c760c"/>
<rect x="190" y="647" width="1" height="4" fill="#746f0c"/>
<rect x="191" y="647" width="3" height="4" fill="#2c8c10"/>
<rect x="194" y="647" width="1" height="4" fill="#86680c"/>
<rect x="195" y="647" width="2" height="4" fill="#746f0c"/>
<rect x="197" y="647" width="4" height="4" fill="#c83008"/>
<rect x="201" y="647" width="1" height="4" fill="#80700c"/>
<rect x="202" y="647" width="2" height="4" fill="#80700c"/>
<rect x="207" y="647" width="1" height="4" fill="#80700c"/>
<rect x="208" y="647" width="2" height="4" fill="#746f0c"/>
<rect x="216" y="647" width="1" height="4" fill="#d01808"/>
<rect x="217" y="647" width="1" height="4" fill="#6c760c"/>
<rect x="218" y="647" width="4" height="4" fill="#4c8410"/>
<rect x="222" y="647" width="2" height="4" fill="#86680c"/>
<rect x="224" y="647" width="2" height="4" fill="#746f0c"/>
<rect x="228" y="647" width="3" height="4" fill="#6c760c"/>
<rect x="233" y="647" width="1" height="4" fill="#c83008"/>
<rect x="237" y="647" width="1" height="4" fill="#6c760c"/>
<rect x="238" y="647" width="2" height="4" fill="#80700c"/>
<rect x="240" y="647" width="1" height="4" fill="#4c8410"/>
<rect x="242" y="647" width="1" height="4" fill="#86680c"/>
<rect x="243" y="647" width="1" height="4" fill="#746f0c"/>
<rect x="244" y="647" width="2" height="4" fill="#746f0c"/>
<rect x="246" y="647" width="1" height="4" fill="#80700c"/>
<rect x="248" y="647" width="1" height="4" fill="#808080"/>
<rect x="249" y="647" width="1" height="4" fill="#746f0c"/>
<rect x="250" y="647" width="2" height="4" fill="#c83008"/>
<rect x="255" y="647" width="4" height="4" fill="#6c760c"/>
<rect x="259" y="647" width="3" height="4" fill="#6c760c"/>
<rect x="262" y="647" width="1" height="4" fill="#808080"/>
<rect x="263" y="647" width="1" height="4" fill="#746f0c"/>
<rect x="264" y="647" width="2" height="4" fill="#6c760c"/>
<rect x="266" y="647" width="3" height="4" fill="#b0480a"/>
<rect x="269" y="647" width="4" height="4" fill="#746f0c"/>
<rect x="277" y="647" width="4" height="4" fill="#86680c"/>
<rect x="281" y="647" width="2" height="4" fill="#80700c"/>
<rect x="286" y="647" width="4" height="4" fill="#86680c"/>
<rect x="290" y="647" width="1" height="4" fill="#6c760c"/>
<rect x="291" y="647" width="4" height="4" fill="#746f0c"/>
<rect x="295" y="647" width="3" height="4" fill="#86680c"/>
<rect x="298" y="647" width="1" height="4" fill="#6c760c"/>
<rect x="302" y="647" width="2" height="4" fill="#6c760c"/>
<rect x="304" y="647" width="3" height="4" fill="#80700c"/>
<rect x="307" y="647" width="1" height="4" fill="#808080"/>
<rect x="308" y="647" width="4" height="4" fill="#746f0c"/>
<rect x="312" y="647" width="1" height="4" fill="#109410"/>
<rect x="313" y="647" width="3" height="4" fill="#d01808"/>
<rect x="316" y="647" width="3" height="4" fill="#80700c"/>
<rect x="319" y="647" width="2" height="4" fill="#c83008"/>
<rect x="321" y="647" width="1" height="4" fill="#746f0c"/>
<rect x="326" y="647" width="4" height="4" fill="#c83008"/>
<rect x="330" y="647" width="2" height="4" fill="#746f0c"/>
<rect x="332" y="647" width="2" height="4" fill="#746f0c"/>
<rect x="334" y="647" width="3" height="4" fill="#80700c"/>
<rect x="337" y="647" width="3" height="4" fill="#746f0c"/>
<rect x="340" y="647" width="1" height="4" fill="#2c8c10"/>
<rect x="341" y="647" width="4" height="4" fill="#86680c"/>
<rect x="345" y="647" width="2" height="4" fill="#6c760c"/>
<rect x="347" y="647" width="3" height="4" fill="#6c760c"/>
<rect x="350" y="647" width="2" height="4" fill="#86680c"/>
<rect x="352" y="647" width="1" height="4" fill="#d01808"/>
<rect x="353" y="647" width="3" height="4" fill="#746f0c"/>
<rect x="356" y="647" width="2" height="4" fill="#d01808"/>
<rect x="358" y="647" width="1" height="4" fill="#808080"/>
<rect x="359" y="647" width="4" height="4" fill="#b0480a"/>
<rect x="363" y="647" width="1" height="4" fill="#86680c"/>
<rect x="364" y="647" width="1" height="4" fill="#6c760c"/>
<rect x="365" y="647" width="2" height="4" fill="#86680c"/>
<rect x="367" y="647" width="4" height="4" fill="#86680c"/>
<rect x="371" y="647" width="2" height="4" fill="#c83008"/>
<rect x="373" y="647" width="2" height="4" fill="#746f0c"/>
<rect x="375" y="647" width="2" height="4" fill="#86680c"/>
<rect x="377" y="647" width="1" height="4" fill="#746f0c"/>
<rect x="378" y="647" width="4" height="4" fill="#86680c"/>
<rect x="382" y="647" width="3" height="4" fill="#86680c"/>
<rect x="385" y="647" width="4" height="4" fill="#808080"/>
<rect x="393" y="647" width="4" height="4" fill="#86680c"/>
<rect x="397" y="647" width="4" height="4" fill="#746f0c"/>
<rect x="401" y="647" width="4" height="4" fill="#746f0c"/>
<rect x="405" y="647" width="4" height="4" fill="#6c760c"/>
<rect x="409" y="647" width="4" height="4" fill="#746f0c"/>
<rect x="413" y="647" width="1" height="4" fill="#86680c"/>
<rect x="414" y="647" width="3" height="4" fill="#80700c"/>
<rect x="419" y="647" width="2" height="4" fill="#2c8c10"/>
<rect x="421" y="647" width="4" height="4" fill="#80700c"/>
<rect x="425" y="647" width="3" height="4" fill="#4c8410"/>
<rect x="428" y="647" width="1" height="4" fill="#6c760c"/>
<rect x="429" y="647" width="2" height="4" fill="#80700c"/>
<rect x="431" y="647" width="1" height="4" fill="#6c760c"/>
<rect x="432" y="647" width="1" height="4" fill="#2c8c10"/>
<rect x="433" y="647" width="3" height="4" fill="#6c760c"/>
<rect x="436" y="647" width="2" height="4" fill="#2c8c10"/>
<rect x="438" y="647" width="2" height="4" fill="#6c760c"/>
<rect x="440" y="647" width="2" height="4" fill="#80700c"/>
<rect x="442" y="647" width="4" height="4" fill="#86680c"/>
<rect x="448" y="647" width="4" height="4" fill="#86680c"/>
<rect x="452" y="647" width="1" height="4" fill="#80700c"/>
<rect x="456" y="647" width="2" height="4" fill="#80700c"/>
<rect x="458" y="647" width="2" height="4" fill="#80700c"/>
<rect x="460" y="647" width="2" height="4" fill="#c83008"/>
<rect x="462" y="647" width="2" height="4" fill="#b0480a"/>
<rect x="465" y="647" width="3" height="4" fill="#6c760c"/>
<rect x="468" y="647" width="1" height="4" fill="#80700c"/>
<rect x="469" y="647" width="1" height="4" fill="#6c760c"/>
<rect x="474" y="647" width="4" height="4" fill="#80700c"/>
<rect x="478" y="647" width="1" height="4" fill="#6c760c"/>
<rect x="484" y="647" width="1" height="4" fill="#4c8410"/>
<rect x="488" y="647" width="2" height="4" fill="#86680c"/>
<rect x="490" y="647" width="2" height="4" fill="#86680c"/>
<rect x="494" y="647" width="1" height="4" fill="#86680c"/>
<rect x="495" y="647" width="3" height="4" fill="#86680c"/>
<rect x="501" y="647" width="1" height="4" fill="#746f0c"/>
<rect x="504" y="647" width="1" height="4" fill="#c83008"/>
<rect x="505" y="647" width="2" height="4" fill="#2c8c10"/>
<rect x="507" y="647" width="2" height="4" fill="#86680c"/>
<rect x="509" y="647" width="2" height="4" fill="#80700c"/>
<rect x="515" y="647" width="2" height="4" fill="#746f0c"/>
<rect x="517" y="647" width="1" height="4" fill="#746f0c"/>
<rect x="518" y="647" width="2" height="4" fill="#80700c"/>
<rect x="520" y="647" width="1" height="4" fill="#b0480a"/>
<rect x="526" y="647" width="4" height="4" fill="#86680c"/>
<rect x="170" y="651" width="2" height="4" fill="#109410"/>
<rect x="172" y="651" width="4" height="4" fill="#80700c"/>
<rect x="176" y="651" width="3" height="4" fill="#808080"/>
<rect x="179" y="651" width="2" height="4" fill="#86680c"/>
<rect x="181" y="651" width="2" height="4" fill="#746f0c"/>
<rect x="183" y="651" width="1" height="4" fill="#2c8c10"/>
<rect x="184" y="651" width="1" height="4" fill="#746f0c"/>
<rect x="185" y="651" width="3" height="4" fill="#6c760c"/>
<rect x="188" y="651" width="1" height="4" fill="#c83008"/>
<rect x="189" y="651" width="4" height="4" fill="#d01808"/>
<rect x="193" y="651" width="3" height="4" fill="#2c8c10"/>
<rect x="196" y="651" width="4" height="4" fill="#d01808"/>
<rect x="200" y="651" width="3" height="4" fill="#b0480a"/>
<rect x="203" y="651" width="1" height="4" fill="#2c8c10"/>
<rect x="204" y="651" width="2" height="4" fill="#c83008"/>
<rect x="206" y="651" width="2" height="4" fill="#808080"/>
<rect x="208" y="651" width="4" height="4" fill="#6c760c"/>
<rect x="212" y="651" width="2" height="4" fill="#746f0c"/>
<rect x="214" y="651" width="2" height="4" fill="#746f0c"/>
<rect x="216" y="651" width="2" height="4" fill="#2c8c10"/>
<rect x="218" y="651" width="1" height="4" fill="#808080"/>
<rect x="219" y="651" width="3" height="4" fill="#808080"/>
<rect x="222" y="651" width="2" height="4" fill="#6c760c"/>
<rect x="224" y="651" width="3" height="4" fill="#80700c"/>
<rect x="227" y="651" width="2" height="4" fill="#b0480a"/>
<rect x="229" y="651" width="1" height="4" fill="#d01808"/>
<rect x="230" y="651" width="2" height="4" fill="#2c8c10"/>
<rect x="232" y="651" width="3" height="4" fill="#808080"/>
<rect x="235" y="651" width="4" height="4" fill="#109410"/>
<rect x="239" y="651" width="3" height="4" fill="#d01808"/>
<rect x="242" y="651" width="2" height="4" fill="#6c760c"/>
<rect x="244" y="651" width="3" height="4" fill="#4c8410"/>
<rect x="247" y="651" width="1" height="4" fill="#80700c"/>
<rect x="248" y="651" width="1" height="4" fill="#808080"/>
<rect x="249" y="651" width="3" height="4" fill="#808080"/>
<rect x="252" y="651" width="2" height="4" fill="#80700c"/>
<rect x="254" y="651" width="1" height="4" fill="#808080"/>
<rect x="255" y="651" width="3" height="4" fill="#808080"/>
<rect x="259" y="651" width="1" height="4" fill="#746f0c"/>
<rect x="260" y="651" width="1" height="4" fill="#808080"/>
<rect x="261" y="651" width="3" height="4" fill="#d01808"/>
<rect x="264" y="651" width="2" height="4" fill="#80700c"/>
<rect x="268" y="651" width="1" height="4" fill="#86680c"/>
<rect x="269" y="651" width="1" height="4" fill="#86680c"/>
<rect x="270" y="651" width="2" height="4" fill="#808080"/>
<rect x="272" y="651" width="2" height="4" fill="#80700c"/>
<rect x="274" y="651" width="2" height="4" fill="#b0480a"/>
<rect x="276" y="651" width="3" height="4" fill="#d01808"/>
<rect x="279" y="651" width="2" height="4" fill="#746f0c"/>
<rect x="281" y="651" width="1" height="4" fill="#4c8410"/>
<rect x="282" y="651" width="1" height="4" fill="#4c8410"/>
<rect x="283" y="651" width="3" height="4" fill="#80700c"/>
<rect x="286" y="651" width="4" height="4" fill="#808080"/>
<rect x="290" y="651" width="4" height="4" fill="#6c760c"/>
<rect x="294" y="651" width="1" height="4" fill="#746f0c"/>
<rect x="295" y="651" width="2" height="4" fill="#80700c"/>
<rect x="297" y="651" width="2" height="4" fill="#2c8c10"/>
<rect x="299" y="651" width="1" height="4" fill="#4c8410"/>
<rect x="300" y="651" width="2" height="4" fill="#c83008"/>
<rect x="302" y="651" width="1" height="4" fill="#2c8c10"/>
<rect x="303" y="651" width="4" height="4" fill="#d01808"/>
<rect x="307" y="651" width="2" height="4" fill="#2c8c10"/>
<rect x="309" y="651" width="2" height="4" fill="#109410"/>
<rect x="311" y="651" width="1" height="4" fill="#6c760c"/>
<rect x="312" y="651" width="4" height="4" fill="#808080"/>
<rect x="316" y="651" width="4" height="4" fill="#86680c"/>
<rect x="320" y="651" width="2" height="4" fill="#80700c"/>
<rect x="322" y="651" width="1" height="4" fill="#808080"/>
<rect x="325" y="651" width="2" height="4" fill="#d01808"/>
<rect x="327" y="651" width="1" height="4" fill="#d01808"/>
<rect x="328" y="651" width="1" height="4" fill="#4c8410"/>
<rect x="329" y="651" width="3" height="4" fill="#109410"/>
<rect x="332" y="651" width="4" height="4" fill="#d01808"/>
<rect x="336" y="651" width="1" height="4" fill="#808080"/>
<rect x="337" y="651" width="1" height="4" fill="#d01808"/>
<rect x="338" y="651" width="1" height="4" fill="#b0480a"/>
<rect x="339" y="651" width="2" height="4" fill="#109410"/>
<rect x="342" y="651" width="4" height="4" fill="#80700c"/>
<rect x="346" y="651" width="3" height="4" fill="#746f0c"/>
<rect x="349" y="651" width="1" height="4" fill="#b0480a"/>
<rect x="350" y="651" width="2" height="4" fill="#746f0c"/>
<rect x="352" y="651" width="4" height="4" fill="#4c8410"/>
<rect x="356" y="651" width="1" height="4" fill="#808080"/>
<rect x="357" y="651" width="4" height="4" fill="#2c8c10"/>
<rect x="361" y="651" width="2" height="4" fill="#6c760c"/>
<rect x="363" y="651" width="1" height="4" fill="#b0480a"/>
<rect x="364" y="651" width="1" height="4" fill="#6c760c"/>
<rect x="365" y="651" width="1" height="4" fill="#d01808"/>
<rect x="366" y="651" width="2" height="4" fill="#6c760c"/>
<rect x="368" y="651" width="1" height="4" fill="#b0480a"/>
<rect x="369" y="651" width="1" height="4" fill="#c83008"/>
<rect x="370" y="651" width="4" height="4" fill="#2c8c10"/>
<rect x="374" y="651" width="3" height="4" fill="#808080"/>
<rect x="377" y="651" width="1" height="4" fill="#b0480a"/>
<rect x="378" y="651" width="3" height="4" fill="#86680c"/>
<rect x="381" y="651" width="2" height="4" fill="#86680c"/>
<rect x="383" y="651" width="1" height="4" fill="#b0480a"/>
<rect x="384" y="651" width="4" height="4" fill="#808080"/>
<rect x="388" y="651" width="2" height="4" fill="#808080"/>
<rect x="390" y="651" width="1" height="4" fill="#d01808"/>
<rect x="391" y="651" width="2" height="4" fill="#2c8c10"/>
<rect x="393" y="651" width="2" height="4" fill="#d01808"/>
<rect x="395" y="651" width="1" height="4" fill="#808080"/>
<rect x="396" y="651" width="1" height="4" fill="#808080"/>
<rect x="397" y="651" width="1" height="4" fill="#86680c"/>
<rect x="398" y="651" width="1" height="4" fill="#808080"/>
<rect x="399" y="651" width="1" height="4" fill="#2c8c10"/>
<rect x="400" y="651" width="1" height="4" fill="#746f0c"/>
<rect x="401" y="651" width="1" height="4" fill="#c83008"/>
<rect x="402" y="651" width="1" height="4" fill="#d01808"/>
<rect x="403" y="651" width="4" height="4" fill="#808080"/>
<rect x="407" y="651" width="2" height="4" fill="#808080"/>
<rect x="409" y="651" width="2" height="4" fill="#c83008"/>
<rect x="411" y="651" width="1" height="4" fill="#6c760c"/>
<rect x="412" y="651" width="2" height="4" fill="#746f0c"/>
<rect x="414" y="651" width="1" height="4" fill="#c83008"/>
<rect x="415" y="651" width="2" height="4" fill="#109410"/>
<rect x="417" y="651" width="4" height="4" fill="#6c760c"/>
<rect x="421" y="651" width="3" height="4" fill="#808080"/>
<rect x="424" y="651" width="3" height="4" fill="#d01808"/>
<rect x="427" y="651" width="4" height="4" fill="#4c8410"/>
<rect x="431" y="651" width="2" height="4" fill="#d01808"/>
<rect x="433" y="651" width="2" height="4" fill="#2c8c10"/>
<rect x="438" y="651" width="1" height="4" fill="#d01808"/>
<rect x="439" y="651" width="1" height="4" fill="#746f0c"/>
<rect x="440" y="651" width="4" height="4" fill="#b0480a"/>
<rect x="444" y="651" width="3" height="4" fill="#109410"/>
<rect x="447" y="651" width="1" height="4" fill="#d01808"/>
<rect x="448" y="651" width="4" height="4" fill="#746f0c"/>
<rect x="452" y="651" width="2" height="4" fill="#b0480a"/>
<rect x="454" y="651" width="1" height="4" fill="#6c760c"/>
<rect x="455" y="651" width="2" height="4" fill="#b0480a"/>
<rect x="457" y="651" width="1" height="4" fill="#d01808"/>
<rect x="458" y="651" width="1" height="4" fill="#808080"/>
<rect x="459" y="651" width="2" height="4" fill="#4c8410"/>
<rect x="463" y="651" width="3" height="4" fill="#86680c"/>
<rect x="466" y="651" width="2" height="4" fill="#2c8c10"/>
<rect x="468" y="651" width="3" height="4" fill="#c83008"/>
<rect x="471" y="651" width="4" height="4" fill="#86680c"/>
<rect x="475" y="651" width="1" height="4" fill="#2c8c10"/>
<rect x="476" y="651" width="2" height="4" fill="#2c8c10"/>
<rect x="478" y="651" width="1" height="4" fill="#c83008"/>
<rect x="479" y="651" width="2" height="4" fill="#b0480a"/>
<rect x="481" y="651" width="4" height="4" fill="#86680c"/>
<rect x="485" y="651" width="4" height="4" fill="#b0480a"/>
<rect x="489" y="651" width="1" height="4" fill="#109410"/>
<rect x="490" y="651" width="1" height="4" fill="#d01808"/>
<rect x="494" y="651" width="1" height="4" fill="#2c8c10"/>
<rect x="499" y="651" width="1" height="4" fill="#80700c"/>
<rect x="500" y="651" width="4" height="4" fill="#808080"/>
<rect x="505" y="651" width="2" height="4" fill="#b0480a"/>
<rect x="512" y="651" width="1" height="4" fill="#80700c"/>
<rect x="523" y="651" width="1" height="4" fill="#c83008"/>
<rect x="528" y="651" width="1" height="4" fill="#80700c"/>
<rect x="170" y="655" width="4" height="5" fill="#2c8c10"/>
<rect x="176" y="655" width="2" height="5" fill="#86680c"/>
<rect x="178" y="655" width="3" height="5" fill="#4c8410"/>
<rect x="181" y="655" width="4" height="5" fill="#b0480a"/>
<rect x="185" y="655" width="4" height="5" fill="#6c760c"/>
<rect x="189" y="655" width="4" height="5" fill="#6c760c"/>
<rect x="193" y="655" width="2" height="5" fill="#109410"/>
<rect x="195" y="655" width="2" height="5" fill="#109410"/>
<rect x="197" y="655" width="2" height="5" fill="#109410"/>
<rect x="199" y="655" width="1" height="5" fill="#4c8410"/>
<rect x="200" y="655" width="4" height="5" fill="#80700c"/>
<rect x="204" y="655" width="2" height="5" fill="#4c8410"/>
<rect x="206" y="655" width="1" height="5" fill="#4c8410"/>
<rect x="207" y="655" width="1" height="5" fill="#109410"/>
<rect x="208" y="655" width="2" height="5" fill="#746f0c"/>
<rect x="210" y="655" width="1" height="5" fill="#6c760c"/>
<rect x="211" y="655" width="2" height="5" fill="#86680c"/>
<rect x="213" y="655" width="2" height="5" fill="#109410"/>
<rect x="215" y="655" width="3" height="5" fill="#80700c"/>
<rect x="218" y="655" width="1" height="5" fill="#4c8410"/>
<rect x="219" y="655" width="1" height="5" fill="#746f0c"/>
<rect x="220" y="655" width="1" height="5" fill="#746f0c"/>
<rect x="221" y="655" width="3" height="5" fill="#2c8c10"/>
<rect x="224" y="655" width="1" height="5" fill="#80700c"/>
<rect x="225" y="655" width="1" height="5" fill="#6c760c"/>
<rect x="230" y="655" width="1" height="5" fill="#2c8c10"/>
<rect x="231" y="655" width="4" height="5" fill="#109410"/>
<rect x="235" y="655" width="2" height="5" fill="#d01808"/>
<rect x="237" y="655" width="1" height="5" fill="#4c8410"/>
<rect x="238" y="655" width="4" height="5" fill="#86680c"/>
<rect x="242" y="655" width="3" height="5" fill="#2c8c10"/>
<rect x="245" y="655" width="1" height="5" fill="#2c8c10"/>
<rect x="246" y="655" width="3" height="5" fill="#6c760c"/>
<rect x="249" y="655" width="2" height="5" fill="#109410"/>
<rect x="257" y="655" width="3" height="5" fill="#80700c"/>
<rect x="260" y="655" width="1" height="5" fill="#746f0c"/>
<rect x="261" y="655" width="3" height="5" fill="#4c8410"/>
<rect x="264" y="655" width="1" height="5" fill="#109410"/>
<rect x="265" y="655" width="3" height="5" fill="#746f0c"/>
<rect x="268" y="655" width="1" height="5" fill="#109410"/>
<rect x="269" y="655" width="2" height="5" fill="#80700c"/>
<rect x="271" y="655" width="4" height="5" fill="#2c8c10"/>
<rect x="277" y="655" width="4" height="5" fill="#6c760c"/>
<rect x="281" y="655" width="1" height="5" fill="#109410"/>
<rect x="282" y="655" width="4" height="5" fill="#746f0c"/>
<rect x="286" y="655" width="1" height="5" fill="#2c8c10"/>
<rect x="287" y="655" width="3" height="5" fill="#80700c"/>
<rect x="290" y="655" width="1" height="5" fill="#b0480a"/>
<rect x="291" y="655" width="1" height="5" fill="#746f0c"/>
<rect x="292" y="655" width="4" height="5" fill="#d01808"/>
<rect x="296" y="655" width="1" height="5" fill="#80700c"/>
<rect x="297" y="655" width="1" height="5" fill="#2c8c10"/>
<rect x="298" y="655" width="4" height="5" fill="#109410"/>
<rect x="302" y="655" width="1" height="5" fill="#4c8410"/>
<rect x="303" y="655" width="4" height="5" fill="#86680c"/>
<rect x="307" y="655" width="1" height="5" fill="#4c8410"/>
<rect x="308" y="655" width="1" height="5" fill="#4c8410"/>
<rect x="309" y="655" width="1" height="5" fill="#2c8c10"/>
<rect x="310" y="655" width="1" height="5" fill="#109410"/>
<rect x="311" y="655" width="4" height="5" fill="#109410"/>
<rect x="316" y="655" width="2" height="5" fill="#6c760c"/>
<rect x="318" y="655" width="1" height="5" fill="#80700c"/>
<rect x="319" y="655" width="2" height="5" fill="#80700c"/>
<rect x="321" y="655" width="2" height="5" fill="#80700c"/>
<rect x="323" y="655" width="1" height="5" fill="#4c8410"/>
<rect x="324" y="655" width="3" height="5" fill="#86680c"/>
<rect x="327" y="655" width="1" height="5" fill="#4c8410"/>
<rect x="328" y="655" width="2" height="5" fill="#6c760c"/>
<rect x="330" y="655" width="4" height="5" fill="#4c8410"/>
<rect x="334" y="655" width="1" height="5" fill="#6c760c"/>
<rect x="335" y="655" width="1" height="5" fill="#2c8c10"/>
<rect x="336" y="655" width="3" height="5" fill="#86680c"/>
<rect x="339" y="655" width="2" height="5" fill="#6c760c"/>
<rect x="345" y="655" width="3" height="5" fill="#109410"/>
<rect x="348" y="655" width="1" height="5" fill="#2c8c10"/>
<rect x="349" y="655" width="4" height="5" fill="#4c8410"/>
<rect x="353" y="655" width="4" height="5" fill="#86680c"/>
<rect x="357" y="655" width="3" height="5" fill="#746f0c"/>
<rect x="360" y="655" width="2" height="5" fill="#4c8410"/>
<rect x="362" y="655" width="1" height="5" fill="#6c760c"/>
<rect x="363" y="655" width="3" height="5" fill="#d01808"/>
<rect x="369" y="655" width="4" height="5" fill="#109410"/>
<rect x="373" y="655" width="4" height="5" fill="#746f0c"/>
<rect x="377" y="655" width="1" height="5" fill="#746f0c"/>
<rect x="378" y="655" width="3" height="5" fill="#2c8c10"/>
<rect x="381" y="655" width="2" height="5" fill="#746f0c"/>
<rect x="383" y="655" width="1" height="5" fill="#746f0c"/>
<rect x="384" y="655" width="4" height="5" fill="#6c760c"/>
<rect x="388" y="655" width="2" height="5" fill="#109410"/>
<rect x="390" y="655" width="1" height="5" fill="#6c760c"/>
<rect x="395" y="655" width="4" height="5" fill="#b0480a"/>
<rect x="399" y="655" width="1" height="5" fill="#6c760c"/>
<rect x="400" y="655" width="1" height="5" fill="#109410"/>
<rect x="401" y="655" width="1" height="5" fill="#6c760c"/>
<rect x="402" y="655" width="3" height="5" fill="#4c8410"/>
<rect x="405" y="655" width="2" height="5" fill="#86680c"/>
<rect x="407" y="655" width="4" height="5" fill="#80700c"/>
<rect x="411" y="655" width="1" height="5" fill="#2c8c10"/>
<rect x="413" y="655" width="2" height="5" fill="#2c8c10"/>
<rect x="415" y="655" width="3" height="5" fill="#80700c"/>
<rect x="418" y="655" width="3" height="5" fill="#109410"/>
<rect x="421" y="655" width="2" height="5" fill="#b0480a"/>
<rect x="423" y="655" width="4" height="5" fill="#746f0c"/>
<rect x="427" y="655" width="1" height="5" fill="#109410"/>
<rect x="428" y="655" width="1" height="5" fill="#86680c"/>
<rect x="429" y="655" width="1" height="5" fill="#86680c"/>
<rect x="430" y="655" width="3" height="5" fill="#746f0c"/>
<rect x="433" y="655" width="3" height="5" fill="#4c8410"/>
<rect x="436" y="655" width="2" height="5" fill="#4c8410"/>
<rect x="438" y="655" width="1" height="5" fill="#c83008"/>
<rect x="440" y="655" width="3" height="5" fill="#2c8c10"/>
<rect x="443" y="655" width="2" height="5" fill="#d01808"/>
<rect x="445" y="655" width="2" height="5" fill="#109410"/>
<rect x="447" y="655" width="3" height="5" fill="#6c760c"/>
<rect x="450" y="655" width="2" height="5" fill="#4c8410"/>
<rect x="452" y="655" width="1" height="5" fill="#80700c"/>
<rect x="453" y="655" width="2" height="5" fill="#b0480a"/>
<rect x="455" y="655" width="1" height="5" fill="#80700c"/>
<rect x="456" y="655" width="1" height="5" fill="#109410"/>
<rect x="457" y="655" width="1" height="5" fill="#4c8410"/>
<rect x="458" y="655" width="2" height="5" fill="#6c760c"/>
<rect x="460" y="655" width="1" height="5" fill="#b0480a"/>
<rect x="461" y="655" width="1" height="5" fill="#6c760c"/>
<rect x="462" y="655" width="3" height="5" fill="#6c760c"/>
<rect x="465" y="655" width="1" height="5" fill="#80700c"/>
<rect x="466" y="655" width="4" height="5" fill="#2c8c10"/>
<rect x="470" y="655" width="2" height="5" fill="#4c8410"/>
<rect x="472" y="655" width="1" height="5" fill="#c83008"/>
<rect x="473" y="655" width="2" height="5" fill="#2c8c10"/>
<rect x="475" y="655" width="1" height="5" fill="#4c8410"/>
<rect x="476" y="655" width="2" height="5" fill="#109410"/>
<rect x="478" y="655" width="1" height="5" fill="#6c760c"/>
<rect x="479" y="655" width="4" height="5" fill="#6c760c"/>
<rect x="483" y="655" width="3" height="5" fill="#746f0c"/>
<rect x="486" y="655" width="2" height="5" fill="#2c8c10"/>
<rect x="488" y="655" width="4" height="5" fill="#80700c"/>
<rect x="494" y="655" width="3" height="5" fill="#109410"/>
<rect x="497" y="655" width="2" height="5" fill="#4c8410"/>
<rect x="506" y="655" width="2" height="5" fill="#2c8c10"/>
<rect x="513" y="655" width="1" height="5" fill="#746f0c"/>
<rect x="514" y="655" width="1" height="5" fill="#6c760c"/>
<rect x="515" y="655" width="2" height="5" fill="#2c8c10"/>
<rect x="517" y="655" width="2" height="5" fill="#80700c"/>
<rect x="520" y="655" width="1" height="5" fill="#6c760c"/>
<rect x="170" y="660" width="2" height="3" fill="#86680c"/>
<rect x="172" y="660" width="1" height="3" fill="#80700c"/>
<rect x="173" y="660" width="2" height="3" fill="#86680c"/>
<rect x="175" y="660" width="2" height="3" fill="#2c8c10"/>
<rect x="177" y="660" width="2" height="3" fill="#746f0c"/>
<rect x="179" y="660" width="4" height="3" fill="#746f0c"/>
<rect x="183" y="660" width="3" height="3" fill="#6c760c"/>
<rect x="186" y="660" width="4" height="3" fill="#c83008"/>
<rect x="191" y="660" width="3" height="3" fill="#746f0c"/>
<rect x="196" y="660" width="2" height="3" fill="#6c760c"/>
<rect x="198" y="660" width="4" height="3" fill="#2c8c10"/>
<rect x="202" y="660" width="1" height="3" fill="#86680c"/>
<rect x="203" y="660" width="2" height="3" fill="#86680c"/>
<rect x="205" y="660" width="3" height="3" fill="#746f0c"/>
<rect x="208" y="660" width="1" height="3" fill="#746f0c"/>
<rect x="209" y="660" width="2" height="3" fill="#746f0c"/>
<rect x="211" y="660" width="4" height="3" fill="#86680c"/>
<rect x="218" y="660" width="3" height="3" fill="#c83008"/>
<rect x="221" y="660" width="2" height="3" fill="#6c760c"/>
<rect x="223" y="660" width="1" height="3" fill="#746f0c"/>
<rect x="224" y="660" width="4" height="3" fill="#80700c"/>
<rect x="230" y="660" width="3" height="3" fill="#746f0c"/>
<rect x="233" y="660" width="2" height="3" fill="#80700c"/>
<rect x="235" y="660" width="2" height="3" fill="#109410"/>
<rect x="240" y="660" width="2" height="3" fill="#d01808"/>
<rect x="242" y="660" width="1" height="3" fill="#b0480a"/>
<rect x="243" y="660" width="1" height="3" fill="#109410"/>
<rect x="244" y="660" width="2" height="3" fill="#86680c"/>
<rect x="246" y="660" width="1" height="3" fill="#4c8410"/>
<rect x="247" y="660" width="1" height="3" fill="#746f0c"/>
<rect x="248" y="660" width="2" height="3" fill="#6c760c"/>
<rect x="250" y="660" width="1" height="3" fill="#6c760c"/>
<rect x="252" y="660" width="3" height="3" fill="#b0480a"/>
<rect x="255" y="660" width="2" height="3" fill="#6c760c"/>
<rect x="257" y="660" width="1" height="3" fill="#d01808"/>
<rect x="258" y="660" width="1" height="3" fill="#746f0c"/>
<rect x="264" y="660" width="4" height="3" fill="#6c760c"/>
<rect x="268" y="660" width="1" height="3" fill="#4c8410"/>
<rect x="269" y="660" width="3" height="3" fill="#80700c"/>
<rect x="272" y="660" width="1" height="3" fill="#746f0c"/>
<rect x="273" y="660" width="1" height="3" fill="#6c760c"/>
<rect x="274" y="660" width="2" height="3" fill="#80700c"/>
<rect x="280" y="660" width="2" height="3" fill="#80700c"/>
<rect x="282" y="660" width="2" height="3" fill="#746f0c"/>
<rect x="284" y="660" width="3" height="3" fill="#d01808"/>
<rect x="287" y="660" width="1" height="3" fill="#86680c"/>
<rect x="288" y="660" width="4" height="3" fill="#80700c"/>
<rect x="292" y="660" width="2" height="3" fill="#b0480a"/>
<rect x="294" y="660" width="1" height="3" fill="#6c760c"/>
<rect x="295" y="660" width="4" height="3" fill="#86680c"/>
<rect x="299" y="660" width="2" height="3" fill="#746f0c"/>
<rect x="301" y="660" width="1" height="3" fill="#c83008"/>
<rect x="302" y="660" width="4" height="3" fill="#c83008"/>
<rect x="310" y="660" width="2" height="3" fill="#86680c"/>
<rect x="312" y="660" width="2" height="3" fill="#b0480a"/>
<rect x="314" y="660" width="4" height="3" fill="#80700c"/>
<rect x="321" y="660" width="1" height="3" fill="#80700c"/>
<rect x="322" y="660" width="2" height="3" fill="#b0480a"/>
<rect x="324" y="660" width="4" height="3" fill="#86680c"/>
<rect x="328" y="660" width="4" height="3" fill="#6c760c"/>
<rect x="332" y="660" width="1" height="3" fill="#80700c"/>
<rect x="333" y="660" width="1" height="3" fill="#746f0c"/>
<rect x="334" y="660" width="3" height="3" fill="#d01808"/>
<rect x="337" y="660" width="2" height="3" fill="#d01808"/>
<rect x="339" y="660" width="2" height="3" fill="#d01808"/>
<rect x="345" y="660" width="2" height="3" fill="#d01808"/>
<rect x="347" y="660" width="3" height="3" fill="#746f0c"/>
<rect x="351" y="660" width="2" height="3" fill="#b0480a"/>
<rect x="353" y="660" width="3" height="3" fill="#80700c"/>
<rect x="356" y="660" width="2" height="3" fill="#86680c"/>
<rect x="358" y="660" width="1" height="3" fill="#c83008"/>
<rect x="359" y="660" width="4" height="3" fill="#c83008"/>
<rect x="363" y="660" width="2" height="3" fill="#c83008"/>
<rect x="365" y="660" width="4" height="3" fill="#b0480a"/>
<rect x="369" y="660" width="4" height="3" fill="#b0480a"/>
<rect x="373" y="660" width="4" height="3" fill="#2c8c10"/>
<rect x="377" y="660" width="2" height="3" fill="#746f0c"/>
<rect x="379" y="660" width="3" height="3" fill="#109410"/>
<rect x="383" y="660" width="1" height="3" fill="#c83008"/>
<rect x="388" y="660" width="3" height="3" fill="#b0480a"/>
<rect x="391" y="660" width="2" height="3" fill="#86680c"/>
<rect x="393" y="660" width="1" height="3" fill="#6c760c"/>
<rect x="394" y="660" width="3" height="3" fill="#86680c"/>
<rect x="400" y="660" width="1" height="3" fill="#6c760c"/>
<rect x="404" y="660" width="2" height="3" fill="#80700c"/>
<rect x="406" y="660" width="1" height="3" fill="#b0480a"/>
<rect x="407" y="660" width="1" height="3" fill="#d01808"/>
<rect x="408" y="660" width="2" height="3" fill="#746f0c"/>
<rect x="414" y="660" width="4" height="3" fill="#86680c"/>
<rect x="418" y="660" width="2" height="3" fill="#2c8c10"/>
<rect x="420" y="660" width="2" height="3" fill="#d01808"/>
<rect x="422" y="660" width="1" height="3" fill="#c83008"/>
<rect x="423" y="660" width="1" height="3" fill="#2c8c10"/>
<rect x="424" y="660" width="1" height="3" fill="#b0480a"/>
<rect x="425" y="660" width="1" height="3" fill="#86680c"/>
<rect x="426" y="660" width="1" height="3" fill="#746f0c"/>
<rect x="427" y="660" width="2" height="3" fill="#86680c"/>
<rect x="429" y="660" width="1" height="3" fill="#d01808"/>
<rect x="430" y="660" width="1" height="3" fill="#86680c"/>
<rect x="433" y="660" width="4" height="3" fill="#80700c"/>
<rect x="441" y="660" width="3" height="3" fill="#d01808"/>
<rect x="444" y="660" width="1" height="3" fill="#4c8410"/>
<rect x="445" y="660" width="1" height="3" fill="#746f0c"/>
<rect x="446" y="660" width="1" height="3" fill="#80700c"/>
<rect x="447" y="660" width="4" height="3" fill="#109410"/>
<rect x="451" y="660" width="4" height="3" fill="#86680c"/>
<rect x="455" y="660" width="2" height="3" fill="#80700c"/>
<rect x="457" y="660" width="2" height="3" fill="#80700c"/>
<rect x="459" y="660" width="1" height="3" fill="#109410"/>
<rect x="460" y="660" width="3" height="3" fill="#6c760c"/>
<rect x="463" y="660" width="1" height="3" fill="#b0480a"/>
<rect x="464" y="660" width="1" height="3" fill="#b0480a"/>
<rect x="465" y="660" width="3" height="3" fill="#746f0c"/>
<rect x="468" y="660" width="3" height="3" fill="#6c760c"/>
<rect x="471" y="660" width="1" height="3" fill="#2c8c10"/>
<rect x="476" y="660" width="1" height="3" fill="#d01808"/>
<rect x="477" y="660" width="2" height="3" fill="#86680c"/>
<rect x="479" y="660" width="2" height="3" fill="#c83008"/>
<rect x="481" y="660" width="4" height="3" fill="#746f0c"/>
<rect x="485" y="660" width="4" height="3" fill="#80700c"/>
<rect x="489" y="660" width="1" height="3" fill="#b0480a"/>
<rect x="495" y="660" width="2" height="3" fill="#c83008"/>
<rect x="500" y="660" width="1" height="3" fill="#4c8410"/>
<rect x="507" y="660" width="1" height="3" fill="#746f0c"/>
<rect x="511" y="660" width="1" height="3" fill="#2c8c10"/>
<rect x="512" y="660" width="3" height="3" fill="#b0480a"/>
<rect x="515" y="660" width="4" height="3" fill="#80700c"/>
<rect x="172" y="644" width="2" height="3" fill="#b8400c"/>
<rect x="245" y="644" width="1" height="3" fill="#808010"/>
<rect x="344" y="644" width="2" height="3" fill="#808010"/>
<rect x="400" y="644" width="1" height="3" fill="#808010"/>
<rect x="272" y="644" width="2" height="3" fill="#e04010"/>
<rect x="174" y="644" width="2" height="3" fill="#e04010"/>
<rect x="271" y="644" width="1" height="3" fill="#808010"/>
<rect x="368" y="644" width="1" height="3" fill="#808010"/>
<rect x="261" y="644" width="1" height="3" fill="#e04010"/>
<rect x="322" y="644" width="2" height="3" fill="#808010"/>
<rect x="278" y="644" width="3" height="3" fill="#b8400c"/>
<rect x="458" y="644" width="1" height="3" fill="#b8400c"/>
<rect x="306" y="644" width="1" height="3" fill="#e04010"/>
<rect x="189" y="644" width="2" height="3" fill="#e04010"/>
<rect x="330" y="644" width="2" height="3" fill="#b8400c"/>
<rect x="248" y="644" width="1" height="3" fill="#e04010"/>
<rect x="379" y="644" width="2" height="3" fill="#e04010"/>
<rect x="240" y="644" width="1" height="3" fill="#808010"/>
<rect x="330" y="644" width="2" height="3" fill="#e04010"/>
<rect x="369" y="644" width="1" height="3" fill="#808010"/>
<rect x="196" y="644" width="1" height="3" fill="#808010"/>
<rect x="391" y="644" width="2" height="3" fill="#808010"/>
<rect x="210" y="644" width="1" height="3" fill="#e04010"/>
<rect x="362" y="644" width="2" height="3" fill="#b8400c"/>
<rect x="340" y="644" width="2" height="3" fill="#808010"/>
<rect x="343" y="644" width="2" height="3" fill="#e04010"/>
<rect x="405" y="644" width="1" height="3" fill="#e04010"/>
<rect x="360" y="644" width="1" height="3" fill="#e04010"/>
<rect x="221" y="644" width="3" height="3" fill="#b8400c"/>
<rect x="391" y="644" width="1" height="3" fill="#808010"/>
<rect x="193" y="644" width="3" height="3" fill="#808010"/>
<rect x="341" y="644" width="2" height="3" fill="#e04010"/>
<rect x="194" y="644" width="3" height="3" fill="#b8400c"/>
<rect x="228" y="644" width="2" height="3" fill="#e04010"/>
<rect x="221" y="644" width="3" height="3" fill="#808010"/>
<rect x="395" y="644" width="2" height="3" fill="#808010"/>
<rect x="441" y="644" width="3" height="3" fill="#e04010"/>
<rect x="472" y="644" width="3" height="3" fill="#e04010"/>
<rect x="400" y="644" width="3" height="3" fill="#e04010"/>
<rect x="316" y="644" width="1" height="3" fill="#e04010"/>
<rect x="473" y="644" width="1" height="3" fill="#808010"/>
<rect x="378" y="644" width="1" height="3" fill="#e04010"/>
<rect x="230" y="644" width="2" height="3" fill="#808010"/>
<rect x="451" y="644" width="3" height="3" fill="#b8400c"/>
<rect x="453" y="644" width="2" height="3" fill="#b8400c"/>
<rect x="198" y="644" width="3" height="3" fill="#b8400c"/>
<rect x="360" y="644" width="3" height="3" fill="#808010"/>
<rect x="332" y="644" width="2" height="3" fill="#e04010"/>
<rect x="499" y="644" width="1" height="3" fill="#e04010"/>
<rect x="264" y="644" width="2" height="3" fill="#e04010"/>
<rect x="232" y="644" width="2" height="3" fill="#e04010"/>
<rect x="297" y="644" width="1" height="3" fill="#b8400c"/>
<rect x="412" y="644" width="3" height="3" fill="#e04010"/>
<rect x="378" y="644" width="2" height="3" fill="#b8400c"/>
<rect x="272" y="644" width="1" height="3" fill="#b8400c"/>
<rect x="222" y="644" width="2" height="3" fill="#b8400c"/>
<rect x="374" y="644" width="2" height="3" fill="#808010"/>
<rect x="374" y="644" width="2" height="3" fill="#e04010"/>
<rect x="256" y="644" width="2" height="3" fill="#808010"/>
<rect x="472" y="644" width="2" height="3" fill="#808010"/>
<rect x="391" y="644" width="3" height="3" fill="#e04010"/>
<rect x="400" y="644" width="1" height="3" fill="#e04010"/>
<rect x="315" y="644" width="1" height="3" fill="#808010"/>
<rect x="475" y="644" width="3" height="3" fill="#e04010"/>
<rect x="220" y="644" width="3" height="3" fill="#e04010"/>
<rect x="346" y="644" width="3" height="3" fill="#b8400c"/>
<rect x="433" y="644" width="1" height="3" fill="#b8400c"/>
<rect x="292" y="644" width="2" height="3" fill="#b8400c"/>
<rect x="421" y="644" width="2" height="3" fill="#b8400c"/>
<rect x="443" y="644" width="3" height="3" fill="#808010"/>
<rect x="187" y="644" width="1" height="3" fill="#808010"/>
<rect x="172" y="644" width="1" height="3" fill="#e04010"/>
<rect x="443" y="644" width="3" height="3" fill="#e04010"/>
<rect x="216" y="644" width="2" height="3" fill="#e04010"/>
<rect x="349" y="644" width="3" height="3" fill="#b8400c"/>
<rect x="237" y="644" width="2" height="3" fill="#808010"/>
<rect x="227" y="644" width="3" height="3" fill="#b8400c"/>
<rect x="243" y="644" width="1" height="3" fill="#b8400c"/>
<rect x="191" y="644" width="2" height="3" fill="#b8400c"/>
<rect x="291" y="644" width="1" height="3" fill="#e04010"/>
<rect x="385" y="644" width="1" height="3" fill="#b8400c"/>
<rect x="486" y="644" width="2" height="3" fill="#e04010"/>
<rect x="285" y="644" width="1" height="3" fill="#808010"/>
<rect x="375" y="644" width="2" height="3" fill="#e04010"/>
<rect x="273" y="644" width="1" height="3" fill="#e04010"/>
<rect x="362" y="644" width="2" height="3" fill="#e04010"/>
<rect x="477" y="644" width="2" height="3" fill="#b8400c"/>
<rect x="277" y="644" width="2" height="3" fill="#808010"/>
<rect x="206" y="644" width="1" height="3" fill="#808010"/>
<rect x="188" y="644" width="2" height="3" fill="#b8400c"/>
<rect x="376" y="641" width="1" height="3" fill="#7c7410"/>
<rect x="450" y="642" width="1" height="2" fill="#189018"/>
<rect x="227" y="641" width="1" height="3" fill="#c83010"/>
<rect x="433" y="642" width="1" height="2" fill="#7c7410"/>
<rect x="256" y="640" width="1" height="4" fill="#b8400c"/>
<rect x="188" y="641" width="1" height="3" fill="#b8400c"/>
<rect x="518" y="641" width="1" height="3" fill="#7c7410"/>
<rect x="303" y="640" width="1" height="4" fill="#c83010"/>
<rect x="403" y="642" width="1" height="2" fill="#189018"/>
<rect x="206" y="638" width="1" height="6" fill="#b8400c"/>
<rect x="251" y="640" width="1" height="4" fill="#b8400c"/>
<rect x="380" y="638" width="1" height="6" fill="#c83010"/>
<rect x="497" y="640" width="1" height="4" fill="#7c7410"/>
<rect x="323" y="641" width="1" height="3" fill="#7c7410"/>
<rect x="537" y="641" width="1" height="3" fill="#7c7410"/>
<rect x="231" y="642" width="1" height="2" fill="#7c7410"/>
<rect x="205" y="642" width="1" height="2" fill="#7c7410"/>
<rect x="351" y="640" width="1" height="4" fill="#7c7410"/>
<rect x="454" y="642" width="1" height="2" fill="#c83010"/>
<rect x="451" y="640" width="1" height="4" fill="#7c7410"/>
<rect x="239" y="641" width="1" height="3" fill="#7c7410"/>
<rect x="262" y="641" width="1" height="3" fill="#b8400c"/>
<rect x="339" y="642" width="1" height="2" fill="#b8400c"/>
<rect x="410" y="638" width="1" height="6" fill="#b8400c"/>
<rect x="202" y="642" width="1" height="2" fill="#7c7410"/>
<rect x="548" y="642" width="1" height="2" fill="#189018"/>
<rect x="238" y="638" width="1" height="6" fill="#b8400c"/>
<rect x="328" y="641" width="1" height="3" fill="#7c7410"/>
<rect x="181" y="638" width="1" height="6" fill="#b8400c"/>
<rect x="483" y="640" width="1" height="4" fill="#b8400c"/>
<rect x="371" y="641" width="1" height="3" fill="#c83010"/>
<rect x="260" y="642" width="1" height="2" fill="#189018"/>
<rect x="487" y="640" width="1" height="4" fill="#7c7410"/>
<rect x="482" y="641" width="1" height="3" fill="#189018"/>
<rect x="512" y="641" width="1" height="3" fill="#b8400c"/>
<rect x="387" y="642" width="1" height="2" fill="#7c7410"/>
<rect x="235" y="641" width="1" height="3" fill="#b8400c"/>
<rect x="269" y="642" width="1" height="2" fill="#189018"/>
<rect x="387" y="640" width="1" height="4" fill="#c83010"/>
<rect x="491" y="638" width="1" height="6" fill="#b8400c"/>
<rect x="262" y="640" width="1" height="4" fill="#b8400c"/>
<rect x="264" y="640" width="1" height="4" fill="#7c7410"/>
<rect x="392" y="640" width="1" height="4" fill="#7c7410"/>
<rect x="217" y="640" width="1" height="4" fill="#7c7410"/>
<rect x="334" y="642" width="1" height="2" fill="#b8400c"/>
<rect x="455" y="638" width="1" height="6" fill="#b8400c"/>
<rect x="314" y="638" width="1" height="6" fill="#7c7410"/>
<rect x="206" y="640" width="1" height="4" fill="#189018"/>
<rect x="184" y="642" width="1" height="2" fill="#189018"/>
<rect x="414" y="640" width="1" height="4" fill="#b8400c"/>
<rect x="201" y="640" width="1" height="4" fill="#189018"/>
<rect x="244" y="638" width="1" height="6" fill="#189018"/>
<rect x="408" y="640" width="1" height="4" fill="#b8400c"/>
<rect x="252" y="638" width="1" height="6" fill="#7c7410"/>
<rect x="328" y="638" width="1" height="6" fill="#c83010"/>
<rect x="368" y="642" width="1" height="2" fill="#c83010"/>
<rect x="553" y="638" width="1" height="6" fill="#7c7410"/>
<rect x="238" y="642" width="1" height="2" fill="#7c7410"/>
<rect x="512" y="640" width="1" height="4" fill="#b8400c"/>
<rect x="328" y="640" width="1" height="4" fill="#7c7410"/>
<rect x="170" y="662.5" width="386" height="3.5" fill="#808080"/>
<rect x="592" y="662.5" width="12" height="3.5" fill="#808080"/>
<rect x="609" y="662.5" width="19" height="3.5" fill="#808080"/>
<rect x="874" y="662.5" width="96" height="3.5" fill="#808080"/>
</g>
<g shape-rendering="crispEdges">
<rect x="239" y="152" width="1" height="3" fill="#0a8c78"/>
<rect x="238" y="158" width="1" height="3" fill="#101050"/>
<rect x="229" y="169" width="1" height="3" fill="#0a7878"/>
<rect x="194" y="195" width="1" height="3" fill="#0a9078"/>
<rect x="204" y="198" width="1" height="3" fill="#103c78"/>
<rect x="233" y="206" width="1" height="3" fill="#f0c014"/>
<rect x="277" y="158" width="1" height="3" fill="#e08a10"/>
<rect x="304" y="185" width="1" height="3" fill="#e04010"/>
<rect x="350" y="179" width="1" height="3" fill="#d82010"/>
<rect x="408" y="144" width="1" height="3" fill="#f0b414"/>
<rect x="429" y="163" width="1" height="3" fill="#c86410"/>
<rect x="396" y="268" width="1" height="3" fill="#e03010"/>
<rect x="425" y="265" width="1" height="3" fill="#c81010"/>
<rect x="432" y="303" width="1" height="3" fill="#c83010"/>
<rect x="450" y="155" width="1" height="3" fill="#101020"/>
<rect x="494" y="187" width="1" height="3" fill="#102878"/>
<rect x="490" y="217" width="1" height="3" fill="#e88210"/>
<rect x="520" y="228" width="1" height="3" fill="#e85a10"/>
<rect x="557" y="136" width="1" height="3" fill="#0a9078"/>
<rect x="598" y="204" width="1" height="3" fill="#e05010"/>
<rect x="652" y="198" width="1" height="3" fill="#101050"/>
<rect x="675" y="158" width="1" height="3" fill="#f0b414"/>
<rect x="681" y="276" width="1" height="3" fill="#e07810"/>
<rect x="438" y="244" width="1" height="3" fill="#6e8c10"/>
<rect x="752" y="150" width="1" height="3" fill="#103c78"/>
<rect x="850" y="139" width="1" height="3" fill="#f0a014"/>
<rect x="844" y="171" width="1" height="3" fill="#101040"/>
<rect x="887" y="195" width="1" height="3" fill="#f0a014"/>
<rect x="752" y="190" width="1" height="3" fill="#148c14"/>
<rect x="186" y="523" width="1" height="3" fill="#e03020"/>
<rect x="178" y="542" width="1" height="3" fill="#0a9078"/>
<rect x="201" y="542" width="1" height="3" fill="#e03020"/>
<rect x="236" y="564" width="1" height="3" fill="#101040"/>
<rect x="189" y="604" width="1" height="3" fill="#101050"/>
<rect x="278" y="593" width="1" height="3" fill="#e86410"/>
<rect x="409" y="639" width="1" height="3" fill="#f0f014"/>
<rect x="925" y="324" width="1" height="3" fill="#f0c014"/>
<rect x="911" y="367" width="1" height="3" fill="#c83010"/>
</g>
<g stroke="#000" stroke-width="1" fill="none" shape-rendering="crispEdges">
<rect x="169.5" y="135.5" width="801.0" height="532.0"/>
<line x1="187.5" y1="667.5" x2="187.5" y2="670.5"/>
<line x1="187.5" y1="135.5" x2="187.5" y2="131.5"/>
<line x1="209.5" y1="667.5" x2="209.5" y2="670.5"/>
<line x1="209.5" y1="135.5" x2="209.5" y2="131.5"/>
<line x1="231.5" y1="667.5" x2="231.5" y2="670.5"/>
<line x1="231.5" y1="135.5" x2="231.5" y2="131.5"/>
<line x1="254.5" y1="667.5" x2="254.5" y2="670.5"/>
<line x1="254.5" y1="135.5" x2="254.5" y2="131.5"/>
<line x1="276.5" y1="667.5" x2="276.5" y2="670.5"/>
<line x1="276.5" y1="135.5" x2="276.5" y2="131.5"/>
<line x1="298.5" y1="667.5" x2="298.5" y2="673.5"/>
<line x1="298.5" y1="135.5" x2="298.5" y2="128.5"/>
<line x1="320.5" y1="667.5" x2="320.5" y2="670.5"/>
<line x1="320.5" y1="135.5" x2="320.5" y2="131.5"/>
<line x1="343.5" y1="667.5" x2="343.5" y2="670.5"/>
<line x1="343.5" y1="135.5" x2="343.5" y2="131.5"/>
<line x1="365.5" y1="667.5" x2="365.5" y2="670.5"/>
<line x1="365.5" y1="135.5" x2="365.5" y2="131.5"/>
<line x1="387.5" y1="667.5" x2="387.5" y2="670.5"/>
<line x1="387.5" y1="135.5" x2="387.5" y2="131.5"/>
<line x1="410.5" y1="667.5" x2="410.5" y2="670.5"/>
<line x1="410.5" y1="135.5" x2="410.5" y2="131.5"/>
<line x1="432.5" y1="667.5" x2="432.5" y2="673.5"/>
<line x1="432.5" y1="135.5" x2="432.5" y2="128.5"/>
<line x1="454.5" y1="667.5" x2="454.5" y2="670.5"/>
<line x1="454.5" y1="135.5" x2="454.5" y2="131.5"/>
<line x1="477.5" y1="667.5" x2="477.5" y2="670.5"/>
<line x1="477.5" y1="135.5" x2="477.5" y2="131.5"/>
<line x1="499.5" y1="667.5" x2="499.5" y2="670.5"/>
<line x1="499.5" y1="135.5" x2="499.5" y2="131.5"/>
<line x1="521.5" y1="667.5" x2="521.5" y2="670.5"/>
<line x1="521.5" y1="135.5" x2="521.5" y2="131.5"/>
<line x1="543.5" y1="667.5" x2="543.5" y2="670.5"/>
<line x1="543.5" y1="135.5" x2="543.5" y2="131.5"/>
<line x1="566.5" y1="667.5" x2="566.5" y2="673.5"/>
<line x1="566.5" y1="135.5" x2="566.5" y2="128.5"/>
<line x1="588.5" y1="667.5" x2="588.5" y2="670.5"/>
<line x1="588.5" y1="135.5" x2="588.5" y2="131.5"/>
<line x1="610.5" y1="667.5" x2="610.5" y2="670.5"/>
<line x1="610.5" y1="135.5" x2="610.5" y2="131.5"/>
<line x1="633.5" y1="667.5" x2="633.5" y2="670.5"/>
<line x1="633.5" y1="135.5" x2="633.5" y2="131.5"/>
<line x1="655.5" y1="667.5" x2="655.5" y2="670.5"/>
<line x1="655.5" y1="135.5" x2="655.5" y2="131.5"/>
<line x1="677.5" y1="667.5" x2="677.5" y2="670.5"/>
<line x1="677.5" y1="135.5" x2="677.5" y2="131.5"/>
<line x1="700.5" y1="667.5" x2="700.5" y2="673.5"/>
<line x1="700.5" y1="135.5" x2="700.5" y2="128.5"/>
<line x1="722.5" y1="667.5" x2="722.5" y2="670.5"/>
<line x1="722.5" y1="135.5" x2="722.5" y2="131.5"/>
<line x1="744.5" y1="667.5" x2="744.5" y2="670.5"/>
<line x1="744.5" y1="135.5" x2="744.5" y2="131.5"/>
<line x1="766.5" y1="667.5" x2="766.5" y2="670.5"/>
<line x1="766.5" y1="135.5" x2="766.5" y2="131.5"/>
<line x1="789.5" y1="667.5" x2="789.5" y2="670.5"/>
<line x1="789.5" y1="135.5" x2="789.5" y2="131.5"/>
<line x1="811.5" y1="667.5" x2="811.5" y2="670.5"/>
<line x1="811.5" y1="135.5" x2="811.5" y2="131.5"/>
<line x1="833.5" y1="667.5" x2="833.5" y2="673.5"/>
<line x1="833.5" y1="135.5" x2="833.5" y2="128.5"/>
<line x1="856.5" y1="667.5" x2="856.5" y2="670.5"/>
<line x1="856.5" y1="135.5" x2="856.5" y2="131.5"/>
<line x1="878.5" y1="667.5" x2="878.5" y2="670.5"/>
<line x1="878.5" y1="135.5" x2="878.5" y2="131.5"/>
<line x1="900.5" y1="667.5" x2="900.5" y2="670.5"/>
<line x1="900.5" y1="135.5" x2="900.5" y2="131.5"/>
<line x1="923.5" y1="667.5" x2="923.5" y2="670.5"/>
<line x1="923.5" y1="135.5" x2="923.5" y2="131.5"/>
<line x1="945.5" y1="667.5" x2="945.5" y2="670.5"/>
<line x1="945.5" y1="135.5" x2="945.5" y2="131.5"/>
<line x1="967.5" y1="667.5" x2="967.5" y2="673.5"/>
<line x1="967.5" y1="135.5" x2="967.5" y2="128.5"/>
<line x1="169.5" y1="652.5" x2="165.5" y2="652.5"/>
<line x1="970.5" y1="652.5" x2="974.5" y2="652.5"/>
<line x1="169.5" y1="630.5" x2="165.5" y2="630.5"/>
<line x1="970.5" y1="630.5" x2="974.5" y2="630.5"/>
<line x1="169.5" y1="607.5" x2="165.5" y2="607.5"/>
<line x1="970.5" y1="607.5" x2="974.5" y2="607.5"/>
<line x1="169.5" y1="584.5" x2="161.5" y2="584.5"/>
<line x1="970.5" y1="584.5" x2="978.5" y2="584.5"/>
<line x1="169.5" y1="562.5" x2="165.5" y2="562.5"/>
<line x1="970.5" y1="562.5" x2="974.5" y2="562.5"/>
<line x1="169.5" y1="540.5" x2="165.5" y2="540.5"/>
<line x1="970.5" y1="540.5" x2="974.5" y2="540.5"/>
<line x1="169.5" y1="517.5" x2="165.5" y2="517.5"/>
<line x1="970.5" y1="517.5" x2="974.5" y2="517.5"/>
<line x1="169.5" y1="494.5" x2="161.5" y2="494.5"/>
<line x1="970.5" y1="494.5" x2="978.5" y2="494.5"/>
<line x1="169.5" y1="472.5" x2="165.5" y2="472.5"/>
<line x1="970.5" y1="472.5" x2="974.5" y2="472.5"/>
<line x1="169.5" y1="450.5" x2="165.5" y2="450.5"/>
<line x1="970.5" y1="450.5" x2="974.5" y2="450.5"/>
<line x1="169.5" y1="427.5" x2="165.5" y2="427.5"/>
<line x1="970.5" y1="427.5" x2="974.5" y2="427.5"/>
<line x1="169.5" y1="404.5" x2="161.5" y2="404.5"/>
<line x1="970.5" y1="404.5" x2="978.5" y2="404.5"/>
<line x1="169.5" y1="382.5" x2="165.5" y2="382.5"/>
<line x1="970.5" y1="382.5" x2="974.5" y2="382.5"/>
<line x1="169.5" y1="360.5" x2="165.5" y2="360.5"/>
<line x1="970.5" y1="360.5" x2="974.5" y2="360.5"/>
<line x1="169.5" y1="337.5" x2="165.5" y2="337.5"/>
<line x1="970.5" y1="337.5" x2="974.5" y2="337.5"/>
<line x1="169.5" y1="314.5" x2="161.5" y2="314.5"/>
<line x1="970.5" y1="314.5" x2="978.5" y2="314.5"/>
<line x1="169.5" y1="292.5" x2="165.5" y2="292.5"/>
<line x1="970.5" y1="292.5" x2="974.5" y2="292.5"/>
<line x1="169.5" y1="270.5" x2="165.5" y2="270.5"/>
<line x1="970.5" y1="270.5" x2="974.5" y2="270.5"/>
<line x1="169.5" y1="247.5" x2="165.5" y2="247.5"/>
<line x1="970.5" y1="247.5" x2="974.5" y2="247.5"/>
<line x1="169.5" y1="224.5" x2="161.5" y2="224.5"/>
<line x1="970.5" y1="224.5" x2="978.5" y2="224.5"/>
<line x1="169.5" y1="202.5" x2="165.5" y2="202.5"/>
<line x1="970.5" y1="202.5" x2="974.5" y2="202.5"/>
<line x1="169.5" y1="180.5" x2="165.5" y2="180.5"/>
<line x1="970.5" y1="180.5" x2="974.5" y2="180.5"/>
<line x1="169.5" y1="157.5" x2="165.5" y2="157.5"/>
<line x1="970.5" y1="157.5" x2="974.5" y2="157.5"/>
</g>
<rect x="990.5" y="135.5" width="20" height="532.0" fill="url(#cb)" stroke="#000" stroke-width="1" shape-rendering="crispEdges"/>
<g stroke="#000" stroke-width="1" shape-rendering="crispEdges">
<line x1="1008" y1="651.5" x2="1010.5" y2="651.5"/>
<line x1="1008" y1="626.5" x2="1010.5" y2="626.5"/>
<line x1="1008" y1="601.5" x2="1010.5" y2="601.5"/>
<line x1="1008" y1="576.5" x2="1010.5" y2="576.5"/>
<line x1="1008" y1="551.5" x2="1010.5" y2="551.5"/>
<line x1="1008" y1="526.5" x2="1010.5" y2="526.5"/>
<line x1="1008" y1="501.5" x2="1010.5" y2="501.5"/>
<line x1="1008" y1="476.5" x2="1010.5" y2="476.5"/>
<line x1="1008" y1="451.5" x2="1010.5" y2="451.5"/>
<line x1="1008" y1="426.5" x2="1010.5" y2="426.5"/>
<line x1="1008" y1="401.5" x2="1010.5" y2="401.5"/>
<line x1="1008" y1="376.5" x2="1010.5" y2="376.5"/>
<line x1="1008" y1="351.5" x2="1010.5" y2="351.5"/>
<line x1="1008" y1="326.5" x2="1010.5" y2="326.5"/>
<line x1="1008" y1="301.5" x2="1010.5" y2="301.5"/>
<line x1="1008" y1="276.5" x2="1010.5" y2="276.5"/>
<line x1="1008" y1="251.5" x2="1010.5" y2="251.5"/>
<line x1="1008" y1="226.5" x2="1010.5" y2="226.5"/>
<line x1="1008" y1="201.5" x2="1010.5" y2="201.5"/>
<line x1="1008" y1="176.5" x2="1010.5" y2="176.5"/>
<line x1="1008" y1="151.5" x2="1010.5" y2="151.5"/>
</g>
<g font-size="18">
<text x="286.8" y="114.7" textLength="611.5" lengthAdjust="spacingAndGlyphs" xml:space="preserve" style="white-space:pre">Doppler Velocity VELg   19:01 05.12.2013 - 22:00 05.12.2013 Muenchen</text>
<text x="275.3" y="694" textLength="46.5" lengthAdjust="spacingAndGlyphs">19:30</text>
<text x="409.1" y="694" textLength="46.5" lengthAdjust="spacingAndGlyphs">20:00</text>
<text x="542.9" y="694" textLength="46.5" lengthAdjust="spacingAndGlyphs">20:30</text>
<text x="676.7" y="694" textLength="46.5" lengthAdjust="spacingAndGlyphs">21:00</text>
<text x="810.5" y="694" textLength="46.5" lengthAdjust="spacingAndGlyphs">21:30</text>
<text x="944.3" y="694" textLength="46.5" lengthAdjust="spacingAndGlyphs">22:00</text>
<text x="525.8" y="714" textLength="86.3" lengthAdjust="spacingAndGlyphs">Time UTC</text>
<text x="146.8" y="590.5" textLength="9.5" lengthAdjust="spacingAndGlyphs">2</text>
<text x="146.8" y="500.5" textLength="9.5" lengthAdjust="spacingAndGlyphs">4</text>
<text x="146.8" y="410.5" textLength="9.5" lengthAdjust="spacingAndGlyphs">6</text>
<text x="146.8" y="320.5" textLength="9.5" lengthAdjust="spacingAndGlyphs">8</text>
<text x="137.3" y="230.5" textLength="19.0" lengthAdjust="spacingAndGlyphs">10</text>
<text transform="translate(119.8,459.4) rotate(-90)" textLength="117" lengthAdjust="spacingAndGlyphs">Height AGL km</text>
<text x="1016" y="158.0" textLength="19.6" lengthAdjust="spacingAndGlyphs">10</text>
<text x="1016" y="282.5" textLength="9.4" lengthAdjust="spacingAndGlyphs">5</text>
<text x="1016" y="407.0" textLength="9.4" lengthAdjust="spacingAndGlyphs">0</text>
<text x="1016" y="531.5" textLength="16.2" lengthAdjust="spacingAndGlyphs">-5</text>
<text x="1016" y="656.0" textLength="25.6" lengthAdjust="spacingAndGlyphs">-10</text>
<text transform="translate(1060.3,438) rotate(-90)" textLength="75" lengthAdjust="spacingAndGlyphs">VELg m/s</text>
</g>
</svg></body></html>
